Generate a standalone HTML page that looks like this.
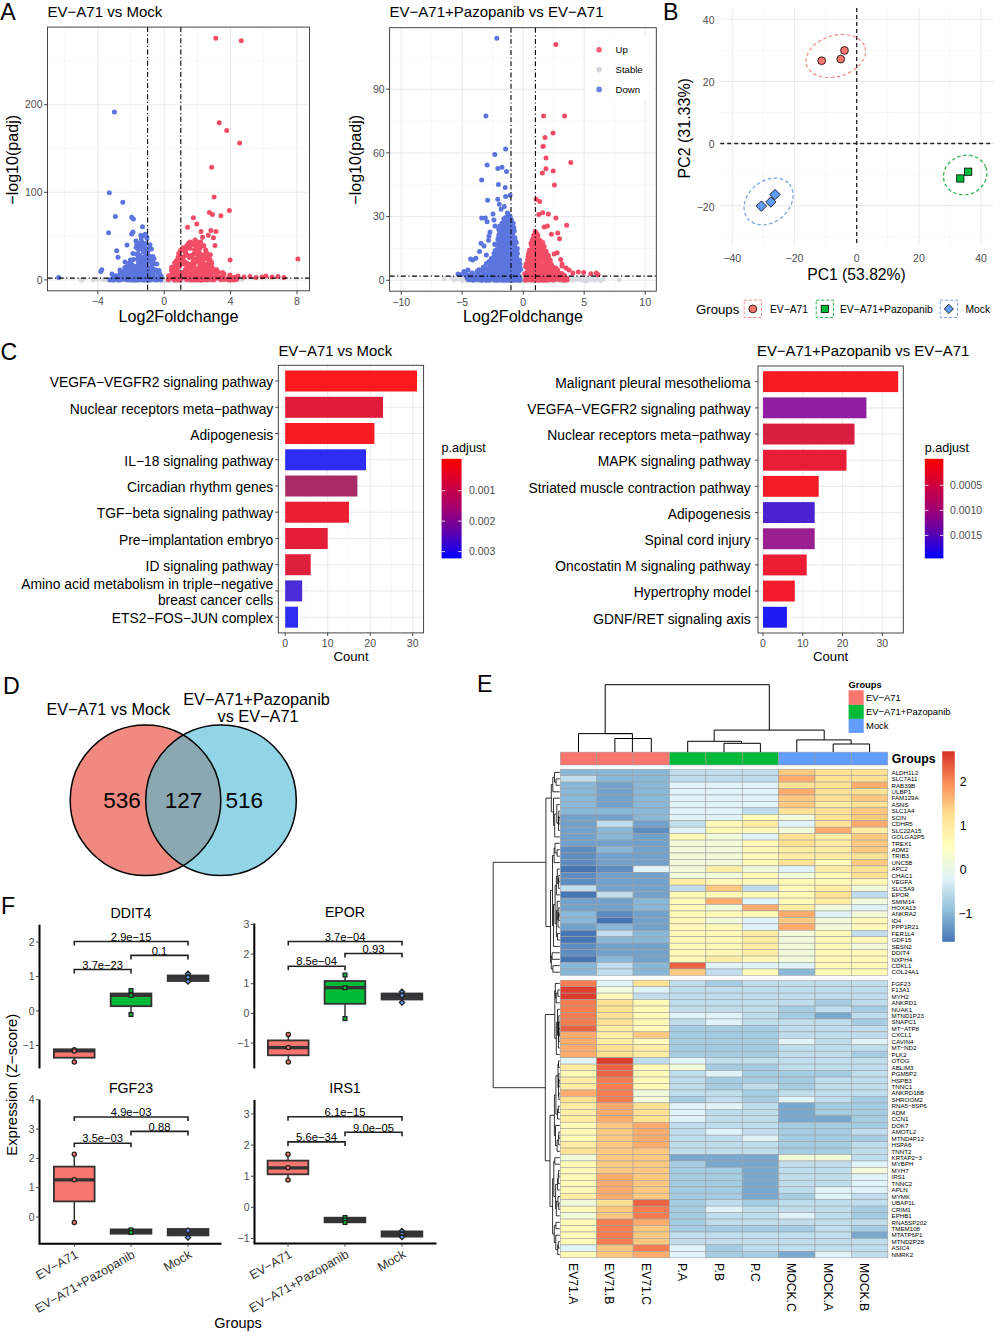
<!DOCTYPE html>
<html><head><meta charset="utf-8"><style>
html,body{margin:0;padding:0;background:#fff;}
svg{display:block;font-family:"Liberation Sans", sans-serif;}
</style></head><body>
<svg width="1002" height="1337" viewBox="0 0 1002 1337">
<rect width="1002" height="1337" fill="#fff"/>
<line x1="64.6" y1="27.1" x2="64.6" y2="290.8" stroke="#F3F3F3" stroke-width="0.6"/>
<line x1="131.0" y1="27.1" x2="131.0" y2="290.8" stroke="#F3F3F3" stroke-width="0.6"/>
<line x1="197.4" y1="27.1" x2="197.4" y2="290.8" stroke="#F3F3F3" stroke-width="0.6"/>
<line x1="263.8" y1="27.1" x2="263.8" y2="290.8" stroke="#F3F3F3" stroke-width="0.6"/>
<line x1="47.5" y1="236.1" x2="309.5" y2="236.1" stroke="#F3F3F3" stroke-width="0.6"/>
<line x1="47.5" y1="148.5" x2="309.5" y2="148.5" stroke="#F3F3F3" stroke-width="0.6"/>
<line x1="47.5" y1="60.9" x2="309.5" y2="60.9" stroke="#F3F3F3" stroke-width="0.6"/>
<line x1="97.8" y1="27.1" x2="97.8" y2="290.8" stroke="#EBEBEB" stroke-width="1.1"/>
<line x1="164.2" y1="27.1" x2="164.2" y2="290.8" stroke="#EBEBEB" stroke-width="1.1"/>
<line x1="230.6" y1="27.1" x2="230.6" y2="290.8" stroke="#EBEBEB" stroke-width="1.1"/>
<line x1="297.0" y1="27.1" x2="297.0" y2="290.8" stroke="#EBEBEB" stroke-width="1.1"/>
<line x1="47.5" y1="279.9" x2="309.5" y2="279.9" stroke="#EBEBEB" stroke-width="1.1"/>
<line x1="47.5" y1="192.3" x2="309.5" y2="192.3" stroke="#EBEBEB" stroke-width="1.1"/>
<line x1="47.5" y1="104.7" x2="309.5" y2="104.7" stroke="#EBEBEB" stroke-width="1.1"/>
<path d="M165.1 279.5h0M150.6 280.8h0M179.3 281.0h0M115.1 279.2h0M182.3 279.8h0M176.5 279.8h0M160.1 280.5h0M124.0 280.1h0M113.2 279.4h0M132.5 278.7h0M188.0 279.6h0M174.4 279.3h0M178.7 280.1h0M142.6 279.7h0M193.4 280.0h0M141.9 278.4h0M178.2 279.8h0M186.0 279.3h0M189.6 279.1h0M180.2 278.5h0M157.5 279.7h0M163.7 279.5h0M180.1 279.7h0M150.3 279.0h0M159.5 280.2h0M211.8 278.8h0M176.6 281.0h0M197.6 279.3h0M198.8 278.5h0M129.4 279.9h0M217.9 279.1h0M182.9 279.5h0M144.4 280.3h0M158.8 280.2h0M172.4 279.7h0M130.1 280.7h0M159.1 279.1h0M178.3 278.9h0M151.9 278.7h0M232.4 279.1h0M180.0 279.9h0M154.9 280.0h0M164.8 279.5h0M172.9 278.1h0M185.3 280.5h0M178.6 279.8h0M191.2 280.3h0M144.8 280.3h0M149.7 280.0h0M155.2 278.4h0M170.2 279.2h0M147.1 279.5h0M184.3 279.3h0M142.5 280.0h0M179.1 280.0h0M168.8 278.6h0M194.4 279.2h0M151.8 280.3h0M172.4 280.5h0M152.3 280.0h0M174.5 280.7h0M128.9 280.1h0M144.7 279.6h0M171.9 280.2h0M141.7 279.9h0M133.2 280.2h0M211.7 279.1h0M178.6 278.7h0M190.7 280.1h0M189.4 280.8h0M153.6 279.7h0M139.2 279.1h0M135.2 279.6h0M189.7 280.3h0M152.1 280.0h0M102.7 280.2h0M145.7 279.9h0M139.1 279.6h0M163.5 278.9h0M113.4 280.6h0M152.8 279.5h0M141.3 279.8h0M158.6 280.5h0M210.0 280.2h0M189.2 280.3h0M153.9 279.3h0M185.5 280.2h0M197.7 279.8h0M205.2 279.7h0M163.8 280.1h0M173.4 279.0h0M152.7 278.7h0M171.2 279.8h0M165.4 279.9h0M195.5 280.8h0M178.6 280.0h0M204.8 280.0h0M173.3 280.4h0M146.5 280.1h0M199.5 279.8h0M158.3 279.4h0M133.8 280.6h0M130.2 279.5h0M169.3 278.6h0M176.4 280.2h0M147.4 280.4h0M241.6 279.9h0M163.3 280.1h0M167.6 279.9h0M234.3 279.2h0M160.4 279.3h0M159.6 279.5h0M187.8 279.7h0M173.2 279.3h0M154.9 279.4h0M162.1 280.0h0M147.3 278.5h0M179.2 280.7h0M175.8 279.8h0M158.0 279.5h0M213.1 279.0h0M105.8 279.8h0M189.8 279.6h0M124.4 279.7h0M173.5 280.6h0M172.6 280.7h0M177.5 279.5h0M210.5 280.6h0M174.6 279.8h0M167.4 280.5h0M130.6 279.8h0M206.7 278.5h0M149.9 280.5h0M173.9 279.8h0M175.7 279.5h0M178.6 280.7h0M163.2 280.4h0M163.1 280.4h0M190.5 279.0h0M161.3 280.3h0M189.4 280.1h0M163.2 279.8h0M132.2 279.1h0M162.1 278.8h0M221.7 279.9h0M145.9 280.4h0M125.8 279.7h0M144.2 279.8h0M155.0 279.6h0M152.6 280.7h0M200.0 280.7h0M176.2 279.7h0M192.9 278.6h0M159.1 279.8h0M163.7 279.9h0M183.3 280.3h0M97.4 279.4h0M144.8 280.0h0M123.1 280.1h0M170.3 279.7h0M123.3 280.6h0M131.2 280.2h0M108.9 280.6h0M172.7 279.4h0M144.6 280.8h0M155.6 279.9h0M153.7 280.1h0M183.7 280.2h0M136.9 279.8h0M173.6 280.8h0M183.8 279.8h0M191.8 280.7h0M176.8 280.1h0M130.9 279.4h0M159.8 279.4h0M198.0 279.3h0M122.8 279.8h0M139.4 279.2h0M163.5 279.5h0M140.1 279.2h0M173.3 279.7h0M128.2 280.5h0M128.4 280.3h0M193.5 279.9h0M158.6 279.6h0M173.2 279.2h0M148.0 279.7h0M177.0 280.4h0M121.7 279.9h0M139.5 278.8h0M139.8 279.8h0M170.4 278.4h0M198.1 279.6h0M157.4 279.4h0M133.6 279.3h0M110.5 279.2h0M143.2 279.2h0M170.9 278.7h0M116.7 278.5h0M225.0 279.4h0M167.1 280.1h0M207.8 279.0h0M173.4 279.2h0M216.0 279.1h0M165.7 280.4h0M170.2 279.6h0M198.4 279.8h0M122.4 279.6h0M168.1 279.0h0M130.2 278.9h0M161.0 280.7h0M126.5 280.1h0M178.3 280.2h0M170.6 280.7h0M161.5 279.4h0M173.9 278.7h0M172.3 279.0h0M117.9 279.3h0M229.0 280.6h0M158.3 279.0h0M191.3 280.5h0M193.9 279.0h0M202.7 279.4h0M186.6 279.0h0M132.5 279.9h0M152.7 279.4h0M113.9 279.9h0M182.2 279.2h0M155.9 279.6h0M208.4 280.7h0M164.6 280.4h0M205.6 279.8h0M173.4 280.8h0M187.6 280.6h0M228.3 280.1h0M218.6 279.8h0M182.1 279.0h0M172.9 279.9h0M149.6 280.0h0M145.1 280.3h0M149.5 279.3h0M160.1 278.8h0M177.0 279.5h0M166.1 279.6h0M136.2 279.1h0M149.2 279.6h0M190.3 278.8h0M160.5 280.6h0M125.5 279.7h0M154.4 280.0h0M183.9 280.5h0M139.1 279.4h0M167.5 280.3h0M157.4 280.4h0M207.0 280.0h0M199.8 280.4h0M148.7 279.4h0M195.9 279.6h0M134.3 280.1h0M164.2 279.2h0M136.8 278.5h0M135.6 278.6h0M146.6 279.0h0M142.0 279.2h0M195.2 279.6h0M137.6 279.2h0M142.7 280.1h0M127.3 279.8h0M221.9 278.4h0M160.7 280.1h0M171.5 280.0h0M145.5 280.0h0M182.8 279.7h0M182.2 280.8h0M139.8 278.3h0M221.3 279.7h0M187.7 280.3h0M150.6 280.5h0M147.1 279.7h0M189.9 279.6h0M177.6 278.2h0M191.9 278.5h0M171.2 280.1h0M172.5 280.5h0M132.2 279.0h0M118.5 280.9h0M137.5 280.0h0M192.8 278.6h0M179.2 279.9h0M170.6 279.6h0M194.7 279.8h0M162.0 279.9h0M221.2 279.3h0M171.8 279.2h0M175.8 280.0h0M164.8 279.1h0M133.1 280.0h0M201.6 280.0h0M201.8 280.2h0M153.3 279.6h0M221.4 279.2h0M206.1 280.0h0M229.0 280.2h0M168.3 279.6h0M161.7 279.5h0M136.5 279.5h0M188.2 279.0h0M142.8 280.2h0M106.6 279.9h0M181.2 279.6h0M141.4 280.8h0M143.1 279.8h0M184.3 280.2h0M159.5 279.5h0M166.9 279.6h0M184.9 279.7h0M183.7 279.8h0M191.2 280.2h0M175.2 278.7h0M188.4 280.0h0M178.6 280.1h0M223.7 279.6h0M144.5 279.6h0M180.3 279.6h0M139.4 280.1h0M221.4 280.7h0M193.9 280.2h0M128.4 279.6h0M177.7 280.7h0M115.3 280.3h0M175.7 280.2h0M93.0 280.2h0M148.4 279.8h0M132.9 279.6h0M166.3 280.8h0M157.3 280.9h0M154.7 280.6h0M160.1 279.9h0M114.3 278.3h0M186.3 280.0h0M130.3 279.1h0M155.6 279.7h0M184.2 280.1h0M136.9 279.0h0M202.2 280.8h0M150.1 279.3h0M205.9 279.3h0M133.5 279.9h0M179.7 279.6h0M169.4 280.6h0M163.6 280.9h0M167.6 279.6h0M174.7 280.8h0M177.0 280.8h0M159.9 280.2h0M163.9 280.2h0M213.1 279.4h0M181.5 280.3h0M184.6 279.3h0M241.4 279.3h0M154.6 280.3h0M202.9 279.7h0M183.4 280.1h0M191.5 280.6h0M169.9 280.9h0M164.4 280.8h0M152.8 279.4h0M189.1 279.5h0M156.7 279.7h0M159.2 279.1h0M138.1 280.3h0M169.0 279.7h0M182.6 279.8h0M147.8 280.9h0M186.4 280.2h0M202.0 280.6h0M172.3 279.8h0M171.0 279.4h0M81.3 280.6h0M198.6 280.5h0M202.0 280.0h0M127.5 279.1h0M150.2 279.6h0M151.8 280.5h0M170.3 279.8h0M113.3 280.4h0M151.4 279.6h0M161.3 280.5h0M134.8 279.8h0M151.8 279.9h0M169.6 279.6h0M162.1 279.6h0M159.2 280.1h0M140.9 279.1h0M147.8 280.3h0M178.5 280.1h0M188.2 279.4h0M155.0 279.8h0M153.9 279.4h0M167.3 280.4h0M156.7 279.7h0M183.6 279.6h0M147.3 280.4h0M133.5 280.1h0M229.4 280.7h0M149.4 280.2h0M157.2 280.4h0M164.2 279.8h0M173.5 280.5h0M145.3 280.3h0M173.3 280.4h0M125.5 279.4h0M134.3 280.3h0M186.3 280.6h0M183.5 278.2h0M148.9 280.5h0M187.7 280.2h0M184.0 279.5h0M154.2 279.8h0M177.8 279.8h0M160.8 278.9h0M201.1 278.5h0M162.9 279.1h0M172.9 279.4h0M179.4 279.1h0M160.6 280.7h0M141.9 279.6h0M153.4 279.6h0M186.3 279.2h0M154.9 280.3h0M161.2 279.9h0M161.1 280.8h0M213.6 279.1h0M143.3 280.6h0M192.9 278.8h0M206.7 280.6h0M140.2 278.5h0M195.0 280.7h0M170.8 280.8h0M187.9 280.4h0M116.0 279.0h0M192.6 279.5h0M159.8 280.4h0M160.2 279.7h0M182.7 280.0h0M143.3 279.6h0M180.0 280.9h0M156.4 280.9h0M110.3 280.4h0M154.9 280.0h0M120.9 279.3h0M184.2 279.8h0M80.6 279.6h0M194.8 279.8h0M171.6 279.6h0M147.1 278.7h0M205.8 280.3h0M223.0 279.2h0M209.5 280.7h0M191.8 279.8h0M135.5 279.7h0M179.0 279.8h0M181.6 279.1h0M202.4 278.9h0M196.7 279.5h0M135.4 278.9h0M163.6 279.2h0M147.8 279.2h0M160.3 279.4h0M180.1 278.9h0M167.4 279.8h0M136.8 280.8h0M191.6 280.0h0M180.9 279.7h0M151.4 278.8h0M176.2 279.4h0M150.0 279.2h0M180.7 279.8h0M200.8 280.1h0M119.9 279.4h0M226.7 278.6h0M209.1 280.0h0M157.0 279.5h0M83.1 279.3h0M185.0 279.3h0M181.4 280.5h0M201.7 280.3h0M183.3 280.1h0M170.6 280.0h0M140.4 279.5h0M174.0 279.9h0M135.8 280.2h0M191.4 280.1h0M195.6 279.3h0M122.9 280.4h0M193.5 279.3h0M133.7 279.2h0M182.3 279.9h0M172.9 280.3h0M209.5 280.6h0" stroke="#CFD3D9" stroke-width="4.80" stroke-linecap="round" fill="none" stroke-opacity="0.8"/>
<path d="M151.6 258.2h0M136.5 278.7h0M147.0 265.1h0M142.1 263.7h0M144.5 272.5h0M128.1 275.9h0M138.4 262.5h0M141.8 266.6h0M145.3 275.9h0M152.2 278.6h0M152.9 277.1h0M157.9 277.5h0M159.1 270.6h0M143.8 279.9h0M142.9 271.6h0M113.3 279.9h0M130.7 273.3h0M137.9 254.0h0M136.9 244.6h0M146.9 238.2h0M140.1 277.0h0M124.8 267.4h0M140.9 272.9h0M132.4 273.7h0M145.5 264.3h0M133.3 279.9h0M156.5 279.8h0M147.0 256.4h0M148.6 258.4h0M151.7 269.5h0M150.2 279.7h0M152.9 276.8h0M153.1 277.5h0M123.0 274.2h0M126.5 278.0h0M147.7 268.0h0M109.9 279.8h0M152.1 266.9h0M145.1 234.2h0M127.7 269.1h0M120.9 273.2h0M158.0 272.3h0M124.8 267.5h0M147.7 251.8h0M142.5 242.6h0M131.8 278.6h0M141.7 277.3h0M116.1 275.8h0M131.4 275.0h0M137.5 248.4h0M137.2 272.7h0M125.2 278.8h0M133.5 259.4h0M137.7 259.1h0M142.5 269.2h0M139.5 271.3h0M123.5 278.8h0M152.9 274.4h0M129.8 272.7h0M142.3 243.5h0M135.5 278.1h0M149.6 278.6h0M138.8 278.8h0M142.0 247.5h0M152.0 258.1h0M139.1 272.0h0M132.0 267.8h0M134.0 279.9h0M119.6 279.5h0M137.0 266.8h0M153.3 278.1h0M135.8 279.0h0M140.0 243.5h0M139.7 274.1h0M142.1 276.4h0M116.1 279.1h0M145.9 253.4h0M133.6 271.0h0M141.5 262.5h0M137.7 279.8h0M139.9 256.9h0M132.9 271.0h0M125.2 277.6h0M146.1 260.7h0M145.0 251.8h0M145.7 235.3h0M141.3 238.6h0M123.1 276.5h0M133.9 279.9h0M146.2 250.0h0M150.0 244.7h0M153.9 277.0h0M117.6 279.8h0M150.7 279.5h0M128.1 275.9h0M143.5 252.1h0M137.9 255.5h0M151.0 273.0h0M156.5 270.2h0M141.1 279.6h0M160.8 279.7h0M136.9 278.5h0M126.5 279.7h0M139.6 255.3h0M144.2 251.1h0M121.1 278.9h0M137.5 254.7h0M123.0 276.1h0M149.8 275.3h0M123.2 274.9h0M142.7 279.8h0M135.5 279.9h0M150.5 261.5h0M120.0 273.7h0M135.9 275.8h0M143.9 256.9h0M112.7 278.5h0M125.9 276.6h0M138.2 265.8h0M125.4 278.1h0M134.3 276.8h0M156.4 279.6h0M144.8 266.6h0M130.3 267.8h0M132.0 266.2h0M132.7 278.2h0M130.4 279.7h0M142.3 273.9h0M149.9 279.1h0M145.5 278.8h0M128.2 263.6h0M143.0 270.8h0M147.5 269.9h0M118.1 279.8h0M146.6 236.8h0M127.6 271.7h0M115.9 277.4h0M139.9 259.1h0M138.6 277.9h0M156.8 264.0h0M157.6 277.7h0M125.8 267.2h0M141.1 270.4h0M150.9 276.6h0M159.5 273.0h0M141.3 241.9h0M134.0 265.9h0M156.6 277.8h0M131.1 263.4h0M133.7 267.4h0M127.1 277.9h0M137.7 279.9h0M141.6 264.1h0M129.7 274.1h0M142.7 248.4h0M138.7 244.6h0M126.9 270.3h0M133.4 269.5h0M139.6 271.5h0M144.2 259.5h0M137.6 276.6h0M134.8 277.4h0M149.7 256.3h0M152.9 256.4h0M146.6 250.2h0M137.0 242.7h0M146.4 249.4h0M120.1 279.8h0M125.0 277.5h0M138.0 254.2h0M132.0 265.0h0M160.1 275.5h0M132.9 253.4h0M138.3 256.6h0M145.3 243.6h0M116.9 278.7h0M118.3 277.9h0M148.9 256.7h0M138.2 279.9h0M135.5 278.1h0M130.4 260.0h0M144.5 279.0h0M135.4 270.3h0M125.9 279.1h0M151.4 249.1h0M148.2 278.1h0M129.2 279.8h0M150.0 276.9h0M141.4 257.9h0M118.0 277.2h0M140.4 256.9h0M141.5 258.3h0M141.9 236.3h0M139.1 271.6h0M138.9 249.4h0M130.5 279.8h0M143.4 277.7h0M143.2 245.1h0M124.5 275.6h0M120.3 279.7h0M146.8 271.3h0M150.4 279.3h0M137.9 267.6h0M154.0 269.6h0M140.2 273.5h0M154.5 279.4h0M152.1 265.5h0M122.6 278.8h0M147.9 248.7h0M141.4 274.2h0M139.0 278.0h0M146.8 273.2h0M120.3 278.2h0M135.3 279.7h0M151.2 272.1h0M147.8 272.8h0M123.0 275.9h0M155.8 279.8h0M145.4 276.4h0M126.1 271.4h0M146.0 255.1h0M142.5 262.6h0M136.1 247.3h0M127.5 277.4h0M141.3 278.6h0M147.3 275.5h0M123.8 271.9h0M129.7 279.9h0M146.3 268.2h0M136.3 267.1h0M154.0 258.7h0M160.8 277.5h0M156.7 272.5h0M144.9 270.7h0M149.9 268.1h0M136.2 253.9h0M144.7 272.7h0M141.6 269.3h0M144.7 279.7h0M137.3 277.4h0M152.8 261.9h0M145.5 276.7h0M147.0 279.9h0M127.4 271.4h0M124.6 272.2h0M142.2 242.5h0M126.8 268.6h0M161.1 276.1h0M144.5 246.8h0M139.6 267.3h0M139.0 268.2h0M134.3 279.0h0M131.3 264.0h0M140.8 275.2h0M137.9 259.0h0M143.4 263.3h0M122.5 274.4h0M149.1 279.9h0M132.3 272.5h0M129.3 279.8h0M114.4 112.0h0M109.3 192.7h0M122.8 202.2h0M115.4 216.5h0M131.7 217.2h0M133.4 218.9h0M108.6 232.8h0M142.5 226.7h0M58.7 277.6h0M101.8 269.8h0M100.8 271.5h0M116.7 250.8h0M118.0 257.3h0M140.8 235.2h0M131.7 234.0h0M133.0 231.9h0M127.0 245.0h0M136.0 241.0h0M125.0 262.0h0M120.0 270.0h0M112.0 274.0h0" stroke="#4A66DA" stroke-width="5.00" stroke-linecap="round" fill="none" stroke-opacity="0.9"/>
<path d="M192.1 278.4h0M179.0 263.7h0M178.1 275.2h0M188.6 273.3h0M202.9 262.5h0M188.7 243.4h0M211.4 262.1h0M222.5 278.0h0M206.5 252.7h0M199.2 279.3h0M181.2 278.6h0M208.6 268.0h0M169.9 278.0h0M199.1 278.7h0M209.6 262.4h0M174.4 279.8h0M186.7 245.8h0M190.4 267.6h0M191.4 279.9h0M202.5 264.3h0M193.3 261.9h0M201.1 279.8h0M204.8 279.1h0M184.8 261.8h0M188.5 276.2h0M189.1 265.7h0M230.2 277.9h0M196.3 250.2h0M230.7 279.9h0M168.3 279.8h0M183.0 247.7h0M224.5 279.6h0M198.4 256.6h0M201.7 279.9h0M173.2 273.7h0M190.1 248.2h0M233.8 279.9h0M178.8 265.3h0M199.2 252.9h0M178.7 253.4h0M205.4 268.8h0M205.8 254.1h0M208.1 263.8h0M180.3 275.9h0M204.2 274.9h0M209.9 275.3h0M193.3 269.9h0M179.0 266.9h0M177.4 278.9h0M211.6 277.9h0M233.9 279.0h0M191.5 255.6h0M207.5 279.7h0M208.2 270.1h0M174.7 277.4h0M193.9 254.0h0M206.7 271.3h0M168.6 275.8h0M220.9 279.5h0M182.3 272.8h0M172.9 272.5h0M234.4 277.3h0M194.2 264.4h0M230.5 278.3h0M175.1 262.6h0M179.0 260.2h0M174.9 278.7h0M202.0 279.3h0M211.7 263.7h0M206.5 257.5h0M201.9 268.2h0M236.7 279.6h0M194.2 245.1h0M195.5 278.6h0M195.5 249.4h0M183.6 264.1h0M177.5 279.9h0M199.5 255.1h0M179.2 255.6h0M193.9 272.9h0M179.3 276.6h0M207.4 259.0h0M196.4 243.0h0M198.8 255.9h0M193.6 274.5h0M208.4 275.3h0M198.6 279.4h0M177.7 267.6h0M176.3 260.7h0M203.9 268.8h0M202.9 264.8h0M198.0 276.0h0M205.0 258.4h0M186.8 263.0h0M187.2 270.1h0M184.9 251.7h0M216.3 275.2h0M207.3 266.8h0M199.4 279.8h0M185.2 269.8h0M211.2 263.6h0M192.9 257.8h0M174.0 278.1h0M200.1 275.1h0M175.5 265.9h0M188.6 277.9h0M175.0 279.9h0M200.4 272.4h0M182.3 256.9h0M183.5 262.9h0M178.5 274.4h0M205.3 275.9h0M201.5 254.8h0M178.9 279.3h0M193.7 266.8h0M187.5 272.7h0M201.6 271.3h0M178.1 257.3h0M191.9 275.6h0M229.0 279.9h0M178.5 279.6h0M196.1 246.5h0M193.3 242.9h0M212.4 279.8h0M193.7 273.8h0M185.7 255.2h0M214.8 271.6h0M194.9 279.8h0M176.5 263.8h0M188.4 243.5h0M200.3 272.7h0M171.5 270.1h0M198.9 274.9h0M201.1 263.2h0M195.0 239.9h0M175.4 279.8h0M206.0 274.2h0M198.9 279.5h0M179.0 273.2h0M200.7 242.1h0M195.6 253.5h0M203.2 279.8h0M190.7 278.4h0M199.1 242.8h0M203.8 245.6h0M195.6 279.9h0M178.2 278.0h0M197.5 277.8h0M192.4 255.9h0M206.2 277.6h0M190.3 272.8h0M230.3 277.8h0M183.0 258.3h0M187.3 279.0h0M198.2 279.2h0M204.3 278.1h0M199.7 260.2h0M218.8 276.8h0M194.4 262.9h0M205.1 273.2h0M205.8 250.4h0M235.3 278.5h0M197.1 243.2h0M202.4 274.4h0M190.1 242.1h0M208.2 256.9h0M174.6 266.0h0M178.2 264.8h0M232.3 278.3h0M209.2 270.3h0M186.2 277.8h0M201.8 279.0h0M200.9 276.5h0M192.5 278.5h0M184.6 249.8h0M186.7 279.6h0M177.2 263.7h0M189.4 257.5h0M236.6 279.1h0M196.4 274.6h0M223.0 277.4h0M199.1 249.9h0M197.6 260.4h0M187.6 266.6h0M200.3 247.6h0M186.6 268.0h0M174.0 274.6h0M174.1 270.7h0M231.3 279.5h0M194.6 250.1h0M208.2 275.0h0M190.0 264.3h0M186.6 254.4h0M211.3 279.0h0M201.4 257.3h0M200.9 261.6h0M175.3 276.7h0M206.9 279.2h0M198.5 278.4h0M212.2 271.7h0M212.3 278.3h0M233.7 279.5h0M200.9 277.0h0M209.3 272.9h0M172.1 272.5h0M180.4 250.5h0M197.2 271.7h0M185.7 251.2h0M207.6 267.3h0M194.1 266.1h0M173.8 279.3h0M179.3 266.8h0M231.3 278.7h0M214.0 279.8h0M172.9 278.0h0M211.9 272.0h0M202.7 278.4h0M191.2 268.6h0M177.4 271.2h0M197.9 257.7h0M204.1 258.7h0M196.3 241.2h0M229.6 275.7h0M175.5 263.5h0M187.0 272.4h0M194.0 276.3h0M187.3 254.9h0M209.4 278.7h0M193.1 276.4h0M191.2 278.8h0M174.6 262.8h0M235.9 279.0h0M211.6 278.3h0M199.8 262.2h0M222.7 272.4h0M185.8 274.7h0M180.4 259.3h0M187.1 279.4h0M186.9 267.3h0M208.5 275.4h0M217.0 272.3h0M194.2 264.0h0M198.8 268.0h0M196.4 269.8h0M209.1 269.7h0M179.9 279.9h0M193.1 261.6h0M196.2 279.4h0M191.9 244.5h0M233.1 279.8h0M192.7 279.8h0M233.7 279.6h0M212.3 268.0h0M179.2 279.9h0M194.7 259.3h0M218.0 272.0h0M205.6 249.8h0M210.2 273.4h0M181.6 262.1h0M207.7 278.9h0M193.6 274.2h0M176.9 272.0h0M195.2 272.6h0M204.4 276.6h0M222.2 276.0h0M226.1 278.9h0M185.1 249.1h0M216.8 269.7h0M222.6 275.5h0M214.7 269.8h0M193.8 278.2h0M205.9 253.3h0M210.5 271.2h0M204.3 263.8h0M199.8 279.9h0M216.3 274.4h0M211.3 276.0h0M185.4 255.4h0M236.3 279.4h0M206.2 279.4h0M192.5 264.2h0M192.8 278.2h0M214.3 279.2h0M186.7 269.1h0M190.8 275.5h0M200.1 279.7h0M196.5 260.9h0M209.9 259.5h0M191.6 271.7h0M196.2 246.4h0M231.1 278.7h0M185.6 275.7h0M218.4 278.0h0M199.0 244.3h0M206.6 279.8h0M199.7 263.6h0M194.7 277.6h0M171.6 267.3h0M188.7 247.4h0M212.8 271.8h0M215.8 38.3h0M241.3 40.7h0M219.2 122.8h0M226.7 130.6h0M239.6 142.9h0M211.7 167.3h0M214.1 197.1h0M229.4 210.4h0M209.4 212.4h0M212.4 214.5h0M220.9 215.8h0M193.4 217.8h0M196.8 224.0h0M187.6 227.3h0M297.9 258.9h0M230.1 259.9h0M201.0 231.6h0M210.9 230.6h0M216.0 231.6h0M208.3 235.2h0M202.6 237.3h0M213.5 237.8h0M215.0 245.6h0M210.4 254.7h0M238.0 276.0h0M244.0 277.0h0M250.0 276.5h0M256.0 277.5h0M262.0 277.0h0M266.0 276.0h0M272.0 277.0h0M278.0 276.5h0M284.0 277.5h0M224.0 274.0h0M230.0 275.0h0M218.0 272.0h0" stroke="#F03A55" stroke-width="5.00" stroke-linecap="round" fill="none" stroke-opacity="0.9"/>
<line x1="147.6" y1="27.1" x2="147.6" y2="290.8" stroke="#000" stroke-width="1.1" stroke-dasharray="5 2.5 1.2 2.5"/>
<line x1="180.8" y1="27.1" x2="180.8" y2="290.8" stroke="#000" stroke-width="1.1" stroke-dasharray="5 2.5 1.2 2.5"/>
<line x1="47.5" y1="278.1" x2="309.5" y2="278.1" stroke="#000" stroke-width="1.1" stroke-dasharray="5 2.5 1.2 2.5"/>
<rect x="47.5" y="27.1" width="262.0" height="263.7" fill="none" stroke="#333" stroke-width="0.9"/>
<line x1="97.8" y1="290.8" x2="97.8" y2="294.3" stroke="#333" stroke-width="0.9"/>
<text x="97.8" y="305.4" font-size="10.5" text-anchor="middle" fill="#4D4D4D">−4</text>
<line x1="164.2" y1="290.8" x2="164.2" y2="294.3" stroke="#333" stroke-width="0.9"/>
<text x="164.2" y="305.4" font-size="10.5" text-anchor="middle" fill="#4D4D4D">0</text>
<line x1="230.6" y1="290.8" x2="230.6" y2="294.3" stroke="#333" stroke-width="0.9"/>
<text x="230.6" y="305.4" font-size="10.5" text-anchor="middle" fill="#4D4D4D">4</text>
<line x1="297.0" y1="290.8" x2="297.0" y2="294.3" stroke="#333" stroke-width="0.9"/>
<text x="297.0" y="305.4" font-size="10.5" text-anchor="middle" fill="#4D4D4D">8</text>
<line x1="44.0" y1="279.9" x2="47.5" y2="279.9" stroke="#333" stroke-width="0.9"/>
<text x="42.5" y="283.6" font-size="10.5" text-anchor="end" fill="#4D4D4D">0</text>
<line x1="44.0" y1="192.3" x2="47.5" y2="192.3" stroke="#333" stroke-width="0.9"/>
<text x="42.5" y="196.0" font-size="10.5" text-anchor="end" fill="#4D4D4D">100</text>
<line x1="44.0" y1="104.7" x2="47.5" y2="104.7" stroke="#333" stroke-width="0.9"/>
<text x="42.5" y="108.4" font-size="10.5" text-anchor="end" fill="#4D4D4D">200</text>
<text x="47.6" y="16.9" font-size="15" text-anchor="start" fill="#000">EV−A71 vs Mock</text>
<text x="178.5" y="322.0" font-size="16.1" text-anchor="middle" fill="#000">Log2Foldchange</text>
<text x="0.0" y="0.0" font-size="16.1" text-anchor="middle" fill="#000" transform="translate(18.1,159.8) rotate(-90)">−log10(padj)</text>
<text x="0.3" y="19.8" font-size="23.2" text-anchor="start" fill="#000">A</text>
<line x1="431.7" y1="27.7" x2="431.7" y2="291.2" stroke="#F3F3F3" stroke-width="0.6"/>
<line x1="492.7" y1="27.7" x2="492.7" y2="291.2" stroke="#F3F3F3" stroke-width="0.6"/>
<line x1="553.7" y1="27.7" x2="553.7" y2="291.2" stroke="#F3F3F3" stroke-width="0.6"/>
<line x1="614.7" y1="27.7" x2="614.7" y2="291.2" stroke="#F3F3F3" stroke-width="0.6"/>
<line x1="389.6" y1="248.5" x2="656.3" y2="248.5" stroke="#F3F3F3" stroke-width="0.6"/>
<line x1="389.6" y1="184.8" x2="656.3" y2="184.8" stroke="#F3F3F3" stroke-width="0.6"/>
<line x1="389.6" y1="121.1" x2="656.3" y2="121.1" stroke="#F3F3F3" stroke-width="0.6"/>
<line x1="389.6" y1="57.4" x2="656.3" y2="57.4" stroke="#F3F3F3" stroke-width="0.6"/>
<line x1="401.2" y1="27.7" x2="401.2" y2="291.2" stroke="#EBEBEB" stroke-width="1.1"/>
<line x1="462.2" y1="27.7" x2="462.2" y2="291.2" stroke="#EBEBEB" stroke-width="1.1"/>
<line x1="523.2" y1="27.7" x2="523.2" y2="291.2" stroke="#EBEBEB" stroke-width="1.1"/>
<line x1="584.2" y1="27.7" x2="584.2" y2="291.2" stroke="#EBEBEB" stroke-width="1.1"/>
<line x1="645.2" y1="27.7" x2="645.2" y2="291.2" stroke="#EBEBEB" stroke-width="1.1"/>
<line x1="389.6" y1="280.3" x2="656.3" y2="280.3" stroke="#EBEBEB" stroke-width="1.1"/>
<line x1="389.6" y1="216.6" x2="656.3" y2="216.6" stroke="#EBEBEB" stroke-width="1.1"/>
<line x1="389.6" y1="152.9" x2="656.3" y2="152.9" stroke="#EBEBEB" stroke-width="1.1"/>
<line x1="389.6" y1="89.2" x2="656.3" y2="89.2" stroke="#EBEBEB" stroke-width="1.1"/>
<path d="M506.2 279.6h0M521.0 278.0h0M529.7 277.6h0M513.5 279.3h0M538.5 279.1h0M543.4 280.1h0M550.1 280.5h0M532.5 280.3h0M504.9 279.0h0M492.1 277.2h0M539.3 281.3h0M484.7 280.4h0M519.2 280.3h0M529.7 278.4h0M507.6 279.3h0M525.0 279.6h0M505.1 279.2h0M507.6 277.9h0M538.9 280.7h0M481.0 278.4h0M524.6 280.6h0M516.7 280.1h0M511.9 280.5h0M509.7 278.9h0M545.0 279.0h0M497.3 279.8h0M562.6 280.2h0M527.8 280.4h0M540.8 278.2h0M533.1 280.5h0M495.5 279.5h0M515.9 279.9h0M508.0 280.2h0M444.5 278.8h0M494.3 278.1h0M536.1 276.8h0M518.2 280.8h0M515.6 275.6h0M504.4 280.2h0M523.3 280.2h0M500.8 277.6h0M498.8 278.8h0M481.7 278.5h0M507.7 279.3h0M527.5 279.1h0M509.2 279.5h0M546.5 280.0h0M495.3 280.4h0M561.5 279.3h0M520.1 278.0h0M495.3 277.2h0M556.1 279.8h0M542.7 279.9h0M508.8 279.3h0M497.0 280.3h0M564.9 279.6h0M553.8 279.0h0M482.2 279.2h0M473.8 279.0h0M520.9 280.8h0M516.0 279.3h0M523.9 280.5h0M515.4 278.8h0M495.8 278.7h0M510.7 281.3h0M536.1 280.1h0M522.8 280.4h0M494.1 279.9h0M535.6 278.8h0M546.4 278.9h0M549.2 280.6h0M504.6 280.4h0M513.4 279.5h0M578.1 279.6h0M585.8 281.2h0M527.5 278.4h0M561.2 279.6h0M519.2 279.3h0M512.1 280.8h0M529.3 279.5h0M501.7 280.1h0M518.9 279.9h0M534.1 276.4h0M527.2 277.5h0M533.9 278.0h0M547.6 278.6h0M533.7 280.4h0M523.0 279.8h0M514.2 275.2h0M544.9 279.8h0M495.7 280.7h0M509.4 279.4h0M496.1 277.3h0M548.8 279.2h0M538.3 281.2h0M518.1 280.6h0M556.9 278.0h0M517.9 280.1h0M553.0 280.0h0M530.5 277.5h0M531.0 281.0h0M514.8 280.2h0M517.5 279.7h0M565.8 278.7h0M571.2 279.7h0M516.5 278.6h0M528.5 279.6h0M524.0 279.2h0M474.1 280.3h0M515.7 279.8h0M520.9 279.6h0M549.7 279.8h0M528.5 279.9h0M541.7 280.2h0M511.4 281.0h0M557.8 278.9h0M492.8 280.8h0M508.3 278.4h0M544.4 278.2h0M543.9 278.3h0M526.8 281.3h0M531.8 280.6h0M552.7 279.2h0M545.6 281.2h0M492.0 279.2h0M481.4 278.8h0M504.4 278.4h0M496.4 280.4h0M510.0 280.6h0M520.4 278.7h0M493.7 280.1h0M533.8 281.0h0M539.4 279.5h0M514.3 280.9h0M508.0 279.0h0M542.3 277.6h0M506.8 276.0h0M546.2 279.2h0M498.4 279.6h0M559.6 280.7h0M534.4 280.5h0M506.4 281.2h0M454.3 278.8h0M531.4 280.0h0M481.1 280.3h0M533.5 279.5h0M585.5 277.7h0M495.2 280.1h0M513.7 279.1h0M505.5 279.6h0M483.0 280.5h0M532.8 278.7h0M545.6 280.6h0M481.9 281.2h0M485.7 279.4h0M541.1 278.1h0M490.7 278.4h0M535.5 278.4h0M567.3 281.1h0M503.4 279.9h0M521.4 279.9h0M460.6 276.4h0M496.3 278.9h0M533.2 278.9h0M517.0 280.3h0M550.2 277.7h0M518.5 280.4h0M567.5 280.3h0M562.4 278.8h0M542.4 277.9h0M531.5 278.3h0M555.6 280.4h0M530.6 280.0h0M490.8 279.9h0M555.1 277.4h0M506.0 279.3h0M500.8 278.7h0M532.6 280.3h0M549.6 280.6h0M572.6 280.1h0M512.2 280.2h0M499.4 277.2h0M479.9 280.1h0M506.3 278.3h0M482.4 278.1h0M529.9 279.1h0M565.3 279.9h0M487.9 278.3h0M619.3 279.9h0M563.0 278.6h0M564.5 280.6h0M545.4 279.7h0M516.5 279.6h0M467.6 281.1h0M499.2 278.2h0M513.9 280.1h0M543.1 281.1h0M541.6 279.6h0M543.7 280.3h0M548.0 279.7h0M563.9 279.5h0M521.6 280.6h0M535.5 280.7h0M514.7 279.3h0M534.6 280.9h0M524.7 277.5h0M466.9 279.6h0M525.5 280.5h0M524.9 278.8h0M494.1 280.1h0M553.7 281.1h0M506.6 280.3h0M560.8 280.3h0M535.5 279.9h0M544.0 280.5h0M510.4 276.9h0M544.8 280.3h0M531.7 279.8h0M543.7 279.2h0M470.8 280.0h0M554.9 279.0h0M521.6 276.4h0M494.9 278.8h0M577.7 279.6h0M553.3 280.4h0M507.6 279.8h0M534.7 279.7h0M532.7 279.2h0M497.2 278.8h0M492.6 279.0h0M549.1 279.2h0M532.4 279.3h0M490.0 280.8h0M517.4 278.6h0M518.6 280.1h0M472.4 279.8h0M523.8 279.6h0M510.7 280.7h0M532.6 281.4h0M529.6 279.1h0M527.2 280.1h0M547.5 280.4h0M522.7 280.7h0M535.8 280.3h0M557.5 279.9h0M528.1 278.7h0M536.0 279.9h0M560.9 279.9h0M547.6 278.0h0M496.1 278.3h0M477.5 280.0h0M526.2 278.6h0M509.7 279.4h0M546.0 279.4h0M515.7 278.8h0M543.2 279.1h0M519.5 280.3h0M506.1 279.1h0M495.8 277.8h0M522.7 278.9h0M555.3 280.0h0M458.6 279.2h0M512.7 279.3h0M506.0 278.6h0M547.4 277.8h0M487.4 280.9h0M487.3 279.2h0M595.1 280.5h0M569.0 278.1h0M502.5 278.0h0M547.7 280.3h0M463.7 277.6h0M491.6 280.2h0M482.1 277.1h0M513.4 278.8h0M495.6 279.8h0M555.0 278.7h0M541.0 279.5h0M507.1 280.0h0M559.2 279.9h0M477.9 279.7h0M539.5 279.8h0M462.3 280.6h0M494.0 280.8h0M535.2 280.5h0M497.7 278.5h0M573.2 280.2h0M527.0 279.9h0M523.6 281.0h0M512.4 278.7h0M485.5 277.7h0M549.7 278.0h0M519.5 278.6h0M477.2 279.2h0M560.9 281.4h0M543.1 280.2h0M502.4 279.5h0M499.0 278.1h0M533.6 280.1h0M548.0 276.5h0M556.6 279.6h0M530.2 279.2h0M578.1 279.5h0M498.3 279.4h0M537.8 279.4h0M591.2 279.5h0M539.1 280.5h0M572.0 279.3h0M535.2 279.6h0M480.0 278.1h0M511.0 280.3h0M479.3 280.3h0M545.7 280.2h0M535.1 280.3h0M524.7 275.8h0M498.2 280.0h0M555.7 277.3h0M546.9 279.8h0M543.8 278.2h0M491.1 278.5h0M500.9 279.5h0M493.9 279.5h0M517.9 279.2h0M487.6 278.4h0M463.1 280.3h0M536.9 280.4h0M514.2 278.1h0M538.7 280.8h0M502.4 279.0h0M504.8 278.7h0M522.7 280.3h0M577.7 278.1h0M512.8 278.7h0M538.6 280.2h0M520.5 276.2h0M533.1 280.2h0M525.2 279.7h0M554.0 280.1h0M485.8 280.5h0M520.9 279.5h0M549.6 280.6h0M516.1 276.9h0M525.0 277.7h0M454.3 280.1h0M505.5 278.7h0M502.8 278.4h0M542.8 278.4h0M555.3 279.8h0M468.4 279.5h0M490.2 278.8h0M513.1 277.5h0M539.7 278.8h0M569.7 279.8h0M538.6 278.0h0M545.3 280.0h0M530.0 280.1h0M575.4 279.3h0M492.8 279.9h0M562.3 279.6h0M545.7 281.0h0M529.6 280.1h0M536.5 278.9h0M486.2 280.6h0M539.2 279.0h0M501.9 279.7h0M546.0 279.4h0M511.5 280.3h0M528.6 279.4h0M499.9 280.5h0M533.2 277.7h0M533.9 279.0h0M558.2 279.1h0M554.9 278.6h0M474.8 278.2h0M502.6 277.5h0M531.6 278.1h0M530.6 280.3h0M515.4 278.4h0M521.4 277.4h0M558.4 280.2h0M522.2 279.0h0M547.3 279.8h0M520.8 280.8h0M525.9 280.8h0M518.3 280.8h0M495.7 281.4h0M525.9 279.0h0M524.6 280.6h0M519.6 279.2h0M511.8 278.6h0M518.3 279.1h0M518.6 278.7h0M503.5 278.5h0M494.2 281.0h0M516.1 280.2h0M529.5 280.4h0M564.2 280.8h0M495.9 278.2h0M504.4 280.8h0M526.0 280.3h0M493.5 276.4h0M528.7 279.7h0M496.1 277.8h0M533.9 276.3h0M500.2 280.4h0M502.3 279.9h0M505.9 279.2h0M527.7 280.2h0M536.1 279.3h0M542.4 279.3h0M545.7 277.4h0M493.4 280.9h0M515.4 276.9h0M567.2 278.6h0M501.3 278.1h0M560.1 280.7h0M561.4 280.7h0M501.3 280.9h0M541.1 280.0h0M537.6 278.4h0M487.3 280.3h0M488.1 280.1h0M516.7 279.2h0M570.2 279.9h0M479.1 280.4h0M522.3 279.5h0M519.6 279.8h0M535.7 279.9h0M601.0 280.6h0M495.6 279.3h0M534.2 279.5h0M569.7 279.5h0M505.3 279.9h0M506.1 280.6h0M506.5 276.5h0M482.0 278.7h0M548.4 280.2h0M533.4 278.6h0M511.7 276.9h0M520.5 280.4h0M537.5 280.5h0M536.7 277.8h0M561.3 278.4h0M596.6 278.3h0M519.3 280.9h0M533.0 278.4h0M508.0 277.8h0M572.3 276.4h0M582.2 280.1h0M498.5 280.3h0M539.4 279.7h0M504.6 280.3h0M556.7 278.0h0M487.5 280.8h0M487.9 280.6h0M548.0 278.8h0M502.2 280.1h0M540.3 280.6h0M556.4 279.6h0M537.4 280.9h0M603.3 279.0h0M534.6 279.6h0M511.4 279.8h0M563.9 279.6h0M526.8 276.4h0M519.6 280.4h0M546.9 277.5h0M518.7 278.6h0M471.3 279.9h0M467.3 280.1h0M555.4 280.9h0M521.4 280.0h0M497.8 277.1h0M546.3 280.2h0M492.3 279.5h0M538.5 280.0h0M514.6 278.9h0M477.5 281.3h0M520.6 280.1h0M517.7 278.4h0M491.2 276.9h0M569.0 280.6h0M532.5 278.6h0M502.5 280.9h0M465.3 278.1h0M518.9 279.6h0M505.4 280.0h0M560.1 280.1h0M470.5 280.1h0M469.5 280.8h0M532.0 278.1h0M530.7 280.7h0M539.0 278.8h0M600.2 280.6h0M547.2 281.4h0M560.5 276.6h0M584.5 279.6h0M533.8 279.5h0M517.0 278.6h0M543.5 279.9h0M521.5 279.0h0M544.0 280.2h0M561.8 278.2h0M549.1 281.0h0M552.6 278.3h0M543.9 279.0h0M451.0 277.7h0M498.1 279.2h0M549.8 280.4h0M539.9 280.4h0M467.9 274.5h0M517.7 276.8h0M520.0 279.7h0M503.0 279.8h0M509.7 280.8h0M500.9 278.5h0M519.1 277.5h0M547.5 280.4h0M493.5 277.0h0M471.3 279.9h0M558.5 278.8h0M587.6 279.5h0M497.2 279.6h0M507.0 278.7h0M521.0 279.5h0M581.0 279.0h0M528.4 278.7h0M544.2 279.1h0M580.8 279.5h0M524.9 276.0h0M548.4 278.4h0M596.6 279.1h0M549.9 278.9h0M480.4 281.2h0M524.5 279.1h0M494.0 279.1h0M560.4 280.2h0M482.8 280.4h0M532.4 280.5h0M494.4 279.5h0M558.8 280.2h0M551.8 279.5h0M504.2 279.0h0M497.3 277.6h0M538.8 278.6h0M524.1 278.5h0M512.6 277.9h0M587.1 280.9h0M533.7 278.9h0M537.0 279.6h0M490.3 279.8h0M528.2 279.8h0M544.8 277.8h0M499.3 276.7h0M531.5 280.5h0M520.0 277.6h0M527.1 281.2h0M507.7 277.8h0M505.8 278.9h0M489.9 278.3h0M549.2 279.5h0M564.4 278.8h0M546.6 279.2h0M508.2 278.0h0M510.8 279.9h0M505.7 281.2h0M534.3 280.3h0M535.3 279.0h0M533.0 279.9h0M519.5 279.9h0M541.3 280.0h0M520.0 279.0h0M562.0 280.6h0M496.3 279.2h0M526.7 280.5h0M498.9 278.1h0M530.5 278.3h0M549.2 279.7h0M528.4 279.4h0M547.4 279.0h0M529.1 279.1h0M531.0 280.4h0M548.4 276.5h0M539.7 278.9h0M593.0 279.6h0M508.8 278.8h0M477.4 280.0h0M524.6 280.2h0M498.2 280.7h0M512.4 279.5h0M547.9 281.4h0M535.4 280.0h0M527.7 278.5h0M485.9 277.9h0M476.3 280.7h0M511.2 279.6h0M517.3 279.9h0M528.2 280.2h0M551.1 276.2h0M518.5 278.7h0" stroke="#CFD3D9" stroke-width="4.80" stroke-linecap="round" fill="none" stroke-opacity="0.8"/>
<path d="M499.9 225.9h0M506.0 269.3h0M514.1 269.4h0M515.8 258.6h0M501.0 233.9h0M512.8 259.9h0M508.8 222.5h0M516.3 242.4h0M506.3 249.9h0M488.6 277.9h0M489.2 280.0h0M515.6 241.8h0M491.0 279.3h0M500.5 246.6h0M513.3 265.7h0M513.2 264.3h0M502.6 273.8h0M520.3 268.4h0M520.0 280.2h0M498.5 252.4h0M516.8 273.9h0M496.3 268.2h0M502.1 237.2h0M506.0 236.3h0M488.9 270.2h0M507.4 238.1h0M507.4 268.6h0M509.8 238.9h0M500.5 237.6h0M478.4 279.4h0M500.2 248.3h0M501.5 227.8h0M501.6 271.7h0M503.9 266.8h0M508.6 220.8h0M497.2 268.6h0M492.6 260.0h0M497.4 274.8h0M512.4 244.4h0M505.3 223.0h0M518.3 269.5h0M500.3 275.2h0M508.5 215.5h0M508.1 255.5h0M480.6 270.7h0M512.5 235.1h0M502.2 225.5h0M517.5 253.6h0M501.8 266.5h0M517.9 266.2h0M511.3 225.1h0M490.6 265.4h0M492.7 266.0h0M502.2 253.5h0M505.1 278.9h0M502.2 267.4h0M494.3 258.6h0M494.7 279.9h0M500.9 265.5h0M481.9 269.8h0M499.1 279.8h0M499.3 236.2h0M508.4 215.7h0M488.2 275.8h0M486.3 280.3h0M494.0 253.4h0M509.4 255.7h0M477.2 271.3h0M512.9 238.9h0M513.7 261.3h0M483.5 273.4h0M504.8 270.0h0M496.5 263.0h0M498.5 279.7h0M506.9 273.6h0M512.6 279.9h0M501.4 235.1h0M490.7 278.5h0M516.4 259.8h0M481.8 280.3h0M499.6 233.2h0M509.3 266.0h0M502.0 273.4h0M510.2 234.1h0M496.8 272.1h0M505.1 236.9h0M502.5 241.8h0M489.0 261.5h0M513.2 223.2h0M503.3 254.2h0M509.0 254.2h0M499.6 260.4h0M468.5 279.4h0M508.8 227.8h0M497.4 280.2h0M514.3 237.6h0M498.8 272.4h0M497.7 255.4h0M499.4 270.8h0M506.4 234.1h0M509.2 222.9h0M497.9 259.3h0M506.4 271.4h0M508.6 253.3h0M514.3 231.1h0M500.7 256.2h0M499.4 278.8h0M505.3 248.2h0M509.8 260.4h0M487.3 277.3h0M494.2 256.5h0M505.5 259.9h0M512.0 279.4h0M506.7 246.8h0M507.0 257.5h0M488.7 274.6h0M504.2 260.7h0M506.6 265.8h0M500.8 278.3h0M512.9 276.3h0M481.5 276.1h0M497.8 268.8h0M514.5 245.8h0M513.4 244.1h0M490.9 265.5h0M476.9 275.9h0M507.1 237.0h0M495.9 270.3h0M501.6 266.7h0M518.9 265.2h0M504.0 257.0h0M505.5 262.7h0M499.6 255.9h0M508.9 260.1h0M502.0 231.1h0M519.9 279.1h0M510.2 263.4h0M499.4 265.1h0M504.9 250.2h0M509.1 257.1h0M500.4 278.0h0M510.4 239.4h0M509.8 270.4h0M505.7 253.8h0M519.7 269.3h0M503.7 222.4h0M504.7 278.2h0M505.7 258.9h0M508.6 227.0h0M508.3 230.0h0M500.7 228.6h0M484.4 277.4h0M516.9 262.5h0M505.3 263.1h0M492.6 278.2h0M486.4 269.0h0M494.4 258.6h0M503.7 275.2h0M499.6 255.7h0M504.4 218.9h0M513.3 263.9h0M504.1 241.9h0M497.4 266.8h0M500.3 275.7h0M509.3 276.3h0M499.0 241.7h0M468.2 279.4h0M501.7 263.0h0M507.2 223.9h0M505.2 229.3h0M515.1 253.0h0M495.8 271.5h0M492.8 266.1h0M506.2 272.9h0M505.6 256.8h0M506.7 232.2h0M507.0 233.1h0M509.4 278.3h0M504.6 256.4h0M510.8 235.1h0M470.7 274.8h0M501.9 269.7h0M510.0 224.8h0M476.1 279.5h0M486.4 263.6h0M505.3 256.3h0M500.0 277.7h0M510.1 258.5h0M499.0 244.1h0M504.8 247.4h0M473.3 280.2h0M470.4 279.6h0M516.8 275.0h0M506.7 278.8h0M518.7 268.4h0M496.6 258.3h0M479.0 269.7h0M510.2 251.2h0M499.5 270.2h0M509.6 275.5h0M505.9 220.4h0M491.3 263.2h0M512.8 266.4h0M512.5 280.3h0M498.7 229.4h0M516.1 269.6h0M501.4 275.5h0M511.6 256.2h0M494.8 244.6h0M500.3 227.7h0M507.4 263.1h0M511.9 225.2h0M509.2 240.0h0M497.9 239.8h0M517.3 248.5h0M517.9 267.0h0M508.9 225.2h0M493.9 270.6h0M506.9 242.0h0M508.9 255.9h0M511.1 278.0h0M499.6 279.8h0M501.6 252.4h0M498.5 274.3h0M512.1 243.5h0M508.3 271.4h0M500.1 242.2h0M515.0 247.0h0M507.5 213.0h0M494.7 244.3h0M500.7 251.6h0M500.0 278.8h0M511.8 242.2h0M498.7 279.1h0M506.3 254.1h0M509.7 278.7h0M504.6 275.8h0M501.8 225.4h0M475.8 276.4h0M502.0 238.6h0M501.3 238.6h0M471.4 278.7h0M503.8 227.2h0M501.3 263.1h0M496.9 256.8h0M503.9 270.2h0M477.8 275.6h0M491.8 268.3h0M519.9 280.0h0M519.0 277.3h0M499.6 251.9h0M508.7 256.6h0M506.8 273.8h0M506.8 249.8h0M512.0 238.6h0M502.6 247.2h0M468.9 279.5h0M506.6 265.8h0M503.3 263.9h0M498.4 274.7h0M508.3 265.3h0M511.3 271.2h0M513.0 226.5h0M502.0 223.2h0M509.1 261.7h0M501.3 273.5h0M497.4 260.6h0M490.1 266.2h0M512.8 233.1h0M498.9 274.9h0M515.8 269.0h0M491.4 272.8h0M499.6 266.3h0M509.1 254.6h0M507.4 279.4h0M504.1 234.2h0M500.5 280.0h0M512.0 265.5h0M499.5 273.4h0M513.7 242.2h0M503.2 242.1h0M511.6 250.1h0M499.7 274.1h0M519.5 259.9h0M508.2 213.9h0M510.5 222.5h0M513.1 255.0h0M488.0 271.6h0M506.6 277.0h0M515.7 279.2h0M507.9 241.7h0M483.8 279.1h0M478.4 270.4h0M512.2 245.4h0M502.2 272.7h0M507.9 280.1h0M495.6 261.2h0M505.8 275.3h0M490.6 273.3h0M513.7 227.5h0M504.6 224.8h0M505.8 275.6h0M491.1 276.3h0M486.4 276.5h0M502.4 265.2h0M498.2 280.1h0M520.2 280.3h0M467.2 278.1h0M506.0 225.6h0M516.6 256.1h0M500.3 279.0h0M509.0 232.7h0M504.3 257.2h0M501.8 272.7h0M495.3 273.0h0M515.8 278.9h0M512.9 259.8h0M509.2 257.8h0M506.6 279.7h0M500.9 256.3h0M512.3 265.2h0M511.5 261.5h0M512.8 229.0h0M514.3 260.8h0M487.8 279.2h0M508.5 279.8h0M503.8 218.9h0M514.5 249.2h0M496.8 277.7h0M505.0 274.7h0M493.0 259.2h0M506.6 254.6h0M511.6 235.0h0M495.9 250.6h0M517.7 260.8h0M517.4 275.9h0M511.7 266.3h0M501.7 251.0h0M513.0 251.9h0M498.7 247.9h0M504.6 279.1h0M504.5 267.6h0M473.1 274.4h0M494.0 273.2h0M520.6 269.4h0M513.7 244.2h0M504.9 244.5h0M511.2 270.4h0M510.4 242.8h0M503.8 219.3h0M518.2 275.6h0M496.0 256.2h0M512.1 273.3h0M496.1 272.2h0M483.3 267.3h0M512.5 259.6h0M503.6 275.9h0M503.7 223.7h0M510.2 216.4h0M511.1 280.1h0M508.2 260.5h0M520.0 264.1h0M506.8 273.6h0M510.3 249.0h0M509.1 247.3h0M502.6 262.0h0M503.3 247.7h0M505.0 275.4h0M508.2 270.5h0M501.0 279.8h0M518.0 268.5h0M494.9 269.1h0M496.3 253.9h0M511.1 278.1h0M514.8 238.8h0M511.3 275.9h0M509.5 276.5h0M516.9 250.2h0M512.8 223.3h0M499.7 243.3h0M512.9 232.4h0M515.4 249.0h0M500.2 252.3h0M502.0 252.6h0M508.5 233.6h0M486.7 279.4h0M495.4 261.1h0M513.6 279.4h0M504.6 260.1h0M505.5 250.5h0M505.9 241.4h0M510.9 246.8h0M510.0 226.4h0M513.6 279.2h0M512.5 276.2h0M501.4 279.7h0M508.8 272.5h0M511.8 228.8h0M517.8 280.2h0M487.5 275.3h0M515.6 241.3h0M512.8 234.5h0M519.1 271.3h0M499.2 257.6h0M506.2 231.8h0M511.6 277.2h0M505.5 244.2h0M515.6 260.5h0M511.2 243.3h0M511.4 219.8h0M515.3 242.7h0M517.3 273.7h0M501.0 236.4h0M511.2 278.9h0M502.5 225.8h0M514.1 268.6h0M505.4 220.1h0M502.7 272.8h0M511.4 236.9h0M507.3 231.4h0M507.8 214.7h0M500.4 246.6h0M506.6 278.7h0M518.6 263.2h0M497.7 248.4h0M513.8 229.4h0M466.5 276.2h0M489.7 280.1h0M516.5 266.2h0M509.3 279.4h0M508.1 253.9h0M501.7 249.7h0M498.8 235.2h0M518.2 279.8h0M503.3 228.3h0M506.6 245.6h0M508.3 273.6h0M508.7 220.1h0M504.7 221.6h0M512.1 261.1h0M503.2 267.3h0M508.3 271.0h0M492.8 270.1h0M506.1 259.4h0M519.0 277.1h0M511.4 267.2h0M478.1 274.9h0M499.9 259.4h0M506.6 222.5h0M510.9 262.6h0M481.2 280.1h0M512.7 230.8h0M507.4 238.7h0M512.6 277.3h0M513.3 239.4h0M499.5 278.9h0M506.8 238.3h0M515.9 264.5h0M515.4 269.7h0M506.2 231.6h0M507.7 266.7h0M494.3 272.4h0M505.9 280.0h0M503.8 241.1h0M503.8 280.2h0M502.8 267.9h0M504.3 278.4h0M511.8 279.9h0M491.5 273.4h0M499.9 265.9h0M508.1 236.6h0M505.1 265.4h0M505.4 244.0h0M492.5 278.8h0M511.9 242.4h0M510.4 218.5h0M504.7 272.2h0M514.4 256.7h0M491.2 277.9h0M506.6 271.4h0M502.1 273.1h0M507.6 247.1h0M505.6 258.7h0M510.6 280.3h0M495.2 250.4h0M479.0 275.5h0M520.1 279.3h0M514.9 237.8h0M484.9 266.8h0M510.5 266.2h0M507.6 240.5h0M491.4 278.6h0M513.3 239.6h0M496.6 270.6h0M499.6 241.8h0M505.0 217.7h0M514.3 241.3h0M504.8 264.6h0M494.1 263.1h0M505.7 274.3h0M503.0 232.8h0M518.3 276.1h0M501.2 226.8h0M508.9 264.0h0M490.6 278.2h0M498.2 238.2h0M513.0 273.8h0M502.4 258.8h0M505.8 246.6h0M515.1 280.1h0M498.1 278.6h0M516.9 274.3h0M468.2 275.5h0M506.8 261.4h0M511.9 247.1h0M504.7 221.3h0M504.3 250.9h0M491.6 278.4h0M492.2 258.9h0M506.6 277.1h0M505.6 149.0h0M494.8 154.4h0M487.1 165.1h0M497.8 168.4h0M502.0 167.3h0M506.5 171.4h0M481.7 179.9h0M498.4 184.5h0M505.2 187.6h0M510.1 195.3h0M505.6 196.6h0M487.6 200.2h0M497.8 199.3h0M499.3 204.3h0M504.3 206.5h0M501.1 209.2h0M493.0 214.0h0M481.7 218.1h0M485.3 218.1h0M487.1 221.7h0M493.9 219.9h0M481.0 243.3h0M484.0 246.0h0M488.5 240.2h0M479.5 251.4h0M486.3 255.0h0M491.2 258.6h0M472.7 260.0h0M475.9 258.2h0M465.1 272.0h0M461.6 274.4h0M472.3 272.9h0M481.3 270.2h0M484.0 269.3h0M477.7 271.1h0M488.5 272.0h0M496.8 38.3h0M485.9 116.0h0M470.6 258.9h0M463.9 271.5h0M458.0 274.0h0M468.0 270.0h0M490.0 232.0h0M495.0 226.0h0M489.0 236.0h0" stroke="#4A66DA" stroke-width="5.00" stroke-linecap="round" fill="none" stroke-opacity="0.9"/>
<path d="M549.0 264.2h0M557.5 277.1h0M539.2 240.7h0M543.5 275.4h0M547.5 266.6h0M543.7 258.0h0M543.9 277.3h0M542.3 279.7h0M544.3 280.2h0M528.6 274.6h0M532.8 265.3h0M542.9 269.5h0M558.3 276.7h0M530.9 261.6h0M546.1 261.6h0M542.4 271.7h0M548.5 256.2h0M528.8 278.7h0M535.8 265.6h0M537.4 279.3h0M545.5 262.1h0M537.1 257.1h0M540.6 246.7h0M527.9 264.4h0M530.3 259.8h0M531.0 268.1h0M541.2 259.5h0M525.5 280.2h0M535.5 235.4h0M537.3 275.5h0M527.8 277.1h0M533.9 279.8h0M533.5 253.3h0M535.6 271.3h0M551.4 272.8h0M524.8 273.7h0M535.9 261.8h0M539.1 262.7h0M552.8 266.9h0M548.2 265.5h0M540.5 249.2h0M542.9 275.8h0M537.7 279.2h0M536.3 253.9h0M552.5 274.2h0M539.1 270.3h0M532.3 253.2h0M527.9 277.7h0M550.9 263.9h0M552.8 268.0h0M533.8 280.0h0M537.9 235.6h0M558.8 275.8h0M538.8 277.9h0M532.4 251.2h0M535.6 251.3h0M529.2 274.2h0M535.2 239.2h0M540.9 243.8h0M543.2 259.9h0M530.2 256.5h0M541.9 247.4h0M527.9 274.5h0M544.2 246.4h0M540.8 243.4h0M553.0 272.2h0M549.0 273.3h0M564.0 278.0h0M535.6 275.4h0M533.7 235.3h0M534.4 270.7h0M542.4 243.3h0M545.6 252.1h0M544.7 272.7h0M532.2 276.2h0M544.3 272.6h0M528.4 258.6h0M540.3 279.6h0M541.6 273.5h0M534.0 250.6h0M529.9 279.5h0M551.5 268.9h0M539.5 240.0h0M543.6 253.6h0M545.0 265.0h0M541.0 279.5h0M566.8 278.2h0M529.1 254.7h0M546.5 270.2h0M554.5 279.5h0M541.2 277.5h0M542.8 277.8h0M549.3 277.3h0M540.2 270.6h0M529.3 273.0h0M534.6 264.2h0M544.2 250.0h0M540.1 275.4h0M527.9 276.3h0M541.8 268.5h0M545.0 276.1h0M532.3 248.1h0M537.7 280.1h0M543.6 267.1h0M551.8 272.6h0M530.0 278.6h0M528.4 253.8h0M557.6 270.0h0M536.8 233.6h0M526.0 264.2h0M544.6 262.9h0M525.7 276.6h0M553.2 279.9h0M546.2 273.7h0M544.8 270.6h0M555.9 268.1h0M544.5 253.5h0M558.0 273.7h0M527.6 275.4h0M539.5 268.1h0M556.0 278.4h0M532.0 275.3h0M533.1 265.1h0M546.2 251.3h0M560.9 279.1h0M552.8 277.7h0M532.8 255.6h0M556.2 272.4h0M539.1 262.1h0M527.5 260.1h0M567.1 279.7h0M531.6 259.7h0M531.3 244.9h0M532.3 266.2h0M550.9 269.5h0M536.6 254.5h0M539.2 241.9h0M530.6 277.8h0M526.2 266.3h0M540.8 278.6h0M554.6 275.8h0M533.5 267.4h0M547.0 270.0h0M545.5 252.0h0M537.5 272.8h0M528.9 279.4h0M536.4 237.9h0M564.2 277.2h0M558.4 272.5h0M545.3 270.2h0M536.2 241.7h0M534.4 279.1h0M546.6 277.5h0M528.3 278.0h0M536.9 278.4h0M527.1 272.1h0M547.7 278.5h0M531.8 255.9h0M539.7 279.2h0M534.6 246.3h0M541.1 278.3h0M537.0 241.3h0M547.1 280.0h0M559.6 279.4h0M528.6 253.4h0M526.4 280.1h0M535.1 272.3h0M533.7 271.3h0M533.9 275.8h0M532.8 255.5h0M556.9 275.8h0M528.0 278.7h0M545.9 259.3h0M539.5 259.3h0M550.6 273.6h0M543.3 274.6h0M566.5 279.6h0M536.3 271.7h0M534.6 266.5h0M535.6 263.2h0M540.4 248.3h0M550.7 265.3h0M535.4 234.1h0M561.4 278.4h0M531.8 260.6h0M539.8 266.9h0M535.8 259.8h0M529.3 265.3h0M542.8 242.5h0M535.3 248.8h0M537.0 273.8h0M531.8 253.4h0M533.7 275.7h0M534.3 279.6h0M536.4 268.4h0M537.4 268.3h0M540.7 264.8h0M531.7 270.4h0M538.6 242.3h0M525.7 266.7h0M543.5 265.0h0M536.7 270.0h0M531.0 242.9h0M533.0 252.7h0M529.4 270.7h0M537.3 248.6h0M549.0 279.8h0M548.5 263.3h0M540.0 247.0h0M551.6 265.2h0M538.3 256.0h0M544.5 256.3h0M541.9 258.3h0M539.7 270.1h0M540.6 272.0h0M533.3 277.3h0M529.4 268.7h0M545.9 265.2h0M529.5 273.3h0M547.4 268.4h0M540.1 252.7h0M552.7 270.5h0M553.8 268.4h0M527.2 279.6h0M536.0 269.4h0M528.8 267.2h0M560.0 274.1h0M540.3 279.7h0M535.1 278.3h0M528.0 256.8h0M540.0 278.3h0M550.5 263.0h0M538.6 248.8h0M555.1 268.3h0M554.4 279.8h0M540.4 275.7h0M539.5 259.5h0M542.3 268.4h0M547.0 261.8h0M539.0 245.8h0M550.2 279.6h0M552.9 278.4h0M534.8 269.0h0M539.4 252.0h0M527.5 275.5h0M534.5 261.0h0M532.8 262.5h0M532.4 252.9h0M532.7 254.0h0M529.4 269.1h0M529.3 268.0h0M546.9 254.4h0M539.7 274.4h0M535.9 253.1h0M535.6 277.6h0M535.3 240.7h0M532.9 238.8h0M534.2 268.1h0M536.4 258.3h0M527.7 270.2h0M539.2 261.4h0M547.3 278.3h0M533.5 242.0h0M543.0 276.2h0M528.3 269.3h0M530.8 274.8h0M549.1 273.9h0M555.6 277.9h0M536.5 233.7h0M538.8 278.4h0M552.6 270.9h0M534.0 249.4h0M530.5 255.6h0M538.7 260.2h0M559.0 279.6h0M528.7 278.8h0M533.5 245.9h0M538.1 268.9h0M532.3 244.7h0M547.3 260.0h0M536.5 239.0h0M535.7 268.0h0M545.7 267.4h0M550.2 260.0h0M533.5 277.9h0M550.3 272.0h0M532.6 270.7h0M531.8 250.2h0M527.6 276.1h0M534.6 264.0h0M549.5 272.0h0M555.4 276.0h0M542.1 276.8h0M529.1 279.6h0M539.7 279.9h0M534.3 280.0h0M533.0 248.6h0M527.9 269.3h0M554.7 274.1h0M543.8 264.7h0M536.7 270.1h0M564.5 277.0h0M540.3 251.9h0M537.2 250.2h0M545.6 279.4h0M540.7 279.6h0M553.9 271.2h0M530.8 279.4h0M547.8 254.9h0M547.5 259.8h0M534.6 272.4h0M540.6 268.7h0M537.9 246.0h0M562.9 278.7h0M565.7 280.1h0M539.4 270.8h0M551.5 277.1h0M547.7 265.6h0M539.1 262.8h0M564.5 275.4h0M535.0 256.0h0M528.7 261.9h0M543.5 275.9h0M548.5 277.8h0M541.9 256.2h0M563.6 280.2h0M536.3 276.8h0M538.3 255.7h0M536.4 277.6h0M538.3 264.3h0M543.1 259.9h0M529.7 278.7h0M536.9 275.5h0M539.4 278.9h0M541.1 241.5h0M539.7 265.8h0M534.3 272.1h0M557.4 276.0h0M542.3 275.6h0M531.2 279.9h0M545.2 271.2h0M539.3 242.0h0M535.2 253.3h0M534.1 279.9h0M535.6 270.1h0M536.0 265.4h0M547.9 276.6h0M538.2 277.9h0M545.8 278.8h0M538.8 240.9h0M546.7 279.9h0M540.3 275.7h0M541.6 280.1h0M541.7 275.8h0M561.8 273.4h0M541.3 254.0h0M532.6 253.5h0M534.3 267.7h0M547.9 267.4h0M547.3 277.0h0M537.0 235.1h0M551.3 273.9h0M546.4 274.0h0M546.4 259.5h0M527.9 264.2h0M556.4 278.7h0M534.0 276.4h0M563.8 279.7h0M532.2 240.4h0M551.9 270.8h0M559.2 275.1h0M540.6 252.7h0M536.2 267.2h0M539.0 262.4h0M533.8 265.0h0M529.3 250.2h0M533.9 278.4h0M539.6 276.2h0M527.1 265.9h0M536.4 272.0h0M543.3 146.3h0M546.0 158.0h0M570.8 162.5h0M546.0 168.7h0M542.4 172.9h0M553.2 170.9h0M554.4 184.9h0M536.1 199.3h0M539.7 201.4h0M538.8 214.5h0M542.7 212.8h0M548.3 214.0h0M555.9 218.1h0M566.6 225.3h0M544.2 227.1h0M547.4 225.9h0M535.2 231.6h0M551.4 234.3h0M557.7 233.0h0M559.5 238.8h0M554.1 254.1h0M557.1 252.8h0M560.7 259.5h0M562.1 263.9h0M572.9 272.9h0M578.3 272.0h0M583.7 272.6h0M590.9 273.8h0M596.3 272.9h0M598.1 274.7h0M555.8 44.5h0M543.6 116.0h0M564.6 116.0h0M553.1 133.0h0M545.0 137.4h0M542.9 146.6h0M566.0 268.0h0M569.0 270.0h0M562.0 266.0h0" stroke="#F03A55" stroke-width="5.00" stroke-linecap="round" fill="none" stroke-opacity="0.9"/>
<line x1="511.0" y1="27.7" x2="511.0" y2="291.2" stroke="#000" stroke-width="1.1" stroke-dasharray="5 2.5 1.2 2.5"/>
<line x1="535.4" y1="27.7" x2="535.4" y2="291.2" stroke="#000" stroke-width="1.1" stroke-dasharray="5 2.5 1.2 2.5"/>
<line x1="389.6" y1="276.1" x2="656.3" y2="276.1" stroke="#000" stroke-width="1.1" stroke-dasharray="5 2.5 1.2 2.5"/>
<rect x="585.0" y="36.0" width="68.0" height="64.0" fill="#fff" stroke="none" stroke-width="0"/>
<path d="M599.1 49.8h0" stroke="#F2475F" stroke-width="5.60" stroke-linecap="round" fill="none" stroke-opacity="0.85"/>
<path d="M599.1 69.6h0" stroke="#CFD3D9" stroke-width="5.60" stroke-linecap="round" fill="none" stroke-opacity="0.9"/>
<path d="M599.1 89.4h0" stroke="#4F6BDD" stroke-width="5.60" stroke-linecap="round" fill="none" stroke-opacity="0.85"/>
<text x="615.5" y="53.3" font-size="9.6" text-anchor="start" fill="#000">Up</text>
<text x="615.5" y="73.1" font-size="9.6" text-anchor="start" fill="#000">Stable</text>
<text x="615.5" y="92.9" font-size="9.6" text-anchor="start" fill="#000">Down</text>
<rect x="389.6" y="27.7" width="266.7" height="263.5" fill="none" stroke="#333" stroke-width="0.9"/>
<line x1="401.2" y1="291.2" x2="401.2" y2="294.7" stroke="#333" stroke-width="0.9"/>
<text x="401.2" y="305.8" font-size="10.5" text-anchor="middle" fill="#4D4D4D">−10</text>
<line x1="462.2" y1="291.2" x2="462.2" y2="294.7" stroke="#333" stroke-width="0.9"/>
<text x="462.2" y="305.8" font-size="10.5" text-anchor="middle" fill="#4D4D4D">−5</text>
<line x1="523.2" y1="291.2" x2="523.2" y2="294.7" stroke="#333" stroke-width="0.9"/>
<text x="523.2" y="305.8" font-size="10.5" text-anchor="middle" fill="#4D4D4D">0</text>
<line x1="584.2" y1="291.2" x2="584.2" y2="294.7" stroke="#333" stroke-width="0.9"/>
<text x="584.2" y="305.8" font-size="10.5" text-anchor="middle" fill="#4D4D4D">5</text>
<line x1="645.2" y1="291.2" x2="645.2" y2="294.7" stroke="#333" stroke-width="0.9"/>
<text x="645.2" y="305.8" font-size="10.5" text-anchor="middle" fill="#4D4D4D">10</text>
<line x1="386.1" y1="280.3" x2="389.6" y2="280.3" stroke="#333" stroke-width="0.9"/>
<text x="384.6" y="284.0" font-size="10.5" text-anchor="end" fill="#4D4D4D">0</text>
<line x1="386.1" y1="216.6" x2="389.6" y2="216.6" stroke="#333" stroke-width="0.9"/>
<text x="384.6" y="220.3" font-size="10.5" text-anchor="end" fill="#4D4D4D">30</text>
<line x1="386.1" y1="152.9" x2="389.6" y2="152.9" stroke="#333" stroke-width="0.9"/>
<text x="384.6" y="156.6" font-size="10.5" text-anchor="end" fill="#4D4D4D">60</text>
<line x1="386.1" y1="89.2" x2="389.6" y2="89.2" stroke="#333" stroke-width="0.9"/>
<text x="384.6" y="92.9" font-size="10.5" text-anchor="end" fill="#4D4D4D">90</text>
<text x="389.6" y="16.9" font-size="15" text-anchor="start" fill="#000">EV−A71+Pazopanib vs EV−A71</text>
<text x="523.0" y="322.0" font-size="16.1" text-anchor="middle" fill="#000">Log2Foldchange</text>
<text x="0.0" y="0.0" font-size="16.1" text-anchor="middle" fill="#000" transform="translate(360.8,159.8) rotate(-90)">−log10(padj)</text>
<line x1="763.4" y1="8.0" x2="763.4" y2="245.7" stroke="#F3F3F3" stroke-width="0.6"/>
<line x1="825.6" y1="8.0" x2="825.6" y2="245.7" stroke="#F3F3F3" stroke-width="0.6"/>
<line x1="887.8" y1="8.0" x2="887.8" y2="245.7" stroke="#F3F3F3" stroke-width="0.6"/>
<line x1="950.0" y1="8.0" x2="950.0" y2="245.7" stroke="#F3F3F3" stroke-width="0.6"/>
<line x1="720.2" y1="236.7" x2="993.3" y2="236.7" stroke="#F3F3F3" stroke-width="0.6"/>
<line x1="720.2" y1="174.6" x2="993.3" y2="174.6" stroke="#F3F3F3" stroke-width="0.6"/>
<line x1="720.2" y1="112.5" x2="993.3" y2="112.5" stroke="#F3F3F3" stroke-width="0.6"/>
<line x1="720.2" y1="50.3" x2="993.3" y2="50.3" stroke="#F3F3F3" stroke-width="0.6"/>
<line x1="732.3" y1="8.0" x2="732.3" y2="245.7" stroke="#EBEBEB" stroke-width="1.1"/>
<line x1="794.5" y1="8.0" x2="794.5" y2="245.7" stroke="#EBEBEB" stroke-width="1.1"/>
<line x1="856.7" y1="8.0" x2="856.7" y2="245.7" stroke="#EBEBEB" stroke-width="1.1"/>
<line x1="918.9" y1="8.0" x2="918.9" y2="245.7" stroke="#EBEBEB" stroke-width="1.1"/>
<line x1="981.1" y1="8.0" x2="981.1" y2="245.7" stroke="#EBEBEB" stroke-width="1.1"/>
<line x1="720.2" y1="205.6" x2="993.3" y2="205.6" stroke="#EBEBEB" stroke-width="1.1"/>
<line x1="720.2" y1="143.5" x2="993.3" y2="143.5" stroke="#EBEBEB" stroke-width="1.1"/>
<line x1="720.2" y1="81.4" x2="993.3" y2="81.4" stroke="#EBEBEB" stroke-width="1.1"/>
<line x1="720.2" y1="19.3" x2="993.3" y2="19.3" stroke="#EBEBEB" stroke-width="1.1"/>
<line x1="856.7" y1="8.0" x2="856.7" y2="245.7" stroke="#222" stroke-width="1.3" stroke-dasharray="4 3"/>
<line x1="720.2" y1="143.5" x2="993.3" y2="143.5" stroke="#222" stroke-width="1.3" stroke-dasharray="4 3"/>
<ellipse cx="835.8" cy="56.0" rx="30.5" ry="20.5" transform="rotate(-17 835.8 56)" fill="none" stroke="#F08A8A" stroke-width="1.2" stroke-dasharray="3.5 2.5"/>
<ellipse cx="965.2" cy="175.0" rx="22" ry="19.5" transform="rotate(-20 965.2 175)" fill="none" stroke="#2BB34A" stroke-width="1.2" stroke-dasharray="3.5 2.5"/>
<ellipse cx="768.6" cy="201.5" rx="27" ry="20.5" transform="rotate(-40 768.6 201.5)" fill="none" stroke="#7A9FE0" stroke-width="1.2" stroke-dasharray="3.5 2.5"/>
<circle cx="821.7" cy="60.7" r="3.9" fill="#F8766D" stroke="#000" stroke-width="0.8"/>
<circle cx="840.7" cy="59.1" r="3.9" fill="#F8766D" stroke="#000" stroke-width="0.8"/>
<circle cx="844.5" cy="50.4" r="3.9" fill="#F8766D" stroke="#000" stroke-width="0.8"/>
<rect x="956.6999999999999" y="174.9" width="7.2" height="7.2" fill="#00BA38" stroke="#000" stroke-width="0.8"/>
<rect x="964.6" y="168.1" width="7.2" height="7.2" fill="#00BA38" stroke="#000" stroke-width="0.8"/>
<path d="M761.4 200.9L766.6 206.1L761.4 211.29999999999998L756.1999999999999 206.1Z" fill="#619CFF" stroke="#000" stroke-width="0.8"/>
<path d="M770.9 196.8L776.1 202L770.9 207.2L765.6999999999999 202Z" fill="#619CFF" stroke="#000" stroke-width="0.8"/>
<path d="M775 189.3L780.2 194.5L775 199.7L769.8 194.5Z" fill="#619CFF" stroke="#000" stroke-width="0.8"/>
<text x="732.3" y="262.0" font-size="10.5" text-anchor="middle" fill="#4D4D4D">−40</text>
<text x="794.5" y="262.0" font-size="10.5" text-anchor="middle" fill="#4D4D4D">−20</text>
<text x="856.7" y="262.0" font-size="10.5" text-anchor="middle" fill="#4D4D4D">0</text>
<text x="918.9" y="262.0" font-size="10.5" text-anchor="middle" fill="#4D4D4D">20</text>
<text x="981.1" y="262.0" font-size="10.5" text-anchor="middle" fill="#4D4D4D">40</text>
<text x="714.5" y="210.5" font-size="10.5" text-anchor="end" fill="#4D4D4D">−20</text>
<text x="714.5" y="148.4" font-size="10.5" text-anchor="end" fill="#4D4D4D">0</text>
<text x="714.5" y="86.3" font-size="10.5" text-anchor="end" fill="#4D4D4D">20</text>
<text x="714.5" y="24.2" font-size="10.5" text-anchor="end" fill="#4D4D4D">40</text>
<text x="856.5" y="279.5" font-size="15.7" text-anchor="middle" fill="#000">PC1 (53.82%)</text>
<text x="0.0" y="0.0" font-size="16.0" text-anchor="middle" fill="#000" transform="translate(690,128.3) rotate(-90)">PC2 (31.33%)</text>
<text x="663.0" y="20.3" font-size="23.2" text-anchor="start" fill="#000">B</text>
<text x="696.0" y="314.0" font-size="13.2" text-anchor="start" fill="#000">Groups</text>
<rect x="744.2" y="300.2" width="17.3" height="17.3" fill="none" stroke="#F08A8A" stroke-width="1" stroke-dasharray="3 2"/>
<circle cx="752.8" cy="308.9" r="3.9" fill="#F8766D" stroke="#000" stroke-width="0.8"/>
<text x="770.0" y="312.8" font-size="10.3" text-anchor="start" fill="#000">EV−A71</text>
<rect x="816.2" y="300.2" width="17.3" height="17.3" fill="none" stroke="#2BB34A" stroke-width="1" stroke-dasharray="3 2"/>
<rect x="821.2" y="305.3" width="7.2" height="7.2" fill="#00BA38" stroke="#000" stroke-width="0.8"/>
<text x="840.0" y="312.8" font-size="10.3" text-anchor="start" fill="#000">EV−A71+Pazopanib</text>
<rect x="940.2" y="300.2" width="17.3" height="17.3" fill="none" stroke="#7A9FE0" stroke-width="1" stroke-dasharray="3 2"/>
<path d="M948.8 304.3L953.4 308.9L948.8 313.5L944.2 308.9Z" fill="#619CFF" stroke="#000" stroke-width="0.8"/>
<text x="965.5" y="312.8" font-size="10.3" text-anchor="start" fill="#000">Mock</text>
<line x1="306.4" y1="365.3" x2="306.4" y2="632.9" stroke="#F3F3F3" stroke-width="0.6"/>
<line x1="348.9" y1="365.3" x2="348.9" y2="632.9" stroke="#F3F3F3" stroke-width="0.6"/>
<line x1="391.4" y1="365.3" x2="391.4" y2="632.9" stroke="#F3F3F3" stroke-width="0.6"/>
<line x1="285.2" y1="365.3" x2="285.2" y2="632.9" stroke="#EBEBEB" stroke-width="1.1"/>
<line x1="327.7" y1="365.3" x2="327.7" y2="632.9" stroke="#EBEBEB" stroke-width="1.1"/>
<line x1="370.2" y1="365.3" x2="370.2" y2="632.9" stroke="#EBEBEB" stroke-width="1.1"/>
<line x1="412.7" y1="365.3" x2="412.7" y2="632.9" stroke="#EBEBEB" stroke-width="1.1"/>
<line x1="278.3" y1="381.0" x2="423.6" y2="381.0" stroke="#EBEBEB" stroke-width="1.1"/>
<line x1="278.3" y1="407.3" x2="423.6" y2="407.3" stroke="#EBEBEB" stroke-width="1.1"/>
<line x1="278.3" y1="433.5" x2="423.6" y2="433.5" stroke="#EBEBEB" stroke-width="1.1"/>
<line x1="278.3" y1="459.7" x2="423.6" y2="459.7" stroke="#EBEBEB" stroke-width="1.1"/>
<line x1="278.3" y1="486.0" x2="423.6" y2="486.0" stroke="#EBEBEB" stroke-width="1.1"/>
<line x1="278.3" y1="512.2" x2="423.6" y2="512.2" stroke="#EBEBEB" stroke-width="1.1"/>
<line x1="278.3" y1="538.5" x2="423.6" y2="538.5" stroke="#EBEBEB" stroke-width="1.1"/>
<line x1="278.3" y1="564.7" x2="423.6" y2="564.7" stroke="#EBEBEB" stroke-width="1.1"/>
<line x1="278.3" y1="590.9" x2="423.6" y2="590.9" stroke="#EBEBEB" stroke-width="1.1"/>
<line x1="278.3" y1="617.2" x2="423.6" y2="617.2" stroke="#EBEBEB" stroke-width="1.1"/>
<rect x="285.2" y="370.5" width="131.8" height="21.0" fill="#FC1A1C" stroke="none" stroke-width="0"/>
<rect x="285.2" y="396.8" width="97.8" height="21.0" fill="#E01C38" stroke="none" stroke-width="0"/>
<rect x="285.2" y="423.0" width="89.2" height="21.0" fill="#F81C22" stroke="none" stroke-width="0"/>
<rect x="285.2" y="449.3" width="80.8" height="21.0" fill="#2C2CF2" stroke="none" stroke-width="0"/>
<rect x="285.2" y="475.5" width="72.2" height="21.0" fill="#A82A66" stroke="none" stroke-width="0"/>
<rect x="285.2" y="501.7" width="63.8" height="21.0" fill="#EC1E30" stroke="none" stroke-width="0"/>
<rect x="285.2" y="528.0" width="42.5" height="21.0" fill="#E41E36" stroke="none" stroke-width="0"/>
<rect x="285.2" y="554.2" width="25.5" height="21.0" fill="#DE1F3C" stroke="none" stroke-width="0"/>
<rect x="285.2" y="580.4" width="17.0" height="21.0" fill="#4A2BD8" stroke="none" stroke-width="0"/>
<rect x="285.2" y="606.7" width="12.8" height="21.0" fill="#2E2EF2" stroke="none" stroke-width="0"/>
<rect x="278.3" y="365.3" width="145.3" height="267.6" fill="none" stroke="#333" stroke-width="0.9"/>
<line x1="285.2" y1="632.9" x2="285.2" y2="635.9" stroke="#333" stroke-width="0.9"/>
<text x="285.2" y="647.2" font-size="10.5" text-anchor="middle" fill="#4D4D4D">0</text>
<line x1="327.7" y1="632.9" x2="327.7" y2="635.9" stroke="#333" stroke-width="0.9"/>
<text x="327.7" y="647.2" font-size="10.5" text-anchor="middle" fill="#4D4D4D">10</text>
<line x1="370.2" y1="632.9" x2="370.2" y2="635.9" stroke="#333" stroke-width="0.9"/>
<text x="370.2" y="647.2" font-size="10.5" text-anchor="middle" fill="#4D4D4D">20</text>
<line x1="412.7" y1="632.9" x2="412.7" y2="635.9" stroke="#333" stroke-width="0.9"/>
<text x="412.7" y="647.2" font-size="10.5" text-anchor="middle" fill="#4D4D4D">30</text>
<line x1="275.3" y1="381.0" x2="278.3" y2="381.0" stroke="#333" stroke-width="0.9"/>
<text x="273.3" y="387.2" font-size="13.85" text-anchor="end" fill="#000">VEGFA−VEGFR2 signaling pathway</text>
<line x1="275.3" y1="407.3" x2="278.3" y2="407.3" stroke="#333" stroke-width="0.9"/>
<text x="273.3" y="413.5" font-size="13.85" text-anchor="end" fill="#000">Nuclear receptors meta−pathway</text>
<line x1="275.3" y1="433.5" x2="278.3" y2="433.5" stroke="#333" stroke-width="0.9"/>
<text x="273.3" y="439.7" font-size="13.85" text-anchor="end" fill="#000">Adipogenesis</text>
<line x1="275.3" y1="459.7" x2="278.3" y2="459.7" stroke="#333" stroke-width="0.9"/>
<text x="273.3" y="465.9" font-size="13.85" text-anchor="end" fill="#000">IL−18 signaling pathway</text>
<line x1="275.3" y1="486.0" x2="278.3" y2="486.0" stroke="#333" stroke-width="0.9"/>
<text x="273.3" y="492.2" font-size="13.85" text-anchor="end" fill="#000">Circadian rhythm genes</text>
<line x1="275.3" y1="512.2" x2="278.3" y2="512.2" stroke="#333" stroke-width="0.9"/>
<text x="273.3" y="518.4" font-size="13.85" text-anchor="end" fill="#000">TGF−beta signaling pathway</text>
<line x1="275.3" y1="538.5" x2="278.3" y2="538.5" stroke="#333" stroke-width="0.9"/>
<text x="273.3" y="544.7" font-size="13.85" text-anchor="end" fill="#000">Pre−implantation embryo</text>
<line x1="275.3" y1="564.7" x2="278.3" y2="564.7" stroke="#333" stroke-width="0.9"/>
<text x="273.3" y="570.9" font-size="13.85" text-anchor="end" fill="#000">ID signaling pathway</text>
<line x1="275.3" y1="590.9" x2="278.3" y2="590.9" stroke="#333" stroke-width="0.9"/>
<text x="273.3" y="589.3" font-size="13.85" text-anchor="end" fill="#000">Amino acid metabolism in triple−negative</text>
<text x="273.3" y="604.6" font-size="13.85" text-anchor="end" fill="#000">breast cancer cells</text>
<line x1="275.3" y1="617.2" x2="278.3" y2="617.2" stroke="#333" stroke-width="0.9"/>
<text x="273.3" y="623.4" font-size="13.85" text-anchor="end" fill="#000">ETS2−FOS−JUN complex</text>
<text x="351.0" y="660.9" font-size="13.2" text-anchor="middle" fill="#000">Count</text>
<text x="278.4" y="355.5" font-size="14.9" text-anchor="start" fill="#000">EV−A71 vs Mock</text>
<defs><linearGradient id="g278" x1="0" y1="0" x2="0" y2="1"><stop offset="0" stop-color="#FF0000"/><stop offset="0.25" stop-color="#D2003A"/><stop offset="0.5" stop-color="#A20070"/><stop offset="0.75" stop-color="#5A00B0"/><stop offset="1" stop-color="#0000FF"/></linearGradient></defs>
<rect x="441.6" y="458.8" width="20.0" height="99.6" fill="url(#g278)" stroke="none" stroke-width="0"/>
<text x="441.6" y="452.0" font-size="12.6" text-anchor="start" fill="#000">p.adjust</text>
<line x1="441.6" y1="490.7" x2="445.1" y2="490.7" stroke="#fff" stroke-width="0.8"/>
<line x1="458.1" y1="490.7" x2="461.6" y2="490.7" stroke="#fff" stroke-width="0.8"/>
<text x="469.0" y="494.3" font-size="10.5" text-anchor="start" fill="#4D4D4D">0.001</text>
<line x1="441.6" y1="521.1" x2="445.1" y2="521.1" stroke="#fff" stroke-width="0.8"/>
<line x1="458.1" y1="521.1" x2="461.6" y2="521.1" stroke="#fff" stroke-width="0.8"/>
<text x="469.0" y="524.7" font-size="10.5" text-anchor="start" fill="#4D4D4D">0.002</text>
<line x1="441.6" y1="551.6" x2="445.1" y2="551.6" stroke="#fff" stroke-width="0.8"/>
<line x1="458.1" y1="551.6" x2="461.6" y2="551.6" stroke="#fff" stroke-width="0.8"/>
<text x="469.0" y="555.2" font-size="10.5" text-anchor="start" fill="#4D4D4D">0.003</text>
<line x1="782.9" y1="366.0" x2="782.9" y2="633.0" stroke="#F3F3F3" stroke-width="0.6"/>
<line x1="822.7" y1="366.0" x2="822.7" y2="633.0" stroke="#F3F3F3" stroke-width="0.6"/>
<line x1="862.4" y1="366.0" x2="862.4" y2="633.0" stroke="#F3F3F3" stroke-width="0.6"/>
<line x1="902.2" y1="366.0" x2="902.2" y2="633.0" stroke="#F3F3F3" stroke-width="0.6"/>
<line x1="763.0" y1="366.0" x2="763.0" y2="633.0" stroke="#EBEBEB" stroke-width="1.1"/>
<line x1="802.8" y1="366.0" x2="802.8" y2="633.0" stroke="#EBEBEB" stroke-width="1.1"/>
<line x1="842.5" y1="366.0" x2="842.5" y2="633.0" stroke="#EBEBEB" stroke-width="1.1"/>
<line x1="882.3" y1="366.0" x2="882.3" y2="633.0" stroke="#EBEBEB" stroke-width="1.1"/>
<line x1="758.0" y1="381.7" x2="903.3" y2="381.7" stroke="#EBEBEB" stroke-width="1.1"/>
<line x1="758.0" y1="407.9" x2="903.3" y2="407.9" stroke="#EBEBEB" stroke-width="1.1"/>
<line x1="758.0" y1="434.1" x2="903.3" y2="434.1" stroke="#EBEBEB" stroke-width="1.1"/>
<line x1="758.0" y1="460.2" x2="903.3" y2="460.2" stroke="#EBEBEB" stroke-width="1.1"/>
<line x1="758.0" y1="486.4" x2="903.3" y2="486.4" stroke="#EBEBEB" stroke-width="1.1"/>
<line x1="758.0" y1="512.6" x2="903.3" y2="512.6" stroke="#EBEBEB" stroke-width="1.1"/>
<line x1="758.0" y1="538.8" x2="903.3" y2="538.8" stroke="#EBEBEB" stroke-width="1.1"/>
<line x1="758.0" y1="564.9" x2="903.3" y2="564.9" stroke="#EBEBEB" stroke-width="1.1"/>
<line x1="758.0" y1="591.1" x2="903.3" y2="591.1" stroke="#EBEBEB" stroke-width="1.1"/>
<line x1="758.0" y1="617.3" x2="903.3" y2="617.3" stroke="#EBEBEB" stroke-width="1.1"/>
<rect x="763.0" y="371.2" width="135.2" height="20.9" fill="#F81A22" stroke="none" stroke-width="0"/>
<rect x="763.0" y="397.4" width="103.4" height="20.9" fill="#8F1EA0" stroke="none" stroke-width="0"/>
<rect x="763.0" y="423.6" width="91.5" height="20.9" fill="#D81F40" stroke="none" stroke-width="0"/>
<rect x="763.0" y="449.8" width="83.5" height="20.9" fill="#E81D36" stroke="none" stroke-width="0"/>
<rect x="763.0" y="475.9" width="55.7" height="20.9" fill="#F51C28" stroke="none" stroke-width="0"/>
<rect x="763.0" y="502.1" width="51.7" height="20.9" fill="#4A22D0" stroke="none" stroke-width="0"/>
<rect x="763.0" y="528.3" width="51.7" height="20.9" fill="#9A1F90" stroke="none" stroke-width="0"/>
<rect x="763.0" y="554.5" width="43.7" height="20.9" fill="#EC1D32" stroke="none" stroke-width="0"/>
<rect x="763.0" y="580.6" width="31.8" height="20.9" fill="#F21C2C" stroke="none" stroke-width="0"/>
<rect x="763.0" y="606.8" width="23.9" height="20.9" fill="#1E1CF2" stroke="none" stroke-width="0"/>
<rect x="758" y="366" width="145.3" height="267.0" fill="none" stroke="#333" stroke-width="0.9"/>
<line x1="763.0" y1="633.0" x2="763.0" y2="636.0" stroke="#333" stroke-width="0.9"/>
<text x="763.0" y="647.3" font-size="10.5" text-anchor="middle" fill="#4D4D4D">0</text>
<line x1="802.8" y1="633.0" x2="802.8" y2="636.0" stroke="#333" stroke-width="0.9"/>
<text x="802.8" y="647.3" font-size="10.5" text-anchor="middle" fill="#4D4D4D">10</text>
<line x1="842.5" y1="633.0" x2="842.5" y2="636.0" stroke="#333" stroke-width="0.9"/>
<text x="842.5" y="647.3" font-size="10.5" text-anchor="middle" fill="#4D4D4D">20</text>
<line x1="882.3" y1="633.0" x2="882.3" y2="636.0" stroke="#333" stroke-width="0.9"/>
<text x="882.3" y="647.3" font-size="10.5" text-anchor="middle" fill="#4D4D4D">30</text>
<line x1="755.0" y1="381.7" x2="758.0" y2="381.7" stroke="#333" stroke-width="0.9"/>
<text x="750.8" y="387.9" font-size="13.85" text-anchor="end" fill="#000">Malignant pleural mesothelioma</text>
<line x1="755.0" y1="407.9" x2="758.0" y2="407.9" stroke="#333" stroke-width="0.9"/>
<text x="750.8" y="414.1" font-size="13.85" text-anchor="end" fill="#000">VEGFA−VEGFR2 signaling pathway</text>
<line x1="755.0" y1="434.1" x2="758.0" y2="434.1" stroke="#333" stroke-width="0.9"/>
<text x="750.8" y="440.3" font-size="13.85" text-anchor="end" fill="#000">Nuclear receptors meta−pathway</text>
<line x1="755.0" y1="460.2" x2="758.0" y2="460.2" stroke="#333" stroke-width="0.9"/>
<text x="750.8" y="466.4" font-size="13.85" text-anchor="end" fill="#000">MAPK signaling pathway</text>
<line x1="755.0" y1="486.4" x2="758.0" y2="486.4" stroke="#333" stroke-width="0.9"/>
<text x="750.8" y="492.6" font-size="13.85" text-anchor="end" fill="#000">Striated muscle contraction pathway</text>
<line x1="755.0" y1="512.6" x2="758.0" y2="512.6" stroke="#333" stroke-width="0.9"/>
<text x="750.8" y="518.8" font-size="13.85" text-anchor="end" fill="#000">Adipogenesis</text>
<line x1="755.0" y1="538.8" x2="758.0" y2="538.8" stroke="#333" stroke-width="0.9"/>
<text x="750.8" y="545.0" font-size="13.85" text-anchor="end" fill="#000">Spinal cord injury</text>
<line x1="755.0" y1="564.9" x2="758.0" y2="564.9" stroke="#333" stroke-width="0.9"/>
<text x="750.8" y="571.1" font-size="13.85" text-anchor="end" fill="#000">Oncostatin M signaling pathway</text>
<line x1="755.0" y1="591.1" x2="758.0" y2="591.1" stroke="#333" stroke-width="0.9"/>
<text x="750.8" y="597.3" font-size="13.85" text-anchor="end" fill="#000">Hypertrophy model</text>
<line x1="755.0" y1="617.3" x2="758.0" y2="617.3" stroke="#333" stroke-width="0.9"/>
<text x="750.8" y="623.5" font-size="13.85" text-anchor="end" fill="#000">GDNF/RET signaling axis</text>
<text x="830.6" y="661.0" font-size="13.2" text-anchor="middle" fill="#000">Count</text>
<text x="757.0" y="355.5" font-size="14.9" text-anchor="start" fill="#000">EV−A71+Pazopanib vs EV−A71</text>
<defs><linearGradient id="g758" x1="0" y1="0" x2="0" y2="1"><stop offset="0" stop-color="#FF0000"/><stop offset="0.25" stop-color="#D2003A"/><stop offset="0.5" stop-color="#A20070"/><stop offset="0.75" stop-color="#5A00B0"/><stop offset="1" stop-color="#0000FF"/></linearGradient></defs>
<rect x="924.8" y="458.8" width="18.6" height="99.6" fill="url(#g758)" stroke="none" stroke-width="0"/>
<text x="924.8" y="452.0" font-size="12.6" text-anchor="start" fill="#000">p.adjust</text>
<line x1="924.8" y1="485.3" x2="928.3" y2="485.3" stroke="#fff" stroke-width="0.8"/>
<line x1="939.9" y1="485.3" x2="943.4" y2="485.3" stroke="#fff" stroke-width="0.8"/>
<text x="950.0" y="488.9" font-size="10.5" text-anchor="start" fill="#4D4D4D">0.0005</text>
<line x1="924.8" y1="510.4" x2="928.3" y2="510.4" stroke="#fff" stroke-width="0.8"/>
<line x1="939.9" y1="510.4" x2="943.4" y2="510.4" stroke="#fff" stroke-width="0.8"/>
<text x="950.0" y="514.0" font-size="10.5" text-anchor="start" fill="#4D4D4D">0.0010</text>
<line x1="924.8" y1="535.4" x2="928.3" y2="535.4" stroke="#fff" stroke-width="0.8"/>
<line x1="939.9" y1="535.4" x2="943.4" y2="535.4" stroke="#fff" stroke-width="0.8"/>
<text x="950.0" y="539.0" font-size="10.5" text-anchor="start" fill="#4D4D4D">0.0015</text>
<text x="0.5" y="359.8" font-size="23.2" text-anchor="start" fill="#000">C</text>
<text x="3.0" y="694.2" font-size="23.2" text-anchor="start" fill="#000">D</text>
<circle cx="145.5" cy="800.2" r="75.3" fill="#F08A80"/>
<circle cx="221" cy="800.2" r="75.3" fill="#91D5E6"/>
<defs><clipPath id="vc"><circle cx="145.5" cy="800.2" r="75.3"/></clipPath></defs>
<circle cx="221" cy="800.2" r="75.3" fill="#8BA8B2" clip-path="url(#vc)"/>
<circle cx="145.5" cy="800.2" r="75.3" fill="none" stroke="#000" stroke-width="1.5"/>
<circle cx="221" cy="800.2" r="75.3" fill="none" stroke="#000" stroke-width="1.5"/>
<text x="122.0" y="808.0" font-size="22.5" text-anchor="middle" fill="#000">536</text>
<text x="183.5" y="808.0" font-size="22.5" text-anchor="middle" fill="#000">127</text>
<text x="244.3" y="808.0" font-size="22.5" text-anchor="middle" fill="#000">516</text>
<text x="108.3" y="715.0" font-size="16.2" text-anchor="middle" fill="#000">EV−A71 vs Mock</text>
<text x="256.5" y="704.5" font-size="16.3" text-anchor="middle" fill="#000">EV−A71+Pazopanib</text>
<text x="258.0" y="721.6" font-size="16.3" text-anchor="middle" fill="#000">vs EV−A71</text>
<text x="1.0" y="914.3" font-size="23.2" text-anchor="start" fill="#000">F</text>
<text x="131.0" y="917.7" font-size="14.2" text-anchor="middle" fill="#000">DDIT4</text>
<line x1="39.5" y1="924.7" x2="39.5" y2="1068.4" stroke="#000" stroke-width="2"/>
<line x1="36.0" y1="1045.5" x2="39.5" y2="1045.5" stroke="#333" stroke-width="0.9"/>
<text x="34.5" y="1049.1" font-size="10.5" text-anchor="end" fill="#4D4D4D">−1</text>
<line x1="36.0" y1="1011.0" x2="39.5" y2="1011.0" stroke="#333" stroke-width="0.9"/>
<text x="34.5" y="1014.6" font-size="10.5" text-anchor="end" fill="#4D4D4D">0</text>
<line x1="36.0" y1="976.5" x2="39.5" y2="976.5" stroke="#333" stroke-width="0.9"/>
<text x="34.5" y="980.1" font-size="10.5" text-anchor="end" fill="#4D4D4D">1</text>
<line x1="36.0" y1="942.0" x2="39.5" y2="942.0" stroke="#333" stroke-width="0.9"/>
<text x="34.5" y="945.6" font-size="10.5" text-anchor="end" fill="#4D4D4D">2</text>
<line x1="74.3" y1="1049.3" x2="74.3" y2="1049.3" stroke="#333" stroke-width="1.5"/>
<line x1="74.3" y1="1057.7" x2="74.3" y2="1062.0" stroke="#333" stroke-width="1.5"/>
<rect x="53.9" y="1049.3" width="40.7" height="8.4" fill="#F8766D" stroke="#333" stroke-width="1.8"/>
<line x1="53.9" y1="1050.8" x2="94.7" y2="1050.8" stroke="#333" stroke-width="3.2"/>
<circle cx="74.3" cy="1049.7" r="2.1" fill="#F8766D" stroke="#222" stroke-width="1.3"/>
<circle cx="74.3" cy="1051.0" r="2.1" fill="#F8766D" stroke="#222" stroke-width="1.3"/>
<circle cx="74.3" cy="1062.0" r="2.1" fill="#F8766D" stroke="#222" stroke-width="1.3"/>
<line x1="131.0" y1="990.6" x2="131.0" y2="993.5" stroke="#333" stroke-width="1.5"/>
<line x1="131.0" y1="1006.2" x2="131.0" y2="1014.5" stroke="#333" stroke-width="1.5"/>
<rect x="110.7" y="993.5" width="40.7" height="12.7" fill="#00BA38" stroke="#333" stroke-width="1.8"/>
<line x1="110.7" y1="995.4" x2="151.3" y2="995.4" stroke="#333" stroke-width="3.2"/>
<rect x="129.1" y="988.7" width="3.8" height="3.8" fill="#00BA38" stroke="#222" stroke-width="1.3"/>
<rect x="129.1" y="993.5" width="3.8" height="3.8" fill="#00BA38" stroke="#222" stroke-width="1.3"/>
<rect x="129.1" y="1012.6" width="3.8" height="3.8" fill="#00BA38" stroke="#222" stroke-width="1.3"/>
<line x1="188.0" y1="973.8" x2="188.0" y2="975.5" stroke="#333" stroke-width="1.5"/>
<line x1="188.0" y1="981.0" x2="188.0" y2="981.5" stroke="#333" stroke-width="1.5"/>
<rect x="167.7" y="975.5" width="40.7" height="5.5" fill="#3B3E46" stroke="#333" stroke-width="1.8"/>
<line x1="167.7" y1="977.5" x2="208.3" y2="977.5" stroke="#333" stroke-width="3.2"/>
<path d="M188 971.2L190.6 973.8L188 976.4L185.4 973.8Z" fill="#619CFF" stroke="#222" stroke-width="1.3"/>
<path d="M188 974.8L190.6 977.4L188 980.0L185.4 977.4Z" fill="#619CFF" stroke="#222" stroke-width="1.3"/>
<path d="M188 978.9L190.6 981.5L188 984.1L185.4 981.5Z" fill="#619CFF" stroke="#222" stroke-width="1.3"/>
<path d="M74.3 945.5V941.5H188.0V945.5" fill="none" stroke="#222" stroke-width="1.6"/>
<text x="131.2" y="940.7" font-size="11.2" text-anchor="middle" fill="#000">2.9e−15</text>
<path d="M131.0 959.4V955.4H188.0V959.4" fill="none" stroke="#222" stroke-width="1.6"/>
<text x="159.5" y="954.6" font-size="11.2" text-anchor="middle" fill="#000">0.1</text>
<path d="M74.3 973.5V969.5H131.0V973.5" fill="none" stroke="#222" stroke-width="1.6"/>
<text x="102.7" y="968.7" font-size="11.2" text-anchor="middle" fill="#000">3.7e−23</text>
<text x="345.0" y="916.5" font-size="14.2" text-anchor="middle" fill="#000">EPOR</text>
<line x1="254.3" y1="923.5" x2="254.3" y2="1068.4" stroke="#000" stroke-width="2"/>
<line x1="250.8" y1="1043.1" x2="254.3" y2="1043.1" stroke="#333" stroke-width="0.9"/>
<text x="249.3" y="1046.7" font-size="10.5" text-anchor="end" fill="#4D4D4D">−1</text>
<line x1="250.8" y1="1013.4" x2="254.3" y2="1013.4" stroke="#333" stroke-width="0.9"/>
<text x="249.3" y="1017.0" font-size="10.5" text-anchor="end" fill="#4D4D4D">0</text>
<line x1="250.8" y1="983.7" x2="254.3" y2="983.7" stroke="#333" stroke-width="0.9"/>
<text x="249.3" y="987.3" font-size="10.5" text-anchor="end" fill="#4D4D4D">1</text>
<line x1="250.8" y1="954.0" x2="254.3" y2="954.0" stroke="#333" stroke-width="0.9"/>
<text x="249.3" y="957.6" font-size="10.5" text-anchor="end" fill="#4D4D4D">2</text>
<line x1="250.8" y1="924.3" x2="254.3" y2="924.3" stroke="#333" stroke-width="0.9"/>
<text x="249.3" y="927.9" font-size="10.5" text-anchor="end" fill="#4D4D4D">3</text>
<line x1="288.3" y1="1034.4" x2="288.3" y2="1040.4" stroke="#333" stroke-width="1.5"/>
<line x1="288.3" y1="1055.3" x2="288.3" y2="1062.0" stroke="#333" stroke-width="1.5"/>
<rect x="267.9" y="1040.4" width="40.7" height="14.9" fill="#F8766D" stroke="#333" stroke-width="1.8"/>
<line x1="267.9" y1="1047.6" x2="308.7" y2="1047.6" stroke="#333" stroke-width="3.2"/>
<circle cx="288.3" cy="1034.4" r="2.1" fill="#F8766D" stroke="#222" stroke-width="1.3"/>
<circle cx="288.3" cy="1047.6" r="2.1" fill="#F8766D" stroke="#222" stroke-width="1.3"/>
<circle cx="288.3" cy="1062.0" r="2.1" fill="#F8766D" stroke="#222" stroke-width="1.3"/>
<line x1="345.0" y1="975.0" x2="345.0" y2="981.0" stroke="#333" stroke-width="1.5"/>
<line x1="345.0" y1="1003.8" x2="345.0" y2="1018.6" stroke="#333" stroke-width="1.5"/>
<rect x="324.6" y="981.0" width="40.7" height="22.8" fill="#00BA38" stroke="#333" stroke-width="1.8"/>
<line x1="324.6" y1="987.7" x2="365.4" y2="987.7" stroke="#333" stroke-width="3.2"/>
<rect x="343.1" y="973.1" width="3.8" height="3.8" fill="#00BA38" stroke="#222" stroke-width="1.3"/>
<rect x="343.1" y="985.8" width="3.8" height="3.8" fill="#00BA38" stroke="#222" stroke-width="1.3"/>
<rect x="343.1" y="1016.7" width="3.8" height="3.8" fill="#00BA38" stroke="#222" stroke-width="1.3"/>
<line x1="402.0" y1="991.8" x2="402.0" y2="993.5" stroke="#333" stroke-width="1.5"/>
<line x1="402.0" y1="999.5" x2="402.0" y2="1002.6" stroke="#333" stroke-width="1.5"/>
<rect x="381.6" y="993.5" width="40.7" height="6.0" fill="#3B3E46" stroke="#333" stroke-width="1.8"/>
<line x1="381.6" y1="996.0" x2="422.4" y2="996.0" stroke="#333" stroke-width="3.2"/>
<path d="M402 989.2L404.6 991.8L402 994.4L399.4 991.8Z" fill="#619CFF" stroke="#222" stroke-width="1.3"/>
<path d="M402 992.8L404.6 995.4L402 998.0L399.4 995.4Z" fill="#619CFF" stroke="#222" stroke-width="1.3"/>
<path d="M402 1000.0L404.6 1002.6L402 1005.2L399.4 1002.6Z" fill="#619CFF" stroke="#222" stroke-width="1.3"/>
<path d="M288.3 945.5V941.5H402.0V945.5" fill="none" stroke="#222" stroke-width="1.6"/>
<text x="345.1" y="940.7" font-size="11.2" text-anchor="middle" fill="#000">3.7e−04</text>
<path d="M345.0 957.5V953.5H402.0V957.5" fill="none" stroke="#222" stroke-width="1.6"/>
<text x="373.5" y="952.7" font-size="11.2" text-anchor="middle" fill="#000">0.93</text>
<path d="M288.3 970.2V966.2H345.0V970.2" fill="none" stroke="#222" stroke-width="1.6"/>
<text x="316.6" y="965.4" font-size="11.2" text-anchor="middle" fill="#000">8.5e−04</text>
<text x="131.0" y="1092.6" font-size="14.2" text-anchor="middle" fill="#000">FGF23</text>
<line x1="39.5" y1="1099.6" x2="39.5" y2="1243.3" stroke="#000" stroke-width="2"/>
<line x1="36.0" y1="1217.0" x2="39.5" y2="1217.0" stroke="#333" stroke-width="0.9"/>
<text x="34.5" y="1220.6" font-size="10.5" text-anchor="end" fill="#4D4D4D">0</text>
<line x1="36.0" y1="1187.7" x2="39.5" y2="1187.7" stroke="#333" stroke-width="0.9"/>
<text x="34.5" y="1191.3" font-size="10.5" text-anchor="end" fill="#4D4D4D">1</text>
<line x1="36.0" y1="1158.4" x2="39.5" y2="1158.4" stroke="#333" stroke-width="0.9"/>
<text x="34.5" y="1162.0" font-size="10.5" text-anchor="end" fill="#4D4D4D">2</text>
<line x1="36.0" y1="1129.1" x2="39.5" y2="1129.1" stroke="#333" stroke-width="0.9"/>
<text x="34.5" y="1132.7" font-size="10.5" text-anchor="end" fill="#4D4D4D">3</text>
<line x1="36.0" y1="1099.8" x2="39.5" y2="1099.8" stroke="#333" stroke-width="0.9"/>
<text x="34.5" y="1103.4" font-size="10.5" text-anchor="end" fill="#4D4D4D">4</text>
<line x1="74.3" y1="1154.2" x2="74.3" y2="1166.6" stroke="#333" stroke-width="1.5"/>
<line x1="74.3" y1="1201.4" x2="74.3" y2="1222.5" stroke="#333" stroke-width="1.5"/>
<rect x="53.9" y="1166.6" width="40.7" height="34.8" fill="#F8766D" stroke="#333" stroke-width="1.8"/>
<line x1="53.9" y1="1179.8" x2="94.7" y2="1179.8" stroke="#333" stroke-width="3.2"/>
<circle cx="74.3" cy="1154.2" r="2.1" fill="#F8766D" stroke="#222" stroke-width="1.3"/>
<circle cx="74.3" cy="1179.8" r="2.1" fill="#F8766D" stroke="#222" stroke-width="1.3"/>
<circle cx="74.3" cy="1222.5" r="2.1" fill="#F8766D" stroke="#222" stroke-width="1.3"/>
<line x1="131.0" y1="1229.4" x2="131.0" y2="1229.4" stroke="#333" stroke-width="1.5"/>
<line x1="131.0" y1="1233.7" x2="131.0" y2="1233.7" stroke="#333" stroke-width="1.5"/>
<rect x="110.7" y="1229.4" width="40.7" height="4.3" fill="#3B3E46" stroke="#333" stroke-width="1.8"/>
<line x1="110.7" y1="1231.5" x2="151.3" y2="1231.5" stroke="#333" stroke-width="3.2"/>
<rect x="129.1" y="1228.1" width="3.8" height="3.8" fill="#00BA38" stroke="#222" stroke-width="1.3"/>
<rect x="129.1" y="1230.6" width="3.8" height="3.8" fill="#00BA38" stroke="#222" stroke-width="1.3"/>
<line x1="188.0" y1="1229.0" x2="188.0" y2="1229.0" stroke="#333" stroke-width="1.5"/>
<line x1="188.0" y1="1235.4" x2="188.0" y2="1237.6" stroke="#333" stroke-width="1.5"/>
<rect x="167.7" y="1229.0" width="40.7" height="6.4" fill="#3B3E46" stroke="#333" stroke-width="1.8"/>
<line x1="167.7" y1="1232.0" x2="208.3" y2="1232.0" stroke="#333" stroke-width="3.2"/>
<path d="M188 1227.9L190.6 1230.5L188 1233.1L185.4 1230.5Z" fill="#619CFF" stroke="#222" stroke-width="1.3"/>
<path d="M188 1235.0L190.6 1237.6L188 1240.2L185.4 1237.6Z" fill="#619CFF" stroke="#222" stroke-width="1.3"/>
<path d="M74.3 1121.0V1117.0H188.0V1121.0" fill="none" stroke="#222" stroke-width="1.6"/>
<text x="131.2" y="1116.2" font-size="11.2" text-anchor="middle" fill="#000">4.9e−03</text>
<path d="M131.0 1135.4V1131.4H188.0V1135.4" fill="none" stroke="#222" stroke-width="1.6"/>
<text x="159.5" y="1130.6" font-size="11.2" text-anchor="middle" fill="#000">0.88</text>
<path d="M74.3 1147.2V1143.2H131.0V1147.2" fill="none" stroke="#222" stroke-width="1.6"/>
<text x="102.7" y="1142.4" font-size="11.2" text-anchor="middle" fill="#000">3.5e−03</text>
<line x1="38.5" y1="1243.8" x2="221.5" y2="1243.8" stroke="#000" stroke-width="2"/>
<line x1="74.3" y1="1243.3" x2="74.3" y2="1246.8" stroke="#333" stroke-width="0.9"/>
<text x="0.0" y="0.0" font-size="12.5" text-anchor="end" fill="#333" transform="translate(74.6,1249.3) rotate(-30) translate(0,8.8)">EV−A71</text>
<line x1="131.0" y1="1243.3" x2="131.0" y2="1246.8" stroke="#333" stroke-width="0.9"/>
<text x="0.0" y="0.0" font-size="12.5" text-anchor="end" fill="#333" transform="translate(131.3,1249.3) rotate(-30) translate(0,8.8)">EV−A71+Pazopanib</text>
<line x1="188.0" y1="1243.3" x2="188.0" y2="1246.8" stroke="#333" stroke-width="0.9"/>
<text x="0.0" y="0.0" font-size="12.5" text-anchor="end" fill="#333" transform="translate(188.3,1249.3) rotate(-30) translate(0,8.8)">Mock</text>
<text x="345.0" y="1092.9" font-size="14.2" text-anchor="middle" fill="#000">IRS1</text>
<line x1="254.5" y1="1099.9" x2="254.5" y2="1243.1" stroke="#000" stroke-width="2"/>
<line x1="251.0" y1="1238.4" x2="254.5" y2="1238.4" stroke="#333" stroke-width="0.9"/>
<text x="249.5" y="1242.0" font-size="10.5" text-anchor="end" fill="#4D4D4D">−1</text>
<line x1="251.0" y1="1207.3" x2="254.5" y2="1207.3" stroke="#333" stroke-width="0.9"/>
<text x="249.5" y="1210.9" font-size="10.5" text-anchor="end" fill="#4D4D4D">0</text>
<line x1="251.0" y1="1176.2" x2="254.5" y2="1176.2" stroke="#333" stroke-width="0.9"/>
<text x="249.5" y="1179.8" font-size="10.5" text-anchor="end" fill="#4D4D4D">1</text>
<line x1="251.0" y1="1145.1" x2="254.5" y2="1145.1" stroke="#333" stroke-width="0.9"/>
<text x="249.5" y="1148.7" font-size="10.5" text-anchor="end" fill="#4D4D4D">2</text>
<line x1="251.0" y1="1114.0" x2="254.5" y2="1114.0" stroke="#333" stroke-width="0.9"/>
<text x="249.5" y="1117.6" font-size="10.5" text-anchor="end" fill="#4D4D4D">3</text>
<line x1="288.0" y1="1154.3" x2="288.0" y2="1160.6" stroke="#333" stroke-width="1.5"/>
<line x1="288.0" y1="1174.3" x2="288.0" y2="1180.0" stroke="#333" stroke-width="1.5"/>
<rect x="267.6" y="1160.6" width="40.7" height="13.7" fill="#F8766D" stroke="#333" stroke-width="1.8"/>
<line x1="267.6" y1="1167.8" x2="308.4" y2="1167.8" stroke="#333" stroke-width="3.2"/>
<circle cx="288" cy="1154.3" r="2.1" fill="#F8766D" stroke="#222" stroke-width="1.3"/>
<circle cx="288" cy="1167.8" r="2.1" fill="#F8766D" stroke="#222" stroke-width="1.3"/>
<circle cx="288" cy="1180.0" r="2.1" fill="#F8766D" stroke="#222" stroke-width="1.3"/>
<line x1="345.0" y1="1216.5" x2="345.0" y2="1217.7" stroke="#333" stroke-width="1.5"/>
<line x1="345.0" y1="1222.3" x2="345.0" y2="1223.5" stroke="#333" stroke-width="1.5"/>
<rect x="324.6" y="1217.7" width="40.7" height="4.6" fill="#3B3E46" stroke="#333" stroke-width="1.8"/>
<line x1="324.6" y1="1220.0" x2="365.4" y2="1220.0" stroke="#333" stroke-width="3.2"/>
<rect x="343.1" y="1215.6" width="3.8" height="3.8" fill="#00BA38" stroke="#222" stroke-width="1.3"/>
<rect x="343.1" y="1218.1" width="3.8" height="3.8" fill="#00BA38" stroke="#222" stroke-width="1.3"/>
<rect x="343.1" y="1220.6" width="3.8" height="3.8" fill="#00BA38" stroke="#222" stroke-width="1.3"/>
<line x1="402.0" y1="1230.5" x2="402.0" y2="1231.4" stroke="#333" stroke-width="1.5"/>
<line x1="402.0" y1="1236.6" x2="402.0" y2="1238.0" stroke="#333" stroke-width="1.5"/>
<rect x="381.6" y="1231.4" width="40.7" height="5.2" fill="#3B3E46" stroke="#333" stroke-width="1.8"/>
<line x1="381.6" y1="1234.0" x2="422.4" y2="1234.0" stroke="#333" stroke-width="3.2"/>
<path d="M402 1228.4L404.6 1231.0L402 1233.6L399.4 1231.0Z" fill="#619CFF" stroke="#222" stroke-width="1.3"/>
<path d="M402 1231.4L404.6 1234.0L402 1236.6L399.4 1234.0Z" fill="#619CFF" stroke="#222" stroke-width="1.3"/>
<path d="M402 1234.4L404.6 1237.0L402 1239.6L399.4 1237.0Z" fill="#619CFF" stroke="#222" stroke-width="1.3"/>
<path d="M288.0 1120.7V1116.7H402.0V1120.7" fill="none" stroke="#222" stroke-width="1.6"/>
<text x="345.0" y="1115.9" font-size="11.2" text-anchor="middle" fill="#000">6.1e−15</text>
<path d="M345.0 1136.3V1132.3H402.0V1136.3" fill="none" stroke="#222" stroke-width="1.6"/>
<text x="373.5" y="1131.5" font-size="11.2" text-anchor="middle" fill="#000">9.0e−05</text>
<path d="M288.0 1145.9V1141.9H345.0V1145.9" fill="none" stroke="#222" stroke-width="1.6"/>
<text x="316.5" y="1141.1" font-size="11.2" text-anchor="middle" fill="#000">5.6e−34</text>
<line x1="253.5" y1="1243.6" x2="436.5" y2="1243.6" stroke="#000" stroke-width="2"/>
<line x1="288.0" y1="1243.1" x2="288.0" y2="1246.6" stroke="#333" stroke-width="0.9"/>
<text x="0.0" y="0.0" font-size="12.5" text-anchor="end" fill="#333" transform="translate(288.3,1249.1) rotate(-30) translate(0,8.8)">EV−A71</text>
<line x1="345.0" y1="1243.1" x2="345.0" y2="1246.6" stroke="#333" stroke-width="0.9"/>
<text x="0.0" y="0.0" font-size="12.5" text-anchor="end" fill="#333" transform="translate(345.3,1249.1) rotate(-30) translate(0,8.8)">EV−A71+Pazopanib</text>
<line x1="402.0" y1="1243.1" x2="402.0" y2="1246.6" stroke="#333" stroke-width="0.9"/>
<text x="0.0" y="0.0" font-size="12.5" text-anchor="end" fill="#333" transform="translate(402.3,1249.1) rotate(-30) translate(0,8.8)">Mock</text>
<text x="0.0" y="0.0" font-size="14.9" text-anchor="middle" fill="#000" transform="translate(17.2,1084.8) rotate(-90)">Expression (Z−score)</text>
<text x="238.1" y="1327.5" font-size="14.5" text-anchor="middle" fill="#000">Groups</text>
<text x="477.0" y="692.3" font-size="23.2" text-anchor="start" fill="#000">E</text>
<rect x="560.30" y="769.20" width="36.39" height="6.44" fill="#89B7D7" stroke="#9E9E9E" stroke-width="0.55"/>
<rect x="596.69" y="769.20" width="36.39" height="6.44" fill="#89B7D7" stroke="#9E9E9E" stroke-width="0.55"/>
<rect x="633.08" y="769.20" width="36.39" height="6.44" fill="#89B7D7" stroke="#9E9E9E" stroke-width="0.55"/>
<rect x="669.47" y="769.20" width="36.39" height="6.44" fill="#BFDDEC" stroke="#9E9E9E" stroke-width="0.55"/>
<rect x="705.86" y="769.20" width="36.39" height="6.44" fill="#BFDDEC" stroke="#9E9E9E" stroke-width="0.55"/>
<rect x="742.24" y="769.20" width="36.39" height="6.44" fill="#BFDDEC" stroke="#9E9E9E" stroke-width="0.55"/>
<rect x="778.63" y="769.20" width="36.39" height="6.44" fill="#FDC981" stroke="#9E9E9E" stroke-width="0.55"/>
<rect x="815.02" y="769.20" width="36.39" height="6.44" fill="#FEE293" stroke="#9E9E9E" stroke-width="0.55"/>
<rect x="851.41" y="769.20" width="36.39" height="6.44" fill="#FEE293" stroke="#9E9E9E" stroke-width="0.55"/>
<text x="891.5" y="774.6" font-size="6.2" text-anchor="start" fill="#000">ALDH1L2</text>
<rect x="560.30" y="775.64" width="36.39" height="6.44" fill="#BFDDEC" stroke="#9E9E9E" stroke-width="0.55"/>
<rect x="596.69" y="775.64" width="36.39" height="6.44" fill="#89B7D7" stroke="#9E9E9E" stroke-width="0.55"/>
<rect x="633.08" y="775.64" width="36.39" height="6.44" fill="#89B7D7" stroke="#9E9E9E" stroke-width="0.55"/>
<rect x="669.47" y="775.64" width="36.39" height="6.44" fill="#BFDDEC" stroke="#9E9E9E" stroke-width="0.55"/>
<rect x="705.86" y="775.64" width="36.39" height="6.44" fill="#BFDDEC" stroke="#9E9E9E" stroke-width="0.55"/>
<rect x="742.24" y="775.64" width="36.39" height="6.44" fill="#BFDDEC" stroke="#9E9E9E" stroke-width="0.55"/>
<rect x="778.63" y="775.64" width="36.39" height="6.44" fill="#FDAC6E" stroke="#9E9E9E" stroke-width="0.55"/>
<rect x="815.02" y="775.64" width="36.39" height="6.44" fill="#FEE293" stroke="#9E9E9E" stroke-width="0.55"/>
<rect x="851.41" y="775.64" width="36.39" height="6.44" fill="#FEE293" stroke="#9E9E9E" stroke-width="0.55"/>
<text x="891.5" y="781.1" font-size="6.2" text-anchor="start" fill="#000">SLC7A11</text>
<rect x="560.30" y="782.09" width="36.39" height="6.44" fill="#89B7D7" stroke="#9E9E9E" stroke-width="0.55"/>
<rect x="596.69" y="782.09" width="36.39" height="6.44" fill="#72A1CB" stroke="#9E9E9E" stroke-width="0.55"/>
<rect x="633.08" y="782.09" width="36.39" height="6.44" fill="#89B7D7" stroke="#9E9E9E" stroke-width="0.55"/>
<rect x="669.47" y="782.09" width="36.39" height="6.44" fill="#E0F3F8" stroke="#9E9E9E" stroke-width="0.55"/>
<rect x="705.86" y="782.09" width="36.39" height="6.44" fill="#E0F3F8" stroke="#9E9E9E" stroke-width="0.55"/>
<rect x="742.24" y="782.09" width="36.39" height="6.44" fill="#E0F3F8" stroke="#9E9E9E" stroke-width="0.55"/>
<rect x="778.63" y="782.09" width="36.39" height="6.44" fill="#FEE293" stroke="#9E9E9E" stroke-width="0.55"/>
<rect x="815.02" y="782.09" width="36.39" height="6.44" fill="#FEE293" stroke="#9E9E9E" stroke-width="0.55"/>
<rect x="851.41" y="782.09" width="36.39" height="6.44" fill="#FDAC6E" stroke="#9E9E9E" stroke-width="0.55"/>
<text x="891.5" y="787.5" font-size="6.2" text-anchor="start" fill="#000">RAB39B</text>
<rect x="560.30" y="788.53" width="36.39" height="6.44" fill="#89B7D7" stroke="#9E9E9E" stroke-width="0.55"/>
<rect x="596.69" y="788.53" width="36.39" height="6.44" fill="#72A1CB" stroke="#9E9E9E" stroke-width="0.55"/>
<rect x="633.08" y="788.53" width="36.39" height="6.44" fill="#89B7D7" stroke="#9E9E9E" stroke-width="0.55"/>
<rect x="669.47" y="788.53" width="36.39" height="6.44" fill="#E0F3F8" stroke="#9E9E9E" stroke-width="0.55"/>
<rect x="705.86" y="788.53" width="36.39" height="6.44" fill="#E0F3F8" stroke="#9E9E9E" stroke-width="0.55"/>
<rect x="742.24" y="788.53" width="36.39" height="6.44" fill="#E0F3F8" stroke="#9E9E9E" stroke-width="0.55"/>
<rect x="778.63" y="788.53" width="36.39" height="6.44" fill="#FDAC6E" stroke="#9E9E9E" stroke-width="0.55"/>
<rect x="815.02" y="788.53" width="36.39" height="6.44" fill="#FEE293" stroke="#9E9E9E" stroke-width="0.55"/>
<rect x="851.41" y="788.53" width="36.39" height="6.44" fill="#FEE293" stroke="#9E9E9E" stroke-width="0.55"/>
<text x="891.5" y="794.0" font-size="6.2" text-anchor="start" fill="#000">ULBP1</text>
<rect x="560.30" y="794.98" width="36.39" height="6.44" fill="#89B7D7" stroke="#9E9E9E" stroke-width="0.55"/>
<rect x="596.69" y="794.98" width="36.39" height="6.44" fill="#72A1CB" stroke="#9E9E9E" stroke-width="0.55"/>
<rect x="633.08" y="794.98" width="36.39" height="6.44" fill="#89B7D7" stroke="#9E9E9E" stroke-width="0.55"/>
<rect x="669.47" y="794.98" width="36.39" height="6.44" fill="#E0F3F8" stroke="#9E9E9E" stroke-width="0.55"/>
<rect x="705.86" y="794.98" width="36.39" height="6.44" fill="#E0F3F8" stroke="#9E9E9E" stroke-width="0.55"/>
<rect x="742.24" y="794.98" width="36.39" height="6.44" fill="#E0F3F8" stroke="#9E9E9E" stroke-width="0.55"/>
<rect x="778.63" y="794.98" width="36.39" height="6.44" fill="#FDC981" stroke="#9E9E9E" stroke-width="0.55"/>
<rect x="815.02" y="794.98" width="36.39" height="6.44" fill="#FEE293" stroke="#9E9E9E" stroke-width="0.55"/>
<rect x="851.41" y="794.98" width="36.39" height="6.44" fill="#FDC981" stroke="#9E9E9E" stroke-width="0.55"/>
<text x="891.5" y="800.4" font-size="6.2" text-anchor="start" fill="#000">FAM129A</text>
<rect x="560.30" y="801.42" width="36.39" height="6.44" fill="#89B7D7" stroke="#9E9E9E" stroke-width="0.55"/>
<rect x="596.69" y="801.42" width="36.39" height="6.44" fill="#72A1CB" stroke="#9E9E9E" stroke-width="0.55"/>
<rect x="633.08" y="801.42" width="36.39" height="6.44" fill="#89B7D7" stroke="#9E9E9E" stroke-width="0.55"/>
<rect x="669.47" y="801.42" width="36.39" height="6.44" fill="#E0F3F8" stroke="#9E9E9E" stroke-width="0.55"/>
<rect x="705.86" y="801.42" width="36.39" height="6.44" fill="#E0F3F8" stroke="#9E9E9E" stroke-width="0.55"/>
<rect x="742.24" y="801.42" width="36.39" height="6.44" fill="#E0F3F8" stroke="#9E9E9E" stroke-width="0.55"/>
<rect x="778.63" y="801.42" width="36.39" height="6.44" fill="#FDC981" stroke="#9E9E9E" stroke-width="0.55"/>
<rect x="815.02" y="801.42" width="36.39" height="6.44" fill="#FEEDA3" stroke="#9E9E9E" stroke-width="0.55"/>
<rect x="851.41" y="801.42" width="36.39" height="6.44" fill="#FEE293" stroke="#9E9E9E" stroke-width="0.55"/>
<text x="891.5" y="806.8" font-size="6.2" text-anchor="start" fill="#000">ASNS</text>
<rect x="560.30" y="807.86" width="36.39" height="6.44" fill="#89B7D7" stroke="#9E9E9E" stroke-width="0.55"/>
<rect x="596.69" y="807.86" width="36.39" height="6.44" fill="#89B7D7" stroke="#9E9E9E" stroke-width="0.55"/>
<rect x="633.08" y="807.86" width="36.39" height="6.44" fill="#89B7D7" stroke="#9E9E9E" stroke-width="0.55"/>
<rect x="669.47" y="807.86" width="36.39" height="6.44" fill="#E0F3F8" stroke="#9E9E9E" stroke-width="0.55"/>
<rect x="705.86" y="807.86" width="36.39" height="6.44" fill="#E0F3F8" stroke="#9E9E9E" stroke-width="0.55"/>
<rect x="742.24" y="807.86" width="36.39" height="6.44" fill="#BFDDEC" stroke="#9E9E9E" stroke-width="0.55"/>
<rect x="778.63" y="807.86" width="36.39" height="6.44" fill="#FEE293" stroke="#9E9E9E" stroke-width="0.55"/>
<rect x="815.02" y="807.86" width="36.39" height="6.44" fill="#FEE293" stroke="#9E9E9E" stroke-width="0.55"/>
<rect x="851.41" y="807.86" width="36.39" height="6.44" fill="#FDC981" stroke="#9E9E9E" stroke-width="0.55"/>
<text x="891.5" y="813.3" font-size="6.2" text-anchor="start" fill="#000">SLC1A4</text>
<rect x="560.30" y="814.31" width="36.39" height="6.44" fill="#72A1CB" stroke="#9E9E9E" stroke-width="0.55"/>
<rect x="596.69" y="814.31" width="36.39" height="6.44" fill="#72A1CB" stroke="#9E9E9E" stroke-width="0.55"/>
<rect x="633.08" y="814.31" width="36.39" height="6.44" fill="#89B7D7" stroke="#9E9E9E" stroke-width="0.55"/>
<rect x="669.47" y="814.31" width="36.39" height="6.44" fill="#E0F3F8" stroke="#9E9E9E" stroke-width="0.55"/>
<rect x="705.86" y="814.31" width="36.39" height="6.44" fill="#E0F3F8" stroke="#9E9E9E" stroke-width="0.55"/>
<rect x="742.24" y="814.31" width="36.39" height="6.44" fill="#FFFAB7" stroke="#9E9E9E" stroke-width="0.55"/>
<rect x="778.63" y="814.31" width="36.39" height="6.44" fill="#F1FAD9" stroke="#9E9E9E" stroke-width="0.55"/>
<rect x="815.02" y="814.31" width="36.39" height="6.44" fill="#FEE293" stroke="#9E9E9E" stroke-width="0.55"/>
<rect x="851.41" y="814.31" width="36.39" height="6.44" fill="#FDC981" stroke="#9E9E9E" stroke-width="0.55"/>
<text x="891.5" y="819.7" font-size="6.2" text-anchor="start" fill="#000">SCIN</text>
<rect x="560.30" y="820.75" width="36.39" height="6.44" fill="#72A1CB" stroke="#9E9E9E" stroke-width="0.55"/>
<rect x="596.69" y="820.75" width="36.39" height="6.44" fill="#BFDDEC" stroke="#9E9E9E" stroke-width="0.55"/>
<rect x="633.08" y="820.75" width="36.39" height="6.44" fill="#72A1CB" stroke="#9E9E9E" stroke-width="0.55"/>
<rect x="669.47" y="820.75" width="36.39" height="6.44" fill="#BFDDEC" stroke="#9E9E9E" stroke-width="0.55"/>
<rect x="705.86" y="820.75" width="36.39" height="6.44" fill="#FFFAB7" stroke="#9E9E9E" stroke-width="0.55"/>
<rect x="742.24" y="820.75" width="36.39" height="6.44" fill="#FEEDA3" stroke="#9E9E9E" stroke-width="0.55"/>
<rect x="778.63" y="820.75" width="36.39" height="6.44" fill="#E0F3F8" stroke="#9E9E9E" stroke-width="0.55"/>
<rect x="815.02" y="820.75" width="36.39" height="6.44" fill="#FEE293" stroke="#9E9E9E" stroke-width="0.55"/>
<rect x="851.41" y="820.75" width="36.39" height="6.44" fill="#FDAC6E" stroke="#9E9E9E" stroke-width="0.55"/>
<text x="891.5" y="826.2" font-size="6.2" text-anchor="start" fill="#000">CDHR5</text>
<rect x="560.30" y="827.19" width="36.39" height="6.44" fill="#72A1CB" stroke="#9E9E9E" stroke-width="0.55"/>
<rect x="596.69" y="827.19" width="36.39" height="6.44" fill="#89B7D7" stroke="#9E9E9E" stroke-width="0.55"/>
<rect x="633.08" y="827.19" width="36.39" height="6.44" fill="#5D8CC0" stroke="#9E9E9E" stroke-width="0.55"/>
<rect x="669.47" y="827.19" width="36.39" height="6.44" fill="#E0F3F8" stroke="#9E9E9E" stroke-width="0.55"/>
<rect x="705.86" y="827.19" width="36.39" height="6.44" fill="#FFFAB7" stroke="#9E9E9E" stroke-width="0.55"/>
<rect x="742.24" y="827.19" width="36.39" height="6.44" fill="#FFFAB7" stroke="#9E9E9E" stroke-width="0.55"/>
<rect x="778.63" y="827.19" width="36.39" height="6.44" fill="#F1FAD9" stroke="#9E9E9E" stroke-width="0.55"/>
<rect x="815.02" y="827.19" width="36.39" height="6.44" fill="#FDAC6E" stroke="#9E9E9E" stroke-width="0.55"/>
<rect x="851.41" y="827.19" width="36.39" height="6.44" fill="#FEEDA3" stroke="#9E9E9E" stroke-width="0.55"/>
<text x="891.5" y="832.6" font-size="6.2" text-anchor="start" fill="#000">SLC22A15</text>
<rect x="560.30" y="833.64" width="36.39" height="6.44" fill="#72A1CB" stroke="#9E9E9E" stroke-width="0.55"/>
<rect x="596.69" y="833.64" width="36.39" height="6.44" fill="#89B7D7" stroke="#9E9E9E" stroke-width="0.55"/>
<rect x="633.08" y="833.64" width="36.39" height="6.44" fill="#72A1CB" stroke="#9E9E9E" stroke-width="0.55"/>
<rect x="669.47" y="833.64" width="36.39" height="6.44" fill="#FFFAB7" stroke="#9E9E9E" stroke-width="0.55"/>
<rect x="705.86" y="833.64" width="36.39" height="6.44" fill="#F1FAD9" stroke="#9E9E9E" stroke-width="0.55"/>
<rect x="742.24" y="833.64" width="36.39" height="6.44" fill="#E0F3F8" stroke="#9E9E9E" stroke-width="0.55"/>
<rect x="778.63" y="833.64" width="36.39" height="6.44" fill="#FEE293" stroke="#9E9E9E" stroke-width="0.55"/>
<rect x="815.02" y="833.64" width="36.39" height="6.44" fill="#FEEDA3" stroke="#9E9E9E" stroke-width="0.55"/>
<rect x="851.41" y="833.64" width="36.39" height="6.44" fill="#FDC981" stroke="#9E9E9E" stroke-width="0.55"/>
<text x="891.5" y="839.1" font-size="6.2" text-anchor="start" fill="#000">GOLGA2P5</text>
<rect x="560.30" y="840.08" width="36.39" height="6.44" fill="#72A1CB" stroke="#9E9E9E" stroke-width="0.55"/>
<rect x="596.69" y="840.08" width="36.39" height="6.44" fill="#72A1CB" stroke="#9E9E9E" stroke-width="0.55"/>
<rect x="633.08" y="840.08" width="36.39" height="6.44" fill="#72A1CB" stroke="#9E9E9E" stroke-width="0.55"/>
<rect x="669.47" y="840.08" width="36.39" height="6.44" fill="#F1FAD9" stroke="#9E9E9E" stroke-width="0.55"/>
<rect x="705.86" y="840.08" width="36.39" height="6.44" fill="#F1FAD9" stroke="#9E9E9E" stroke-width="0.55"/>
<rect x="742.24" y="840.08" width="36.39" height="6.44" fill="#FFFAB7" stroke="#9E9E9E" stroke-width="0.55"/>
<rect x="778.63" y="840.08" width="36.39" height="6.44" fill="#FEE293" stroke="#9E9E9E" stroke-width="0.55"/>
<rect x="815.02" y="840.08" width="36.39" height="6.44" fill="#FEEDA3" stroke="#9E9E9E" stroke-width="0.55"/>
<rect x="851.41" y="840.08" width="36.39" height="6.44" fill="#FDC981" stroke="#9E9E9E" stroke-width="0.55"/>
<text x="891.5" y="845.5" font-size="6.2" text-anchor="start" fill="#000">TREX1</text>
<rect x="560.30" y="846.52" width="36.39" height="6.44" fill="#5D8CC0" stroke="#9E9E9E" stroke-width="0.55"/>
<rect x="596.69" y="846.52" width="36.39" height="6.44" fill="#89B7D7" stroke="#9E9E9E" stroke-width="0.55"/>
<rect x="633.08" y="846.52" width="36.39" height="6.44" fill="#72A1CB" stroke="#9E9E9E" stroke-width="0.55"/>
<rect x="669.47" y="846.52" width="36.39" height="6.44" fill="#F1FAD9" stroke="#9E9E9E" stroke-width="0.55"/>
<rect x="705.86" y="846.52" width="36.39" height="6.44" fill="#F1FAD9" stroke="#9E9E9E" stroke-width="0.55"/>
<rect x="742.24" y="846.52" width="36.39" height="6.44" fill="#FFFAB7" stroke="#9E9E9E" stroke-width="0.55"/>
<rect x="778.63" y="846.52" width="36.39" height="6.44" fill="#FEEDA3" stroke="#9E9E9E" stroke-width="0.55"/>
<rect x="815.02" y="846.52" width="36.39" height="6.44" fill="#FEEDA3" stroke="#9E9E9E" stroke-width="0.55"/>
<rect x="851.41" y="846.52" width="36.39" height="6.44" fill="#FDC981" stroke="#9E9E9E" stroke-width="0.55"/>
<text x="891.5" y="851.9" font-size="6.2" text-anchor="start" fill="#000">ADM2</text>
<rect x="560.30" y="852.97" width="36.39" height="6.44" fill="#5D8CC0" stroke="#9E9E9E" stroke-width="0.55"/>
<rect x="596.69" y="852.97" width="36.39" height="6.44" fill="#72A1CB" stroke="#9E9E9E" stroke-width="0.55"/>
<rect x="633.08" y="852.97" width="36.39" height="6.44" fill="#72A1CB" stroke="#9E9E9E" stroke-width="0.55"/>
<rect x="669.47" y="852.97" width="36.39" height="6.44" fill="#F1FAD9" stroke="#9E9E9E" stroke-width="0.55"/>
<rect x="705.86" y="852.97" width="36.39" height="6.44" fill="#F1FAD9" stroke="#9E9E9E" stroke-width="0.55"/>
<rect x="742.24" y="852.97" width="36.39" height="6.44" fill="#FFFAB7" stroke="#9E9E9E" stroke-width="0.55"/>
<rect x="778.63" y="852.97" width="36.39" height="6.44" fill="#FEEDA3" stroke="#9E9E9E" stroke-width="0.55"/>
<rect x="815.02" y="852.97" width="36.39" height="6.44" fill="#FEEDA3" stroke="#9E9E9E" stroke-width="0.55"/>
<rect x="851.41" y="852.97" width="36.39" height="6.44" fill="#FEE293" stroke="#9E9E9E" stroke-width="0.55"/>
<text x="891.5" y="858.4" font-size="6.2" text-anchor="start" fill="#000">TRIB3</text>
<rect x="560.30" y="859.41" width="36.39" height="6.44" fill="#5D8CC0" stroke="#9E9E9E" stroke-width="0.55"/>
<rect x="596.69" y="859.41" width="36.39" height="6.44" fill="#72A1CB" stroke="#9E9E9E" stroke-width="0.55"/>
<rect x="633.08" y="859.41" width="36.39" height="6.44" fill="#72A1CB" stroke="#9E9E9E" stroke-width="0.55"/>
<rect x="669.47" y="859.41" width="36.39" height="6.44" fill="#F1FAD9" stroke="#9E9E9E" stroke-width="0.55"/>
<rect x="705.86" y="859.41" width="36.39" height="6.44" fill="#F1FAD9" stroke="#9E9E9E" stroke-width="0.55"/>
<rect x="742.24" y="859.41" width="36.39" height="6.44" fill="#FFFAB7" stroke="#9E9E9E" stroke-width="0.55"/>
<rect x="778.63" y="859.41" width="36.39" height="6.44" fill="#FEE293" stroke="#9E9E9E" stroke-width="0.55"/>
<rect x="815.02" y="859.41" width="36.39" height="6.44" fill="#FFFAB7" stroke="#9E9E9E" stroke-width="0.55"/>
<rect x="851.41" y="859.41" width="36.39" height="6.44" fill="#FDC981" stroke="#9E9E9E" stroke-width="0.55"/>
<text x="891.5" y="864.8" font-size="6.2" text-anchor="start" fill="#000">UNC5B</text>
<rect x="560.30" y="865.86" width="36.39" height="6.44" fill="#4575B4" stroke="#9E9E9E" stroke-width="0.55"/>
<rect x="596.69" y="865.86" width="36.39" height="6.44" fill="#5D8CC0" stroke="#9E9E9E" stroke-width="0.55"/>
<rect x="633.08" y="865.86" width="36.39" height="6.44" fill="#E0F3F8" stroke="#9E9E9E" stroke-width="0.55"/>
<rect x="669.47" y="865.86" width="36.39" height="6.44" fill="#F1FAD9" stroke="#9E9E9E" stroke-width="0.55"/>
<rect x="705.86" y="865.86" width="36.39" height="6.44" fill="#FEEDA3" stroke="#9E9E9E" stroke-width="0.55"/>
<rect x="742.24" y="865.86" width="36.39" height="6.44" fill="#F1FAD9" stroke="#9E9E9E" stroke-width="0.55"/>
<rect x="778.63" y="865.86" width="36.39" height="6.44" fill="#E0F3F8" stroke="#9E9E9E" stroke-width="0.55"/>
<rect x="815.02" y="865.86" width="36.39" height="6.44" fill="#FEEDA3" stroke="#9E9E9E" stroke-width="0.55"/>
<rect x="851.41" y="865.86" width="36.39" height="6.44" fill="#FEE293" stroke="#9E9E9E" stroke-width="0.55"/>
<text x="891.5" y="871.3" font-size="6.2" text-anchor="start" fill="#000">APC2</text>
<rect x="560.30" y="872.30" width="36.39" height="6.44" fill="#5D8CC0" stroke="#9E9E9E" stroke-width="0.55"/>
<rect x="596.69" y="872.30" width="36.39" height="6.44" fill="#72A1CB" stroke="#9E9E9E" stroke-width="0.55"/>
<rect x="633.08" y="872.30" width="36.39" height="6.44" fill="#72A1CB" stroke="#9E9E9E" stroke-width="0.55"/>
<rect x="669.47" y="872.30" width="36.39" height="6.44" fill="#F1FAD9" stroke="#9E9E9E" stroke-width="0.55"/>
<rect x="705.86" y="872.30" width="36.39" height="6.44" fill="#F1FAD9" stroke="#9E9E9E" stroke-width="0.55"/>
<rect x="742.24" y="872.30" width="36.39" height="6.44" fill="#FFFAB7" stroke="#9E9E9E" stroke-width="0.55"/>
<rect x="778.63" y="872.30" width="36.39" height="6.44" fill="#F1FAD9" stroke="#9E9E9E" stroke-width="0.55"/>
<rect x="815.02" y="872.30" width="36.39" height="6.44" fill="#FFFAB7" stroke="#9E9E9E" stroke-width="0.55"/>
<rect x="851.41" y="872.30" width="36.39" height="6.44" fill="#FEE293" stroke="#9E9E9E" stroke-width="0.55"/>
<text x="891.5" y="877.7" font-size="6.2" text-anchor="start" fill="#000">CHAC1</text>
<rect x="560.30" y="878.74" width="36.39" height="6.44" fill="#5D8CC0" stroke="#9E9E9E" stroke-width="0.55"/>
<rect x="596.69" y="878.74" width="36.39" height="6.44" fill="#72A1CB" stroke="#9E9E9E" stroke-width="0.55"/>
<rect x="633.08" y="878.74" width="36.39" height="6.44" fill="#72A1CB" stroke="#9E9E9E" stroke-width="0.55"/>
<rect x="669.47" y="878.74" width="36.39" height="6.44" fill="#FEEDA3" stroke="#9E9E9E" stroke-width="0.55"/>
<rect x="705.86" y="878.74" width="36.39" height="6.44" fill="#FFFAB7" stroke="#9E9E9E" stroke-width="0.55"/>
<rect x="742.24" y="878.74" width="36.39" height="6.44" fill="#FFFAB7" stroke="#9E9E9E" stroke-width="0.55"/>
<rect x="778.63" y="878.74" width="36.39" height="6.44" fill="#FFFAB7" stroke="#9E9E9E" stroke-width="0.55"/>
<rect x="815.02" y="878.74" width="36.39" height="6.44" fill="#FFFAB7" stroke="#9E9E9E" stroke-width="0.55"/>
<rect x="851.41" y="878.74" width="36.39" height="6.44" fill="#FFFAB7" stroke="#9E9E9E" stroke-width="0.55"/>
<text x="891.5" y="884.2" font-size="6.2" text-anchor="start" fill="#000">VEGFA</text>
<rect x="560.30" y="885.19" width="36.39" height="6.44" fill="#BFDDEC" stroke="#9E9E9E" stroke-width="0.55"/>
<rect x="596.69" y="885.19" width="36.39" height="6.44" fill="#72A1CB" stroke="#9E9E9E" stroke-width="0.55"/>
<rect x="633.08" y="885.19" width="36.39" height="6.44" fill="#72A1CB" stroke="#9E9E9E" stroke-width="0.55"/>
<rect x="669.47" y="885.19" width="36.39" height="6.44" fill="#BFDDEC" stroke="#9E9E9E" stroke-width="0.55"/>
<rect x="705.86" y="885.19" width="36.39" height="6.44" fill="#FDC981" stroke="#9E9E9E" stroke-width="0.55"/>
<rect x="742.24" y="885.19" width="36.39" height="6.44" fill="#BFDDEC" stroke="#9E9E9E" stroke-width="0.55"/>
<rect x="778.63" y="885.19" width="36.39" height="6.44" fill="#FFFAB7" stroke="#9E9E9E" stroke-width="0.55"/>
<rect x="815.02" y="885.19" width="36.39" height="6.44" fill="#FEEDA3" stroke="#9E9E9E" stroke-width="0.55"/>
<rect x="851.41" y="885.19" width="36.39" height="6.44" fill="#F1FAD9" stroke="#9E9E9E" stroke-width="0.55"/>
<text x="891.5" y="890.6" font-size="6.2" text-anchor="start" fill="#000">SLC5A9</text>
<rect x="560.30" y="891.63" width="36.39" height="6.44" fill="#4575B4" stroke="#9E9E9E" stroke-width="0.55"/>
<rect x="596.69" y="891.63" width="36.39" height="6.44" fill="#BFDDEC" stroke="#9E9E9E" stroke-width="0.55"/>
<rect x="633.08" y="891.63" width="36.39" height="6.44" fill="#72A1CB" stroke="#9E9E9E" stroke-width="0.55"/>
<rect x="669.47" y="891.63" width="36.39" height="6.44" fill="#FFFAB7" stroke="#9E9E9E" stroke-width="0.55"/>
<rect x="705.86" y="891.63" width="36.39" height="6.44" fill="#FFFAB7" stroke="#9E9E9E" stroke-width="0.55"/>
<rect x="742.24" y="891.63" width="36.39" height="6.44" fill="#FFFAB7" stroke="#9E9E9E" stroke-width="0.55"/>
<rect x="778.63" y="891.63" width="36.39" height="6.44" fill="#FFFAB7" stroke="#9E9E9E" stroke-width="0.55"/>
<rect x="815.02" y="891.63" width="36.39" height="6.44" fill="#FEE293" stroke="#9E9E9E" stroke-width="0.55"/>
<rect x="851.41" y="891.63" width="36.39" height="6.44" fill="#BFDDEC" stroke="#9E9E9E" stroke-width="0.55"/>
<text x="891.5" y="897.1" font-size="6.2" text-anchor="start" fill="#000">EPOR</text>
<rect x="560.30" y="898.08" width="36.39" height="6.44" fill="#72A1CB" stroke="#9E9E9E" stroke-width="0.55"/>
<rect x="596.69" y="898.08" width="36.39" height="6.44" fill="#72A1CB" stroke="#9E9E9E" stroke-width="0.55"/>
<rect x="633.08" y="898.08" width="36.39" height="6.44" fill="#89B7D7" stroke="#9E9E9E" stroke-width="0.55"/>
<rect x="669.47" y="898.08" width="36.39" height="6.44" fill="#FFFAB7" stroke="#9E9E9E" stroke-width="0.55"/>
<rect x="705.86" y="898.08" width="36.39" height="6.44" fill="#FDAC6E" stroke="#9E9E9E" stroke-width="0.55"/>
<rect x="742.24" y="898.08" width="36.39" height="6.44" fill="#E0F3F8" stroke="#9E9E9E" stroke-width="0.55"/>
<rect x="778.63" y="898.08" width="36.39" height="6.44" fill="#FFFAB7" stroke="#9E9E9E" stroke-width="0.55"/>
<rect x="815.02" y="898.08" width="36.39" height="6.44" fill="#FEEDA3" stroke="#9E9E9E" stroke-width="0.55"/>
<rect x="851.41" y="898.08" width="36.39" height="6.44" fill="#F1FAD9" stroke="#9E9E9E" stroke-width="0.55"/>
<text x="891.5" y="903.5" font-size="6.2" text-anchor="start" fill="#000">SMIM14</text>
<rect x="560.30" y="904.52" width="36.39" height="6.44" fill="#72A1CB" stroke="#9E9E9E" stroke-width="0.55"/>
<rect x="596.69" y="904.52" width="36.39" height="6.44" fill="#72A1CB" stroke="#9E9E9E" stroke-width="0.55"/>
<rect x="633.08" y="904.52" width="36.39" height="6.44" fill="#89B7D7" stroke="#9E9E9E" stroke-width="0.55"/>
<rect x="669.47" y="904.52" width="36.39" height="6.44" fill="#FFFAB7" stroke="#9E9E9E" stroke-width="0.55"/>
<rect x="705.86" y="904.52" width="36.39" height="6.44" fill="#F1FAD9" stroke="#9E9E9E" stroke-width="0.55"/>
<rect x="742.24" y="904.52" width="36.39" height="6.44" fill="#FDAC6E" stroke="#9E9E9E" stroke-width="0.55"/>
<rect x="778.63" y="904.52" width="36.39" height="6.44" fill="#FEEDA3" stroke="#9E9E9E" stroke-width="0.55"/>
<rect x="815.02" y="904.52" width="36.39" height="6.44" fill="#F1FAD9" stroke="#9E9E9E" stroke-width="0.55"/>
<rect x="851.41" y="904.52" width="36.39" height="6.44" fill="#E0F3F8" stroke="#9E9E9E" stroke-width="0.55"/>
<text x="891.5" y="909.9" font-size="6.2" text-anchor="start" fill="#000">HOXA13</text>
<rect x="560.30" y="910.96" width="36.39" height="6.44" fill="#89B7D7" stroke="#9E9E9E" stroke-width="0.55"/>
<rect x="596.69" y="910.96" width="36.39" height="6.44" fill="#5D8CC0" stroke="#9E9E9E" stroke-width="0.55"/>
<rect x="633.08" y="910.96" width="36.39" height="6.44" fill="#72A1CB" stroke="#9E9E9E" stroke-width="0.55"/>
<rect x="669.47" y="910.96" width="36.39" height="6.44" fill="#FFFAB7" stroke="#9E9E9E" stroke-width="0.55"/>
<rect x="705.86" y="910.96" width="36.39" height="6.44" fill="#FFFAB7" stroke="#9E9E9E" stroke-width="0.55"/>
<rect x="742.24" y="910.96" width="36.39" height="6.44" fill="#FFFAB7" stroke="#9E9E9E" stroke-width="0.55"/>
<rect x="778.63" y="910.96" width="36.39" height="6.44" fill="#FDAC6E" stroke="#9E9E9E" stroke-width="0.55"/>
<rect x="815.02" y="910.96" width="36.39" height="6.44" fill="#E0F3F8" stroke="#9E9E9E" stroke-width="0.55"/>
<rect x="851.41" y="910.96" width="36.39" height="6.44" fill="#F1FAD9" stroke="#9E9E9E" stroke-width="0.55"/>
<text x="891.5" y="916.4" font-size="6.2" text-anchor="start" fill="#000">ANKRA2</text>
<rect x="560.30" y="917.41" width="36.39" height="6.44" fill="#89B7D7" stroke="#9E9E9E" stroke-width="0.55"/>
<rect x="596.69" y="917.41" width="36.39" height="6.44" fill="#4575B4" stroke="#9E9E9E" stroke-width="0.55"/>
<rect x="633.08" y="917.41" width="36.39" height="6.44" fill="#72A1CB" stroke="#9E9E9E" stroke-width="0.55"/>
<rect x="669.47" y="917.41" width="36.39" height="6.44" fill="#FFFAB7" stroke="#9E9E9E" stroke-width="0.55"/>
<rect x="705.86" y="917.41" width="36.39" height="6.44" fill="#F1FAD9" stroke="#9E9E9E" stroke-width="0.55"/>
<rect x="742.24" y="917.41" width="36.39" height="6.44" fill="#E0F3F8" stroke="#9E9E9E" stroke-width="0.55"/>
<rect x="778.63" y="917.41" width="36.39" height="6.44" fill="#FDC981" stroke="#9E9E9E" stroke-width="0.55"/>
<rect x="815.02" y="917.41" width="36.39" height="6.44" fill="#F1FAD9" stroke="#9E9E9E" stroke-width="0.55"/>
<rect x="851.41" y="917.41" width="36.39" height="6.44" fill="#FFFAB7" stroke="#9E9E9E" stroke-width="0.55"/>
<text x="891.5" y="922.8" font-size="6.2" text-anchor="start" fill="#000">ID4</text>
<rect x="560.30" y="923.85" width="36.39" height="6.44" fill="#72A1CB" stroke="#9E9E9E" stroke-width="0.55"/>
<rect x="596.69" y="923.85" width="36.39" height="6.44" fill="#89B7D7" stroke="#9E9E9E" stroke-width="0.55"/>
<rect x="633.08" y="923.85" width="36.39" height="6.44" fill="#72A1CB" stroke="#9E9E9E" stroke-width="0.55"/>
<rect x="669.47" y="923.85" width="36.39" height="6.44" fill="#FFFAB7" stroke="#9E9E9E" stroke-width="0.55"/>
<rect x="705.86" y="923.85" width="36.39" height="6.44" fill="#FFFAB7" stroke="#9E9E9E" stroke-width="0.55"/>
<rect x="742.24" y="923.85" width="36.39" height="6.44" fill="#E0F3F8" stroke="#9E9E9E" stroke-width="0.55"/>
<rect x="778.63" y="923.85" width="36.39" height="6.44" fill="#FDAC6E" stroke="#9E9E9E" stroke-width="0.55"/>
<rect x="815.02" y="923.85" width="36.39" height="6.44" fill="#F1FAD9" stroke="#9E9E9E" stroke-width="0.55"/>
<rect x="851.41" y="923.85" width="36.39" height="6.44" fill="#FFFAB7" stroke="#9E9E9E" stroke-width="0.55"/>
<text x="891.5" y="929.3" font-size="6.2" text-anchor="start" fill="#000">PPP1R21</text>
<rect x="560.30" y="930.29" width="36.39" height="6.44" fill="#4575B4" stroke="#9E9E9E" stroke-width="0.55"/>
<rect x="596.69" y="930.29" width="36.39" height="6.44" fill="#BFDDEC" stroke="#9E9E9E" stroke-width="0.55"/>
<rect x="633.08" y="930.29" width="36.39" height="6.44" fill="#89B7D7" stroke="#9E9E9E" stroke-width="0.55"/>
<rect x="669.47" y="930.29" width="36.39" height="6.44" fill="#FFFAB7" stroke="#9E9E9E" stroke-width="0.55"/>
<rect x="705.86" y="930.29" width="36.39" height="6.44" fill="#FFFAB7" stroke="#9E9E9E" stroke-width="0.55"/>
<rect x="742.24" y="930.29" width="36.39" height="6.44" fill="#FEEDA3" stroke="#9E9E9E" stroke-width="0.55"/>
<rect x="778.63" y="930.29" width="36.39" height="6.44" fill="#F1FAD9" stroke="#9E9E9E" stroke-width="0.55"/>
<rect x="815.02" y="930.29" width="36.39" height="6.44" fill="#FFFAB7" stroke="#9E9E9E" stroke-width="0.55"/>
<rect x="851.41" y="930.29" width="36.39" height="6.44" fill="#BFDDEC" stroke="#9E9E9E" stroke-width="0.55"/>
<text x="891.5" y="935.7" font-size="6.2" text-anchor="start" fill="#000">FER1L4</text>
<rect x="560.30" y="936.74" width="36.39" height="6.44" fill="#4575B4" stroke="#9E9E9E" stroke-width="0.55"/>
<rect x="596.69" y="936.74" width="36.39" height="6.44" fill="#89B7D7" stroke="#9E9E9E" stroke-width="0.55"/>
<rect x="633.08" y="936.74" width="36.39" height="6.44" fill="#89B7D7" stroke="#9E9E9E" stroke-width="0.55"/>
<rect x="669.47" y="936.74" width="36.39" height="6.44" fill="#FFFAB7" stroke="#9E9E9E" stroke-width="0.55"/>
<rect x="705.86" y="936.74" width="36.39" height="6.44" fill="#FFFAB7" stroke="#9E9E9E" stroke-width="0.55"/>
<rect x="742.24" y="936.74" width="36.39" height="6.44" fill="#FEEDA3" stroke="#9E9E9E" stroke-width="0.55"/>
<rect x="778.63" y="936.74" width="36.39" height="6.44" fill="#F1FAD9" stroke="#9E9E9E" stroke-width="0.55"/>
<rect x="815.02" y="936.74" width="36.39" height="6.44" fill="#FFFAB7" stroke="#9E9E9E" stroke-width="0.55"/>
<rect x="851.41" y="936.74" width="36.39" height="6.44" fill="#FFFAB7" stroke="#9E9E9E" stroke-width="0.55"/>
<text x="891.5" y="942.2" font-size="6.2" text-anchor="start" fill="#000">GDF15</text>
<rect x="560.30" y="943.18" width="36.39" height="6.44" fill="#5D8CC0" stroke="#9E9E9E" stroke-width="0.55"/>
<rect x="596.69" y="943.18" width="36.39" height="6.44" fill="#72A1CB" stroke="#9E9E9E" stroke-width="0.55"/>
<rect x="633.08" y="943.18" width="36.39" height="6.44" fill="#72A1CB" stroke="#9E9E9E" stroke-width="0.55"/>
<rect x="669.47" y="943.18" width="36.39" height="6.44" fill="#FFFAB7" stroke="#9E9E9E" stroke-width="0.55"/>
<rect x="705.86" y="943.18" width="36.39" height="6.44" fill="#FFFAB7" stroke="#9E9E9E" stroke-width="0.55"/>
<rect x="742.24" y="943.18" width="36.39" height="6.44" fill="#FEEDA3" stroke="#9E9E9E" stroke-width="0.55"/>
<rect x="778.63" y="943.18" width="36.39" height="6.44" fill="#F1FAD9" stroke="#9E9E9E" stroke-width="0.55"/>
<rect x="815.02" y="943.18" width="36.39" height="6.44" fill="#FFFAB7" stroke="#9E9E9E" stroke-width="0.55"/>
<rect x="851.41" y="943.18" width="36.39" height="6.44" fill="#F1FAD9" stroke="#9E9E9E" stroke-width="0.55"/>
<text x="891.5" y="948.6" font-size="6.2" text-anchor="start" fill="#000">SESN2</text>
<rect x="560.30" y="949.62" width="36.39" height="6.44" fill="#5D8CC0" stroke="#9E9E9E" stroke-width="0.55"/>
<rect x="596.69" y="949.62" width="36.39" height="6.44" fill="#72A1CB" stroke="#9E9E9E" stroke-width="0.55"/>
<rect x="633.08" y="949.62" width="36.39" height="6.44" fill="#72A1CB" stroke="#9E9E9E" stroke-width="0.55"/>
<rect x="669.47" y="949.62" width="36.39" height="6.44" fill="#FFFAB7" stroke="#9E9E9E" stroke-width="0.55"/>
<rect x="705.86" y="949.62" width="36.39" height="6.44" fill="#FFFAB7" stroke="#9E9E9E" stroke-width="0.55"/>
<rect x="742.24" y="949.62" width="36.39" height="6.44" fill="#FEEDA3" stroke="#9E9E9E" stroke-width="0.55"/>
<rect x="778.63" y="949.62" width="36.39" height="6.44" fill="#F1FAD9" stroke="#9E9E9E" stroke-width="0.55"/>
<rect x="815.02" y="949.62" width="36.39" height="6.44" fill="#FFFAB7" stroke="#9E9E9E" stroke-width="0.55"/>
<rect x="851.41" y="949.62" width="36.39" height="6.44" fill="#FFFAB7" stroke="#9E9E9E" stroke-width="0.55"/>
<text x="891.5" y="955.0" font-size="6.2" text-anchor="start" fill="#000">DDIT4</text>
<rect x="560.30" y="956.07" width="36.39" height="6.44" fill="#4575B4" stroke="#9E9E9E" stroke-width="0.55"/>
<rect x="596.69" y="956.07" width="36.39" height="6.44" fill="#89B7D7" stroke="#9E9E9E" stroke-width="0.55"/>
<rect x="633.08" y="956.07" width="36.39" height="6.44" fill="#72A1CB" stroke="#9E9E9E" stroke-width="0.55"/>
<rect x="669.47" y="956.07" width="36.39" height="6.44" fill="#FFFAB7" stroke="#9E9E9E" stroke-width="0.55"/>
<rect x="705.86" y="956.07" width="36.39" height="6.44" fill="#FEEDA3" stroke="#9E9E9E" stroke-width="0.55"/>
<rect x="742.24" y="956.07" width="36.39" height="6.44" fill="#FFFAB7" stroke="#9E9E9E" stroke-width="0.55"/>
<rect x="778.63" y="956.07" width="36.39" height="6.44" fill="#F1FAD9" stroke="#9E9E9E" stroke-width="0.55"/>
<rect x="815.02" y="956.07" width="36.39" height="6.44" fill="#FFFAB7" stroke="#9E9E9E" stroke-width="0.55"/>
<rect x="851.41" y="956.07" width="36.39" height="6.44" fill="#FFFAB7" stroke="#9E9E9E" stroke-width="0.55"/>
<text x="891.5" y="961.5" font-size="6.2" text-anchor="start" fill="#000">NXPH4</text>
<rect x="560.30" y="962.51" width="36.39" height="6.44" fill="#89B7D7" stroke="#9E9E9E" stroke-width="0.55"/>
<rect x="596.69" y="962.51" width="36.39" height="6.44" fill="#BFDDEC" stroke="#9E9E9E" stroke-width="0.55"/>
<rect x="633.08" y="962.51" width="36.39" height="6.44" fill="#89B7D7" stroke="#9E9E9E" stroke-width="0.55"/>
<rect x="669.47" y="962.51" width="36.39" height="6.44" fill="#EB6343" stroke="#9E9E9E" stroke-width="0.55"/>
<rect x="705.86" y="962.51" width="36.39" height="6.44" fill="#E0F3F8" stroke="#9E9E9E" stroke-width="0.55"/>
<rect x="742.24" y="962.51" width="36.39" height="6.44" fill="#E0F3F8" stroke="#9E9E9E" stroke-width="0.55"/>
<rect x="778.63" y="962.51" width="36.39" height="6.44" fill="#E0F3F8" stroke="#9E9E9E" stroke-width="0.55"/>
<rect x="815.02" y="962.51" width="36.39" height="6.44" fill="#FFFAB7" stroke="#9E9E9E" stroke-width="0.55"/>
<rect x="851.41" y="962.51" width="36.39" height="6.44" fill="#FFFAB7" stroke="#9E9E9E" stroke-width="0.55"/>
<text x="891.5" y="967.9" font-size="6.2" text-anchor="start" fill="#000">CDKL1</text>
<rect x="560.30" y="968.96" width="36.39" height="6.44" fill="#89B7D7" stroke="#9E9E9E" stroke-width="0.55"/>
<rect x="596.69" y="968.96" width="36.39" height="6.44" fill="#BFDDEC" stroke="#9E9E9E" stroke-width="0.55"/>
<rect x="633.08" y="968.96" width="36.39" height="6.44" fill="#89B7D7" stroke="#9E9E9E" stroke-width="0.55"/>
<rect x="669.47" y="968.96" width="36.39" height="6.44" fill="#FDC981" stroke="#9E9E9E" stroke-width="0.55"/>
<rect x="705.86" y="968.96" width="36.39" height="6.44" fill="#BFDDEC" stroke="#9E9E9E" stroke-width="0.55"/>
<rect x="742.24" y="968.96" width="36.39" height="6.44" fill="#FFFAB7" stroke="#9E9E9E" stroke-width="0.55"/>
<rect x="778.63" y="968.96" width="36.39" height="6.44" fill="#89B7D7" stroke="#9E9E9E" stroke-width="0.55"/>
<rect x="815.02" y="968.96" width="36.39" height="6.44" fill="#FFFAB7" stroke="#9E9E9E" stroke-width="0.55"/>
<rect x="851.41" y="968.96" width="36.39" height="6.44" fill="#FFFAB7" stroke="#9E9E9E" stroke-width="0.55"/>
<text x="891.5" y="974.4" font-size="6.2" text-anchor="start" fill="#000">COL24A1</text>
<rect x="560.30" y="980.20" width="36.39" height="6.46" fill="#F67D50" stroke="#9E9E9E" stroke-width="0.55"/>
<rect x="596.69" y="980.20" width="36.39" height="6.46" fill="#E0F3F8" stroke="#9E9E9E" stroke-width="0.55"/>
<rect x="633.08" y="980.20" width="36.39" height="6.46" fill="#FEE293" stroke="#9E9E9E" stroke-width="0.55"/>
<rect x="669.47" y="980.20" width="36.39" height="6.46" fill="#BFDDEC" stroke="#9E9E9E" stroke-width="0.55"/>
<rect x="705.86" y="980.20" width="36.39" height="6.46" fill="#A4CCE2" stroke="#9E9E9E" stroke-width="0.55"/>
<rect x="742.24" y="980.20" width="36.39" height="6.46" fill="#BFDDEC" stroke="#9E9E9E" stroke-width="0.55"/>
<rect x="778.63" y="980.20" width="36.39" height="6.46" fill="#BFDDEC" stroke="#9E9E9E" stroke-width="0.55"/>
<rect x="815.02" y="980.20" width="36.39" height="6.46" fill="#BFDDEC" stroke="#9E9E9E" stroke-width="0.55"/>
<rect x="851.41" y="980.20" width="36.39" height="6.46" fill="#BFDDEC" stroke="#9E9E9E" stroke-width="0.55"/>
<text x="891.5" y="985.6" font-size="6.2" text-anchor="start" fill="#000">FGF23</text>
<rect x="560.30" y="986.66" width="36.39" height="6.46" fill="#DC3D2E" stroke="#9E9E9E" stroke-width="0.55"/>
<rect x="596.69" y="986.66" width="36.39" height="6.46" fill="#F1FAD9" stroke="#9E9E9E" stroke-width="0.55"/>
<rect x="633.08" y="986.66" width="36.39" height="6.46" fill="#E0F3F8" stroke="#9E9E9E" stroke-width="0.55"/>
<rect x="669.47" y="986.66" width="36.39" height="6.46" fill="#BFDDEC" stroke="#9E9E9E" stroke-width="0.55"/>
<rect x="705.86" y="986.66" width="36.39" height="6.46" fill="#BFDDEC" stroke="#9E9E9E" stroke-width="0.55"/>
<rect x="742.24" y="986.66" width="36.39" height="6.46" fill="#BFDDEC" stroke="#9E9E9E" stroke-width="0.55"/>
<rect x="778.63" y="986.66" width="36.39" height="6.46" fill="#BFDDEC" stroke="#9E9E9E" stroke-width="0.55"/>
<rect x="815.02" y="986.66" width="36.39" height="6.46" fill="#BFDDEC" stroke="#9E9E9E" stroke-width="0.55"/>
<rect x="851.41" y="986.66" width="36.39" height="6.46" fill="#BFDDEC" stroke="#9E9E9E" stroke-width="0.55"/>
<text x="891.5" y="992.1" font-size="6.2" text-anchor="start" fill="#000">F13A1</text>
<rect x="560.30" y="993.11" width="36.39" height="6.46" fill="#DC3D2E" stroke="#9E9E9E" stroke-width="0.55"/>
<rect x="596.69" y="993.11" width="36.39" height="6.46" fill="#FFFAB7" stroke="#9E9E9E" stroke-width="0.55"/>
<rect x="633.08" y="993.11" width="36.39" height="6.46" fill="#BFDDEC" stroke="#9E9E9E" stroke-width="0.55"/>
<rect x="669.47" y="993.11" width="36.39" height="6.46" fill="#BFDDEC" stroke="#9E9E9E" stroke-width="0.55"/>
<rect x="705.86" y="993.11" width="36.39" height="6.46" fill="#BFDDEC" stroke="#9E9E9E" stroke-width="0.55"/>
<rect x="742.24" y="993.11" width="36.39" height="6.46" fill="#BFDDEC" stroke="#9E9E9E" stroke-width="0.55"/>
<rect x="778.63" y="993.11" width="36.39" height="6.46" fill="#BFDDEC" stroke="#9E9E9E" stroke-width="0.55"/>
<rect x="815.02" y="993.11" width="36.39" height="6.46" fill="#BFDDEC" stroke="#9E9E9E" stroke-width="0.55"/>
<rect x="851.41" y="993.11" width="36.39" height="6.46" fill="#BFDDEC" stroke="#9E9E9E" stroke-width="0.55"/>
<text x="891.5" y="998.5" font-size="6.2" text-anchor="start" fill="#000">MYH2</text>
<rect x="560.30" y="999.57" width="36.39" height="6.46" fill="#F67D50" stroke="#9E9E9E" stroke-width="0.55"/>
<rect x="596.69" y="999.57" width="36.39" height="6.46" fill="#FEE293" stroke="#9E9E9E" stroke-width="0.55"/>
<rect x="633.08" y="999.57" width="36.39" height="6.46" fill="#FFFAB7" stroke="#9E9E9E" stroke-width="0.55"/>
<rect x="669.47" y="999.57" width="36.39" height="6.46" fill="#BFDDEC" stroke="#9E9E9E" stroke-width="0.55"/>
<rect x="705.86" y="999.57" width="36.39" height="6.46" fill="#BFDDEC" stroke="#9E9E9E" stroke-width="0.55"/>
<rect x="742.24" y="999.57" width="36.39" height="6.46" fill="#BFDDEC" stroke="#9E9E9E" stroke-width="0.55"/>
<rect x="778.63" y="999.57" width="36.39" height="6.46" fill="#BFDDEC" stroke="#9E9E9E" stroke-width="0.55"/>
<rect x="815.02" y="999.57" width="36.39" height="6.46" fill="#A4CCE2" stroke="#9E9E9E" stroke-width="0.55"/>
<rect x="851.41" y="999.57" width="36.39" height="6.46" fill="#BFDDEC" stroke="#9E9E9E" stroke-width="0.55"/>
<text x="891.5" y="1005.0" font-size="6.2" text-anchor="start" fill="#000">ANKRD1</text>
<rect x="560.30" y="1006.02" width="36.39" height="6.46" fill="#F67D50" stroke="#9E9E9E" stroke-width="0.55"/>
<rect x="596.69" y="1006.02" width="36.39" height="6.46" fill="#FEE293" stroke="#9E9E9E" stroke-width="0.55"/>
<rect x="633.08" y="1006.02" width="36.39" height="6.46" fill="#FFFAB7" stroke="#9E9E9E" stroke-width="0.55"/>
<rect x="669.47" y="1006.02" width="36.39" height="6.46" fill="#BFDDEC" stroke="#9E9E9E" stroke-width="0.55"/>
<rect x="705.86" y="1006.02" width="36.39" height="6.46" fill="#BFDDEC" stroke="#9E9E9E" stroke-width="0.55"/>
<rect x="742.24" y="1006.02" width="36.39" height="6.46" fill="#BFDDEC" stroke="#9E9E9E" stroke-width="0.55"/>
<rect x="778.63" y="1006.02" width="36.39" height="6.46" fill="#A4CCE2" stroke="#9E9E9E" stroke-width="0.55"/>
<rect x="815.02" y="1006.02" width="36.39" height="6.46" fill="#BFDDEC" stroke="#9E9E9E" stroke-width="0.55"/>
<rect x="851.41" y="1006.02" width="36.39" height="6.46" fill="#A4CCE2" stroke="#9E9E9E" stroke-width="0.55"/>
<text x="891.5" y="1011.5" font-size="6.2" text-anchor="start" fill="#000">NUAK1</text>
<rect x="560.30" y="1012.48" width="36.39" height="6.46" fill="#F67D50" stroke="#9E9E9E" stroke-width="0.55"/>
<rect x="596.69" y="1012.48" width="36.39" height="6.46" fill="#FEE293" stroke="#9E9E9E" stroke-width="0.55"/>
<rect x="633.08" y="1012.48" width="36.39" height="6.46" fill="#FFFAB7" stroke="#9E9E9E" stroke-width="0.55"/>
<rect x="669.47" y="1012.48" width="36.39" height="6.46" fill="#E0F3F8" stroke="#9E9E9E" stroke-width="0.55"/>
<rect x="705.86" y="1012.48" width="36.39" height="6.46" fill="#E0F3F8" stroke="#9E9E9E" stroke-width="0.55"/>
<rect x="742.24" y="1012.48" width="36.39" height="6.46" fill="#BFDDEC" stroke="#9E9E9E" stroke-width="0.55"/>
<rect x="778.63" y="1012.48" width="36.39" height="6.46" fill="#A4CCE2" stroke="#9E9E9E" stroke-width="0.55"/>
<rect x="815.02" y="1012.48" width="36.39" height="6.46" fill="#79A8CF" stroke="#9E9E9E" stroke-width="0.55"/>
<rect x="851.41" y="1012.48" width="36.39" height="6.46" fill="#BFDDEC" stroke="#9E9E9E" stroke-width="0.55"/>
<text x="891.5" y="1017.9" font-size="6.2" text-anchor="start" fill="#000">MTND1P23</text>
<rect x="560.30" y="1018.93" width="36.39" height="6.46" fill="#F67D50" stroke="#9E9E9E" stroke-width="0.55"/>
<rect x="596.69" y="1018.93" width="36.39" height="6.46" fill="#FEE293" stroke="#9E9E9E" stroke-width="0.55"/>
<rect x="633.08" y="1018.93" width="36.39" height="6.46" fill="#FFFAB7" stroke="#9E9E9E" stroke-width="0.55"/>
<rect x="669.47" y="1018.93" width="36.39" height="6.46" fill="#BFDDEC" stroke="#9E9E9E" stroke-width="0.55"/>
<rect x="705.86" y="1018.93" width="36.39" height="6.46" fill="#E0F3F8" stroke="#9E9E9E" stroke-width="0.55"/>
<rect x="742.24" y="1018.93" width="36.39" height="6.46" fill="#BFDDEC" stroke="#9E9E9E" stroke-width="0.55"/>
<rect x="778.63" y="1018.93" width="36.39" height="6.46" fill="#BFDDEC" stroke="#9E9E9E" stroke-width="0.55"/>
<rect x="815.02" y="1018.93" width="36.39" height="6.46" fill="#BFDDEC" stroke="#9E9E9E" stroke-width="0.55"/>
<rect x="851.41" y="1018.93" width="36.39" height="6.46" fill="#A4CCE2" stroke="#9E9E9E" stroke-width="0.55"/>
<text x="891.5" y="1024.4" font-size="6.2" text-anchor="start" fill="#000">SNAPC1</text>
<rect x="560.30" y="1025.39" width="36.39" height="6.46" fill="#EB6343" stroke="#9E9E9E" stroke-width="0.55"/>
<rect x="596.69" y="1025.39" width="36.39" height="6.46" fill="#FEEDA3" stroke="#9E9E9E" stroke-width="0.55"/>
<rect x="633.08" y="1025.39" width="36.39" height="6.46" fill="#FFFAB7" stroke="#9E9E9E" stroke-width="0.55"/>
<rect x="669.47" y="1025.39" width="36.39" height="6.46" fill="#A4CCE2" stroke="#9E9E9E" stroke-width="0.55"/>
<rect x="705.86" y="1025.39" width="36.39" height="6.46" fill="#A4CCE2" stroke="#9E9E9E" stroke-width="0.55"/>
<rect x="742.24" y="1025.39" width="36.39" height="6.46" fill="#A4CCE2" stroke="#9E9E9E" stroke-width="0.55"/>
<rect x="778.63" y="1025.39" width="36.39" height="6.46" fill="#BFDDEC" stroke="#9E9E9E" stroke-width="0.55"/>
<rect x="815.02" y="1025.39" width="36.39" height="6.46" fill="#BFDDEC" stroke="#9E9E9E" stroke-width="0.55"/>
<rect x="851.41" y="1025.39" width="36.39" height="6.46" fill="#BFDDEC" stroke="#9E9E9E" stroke-width="0.55"/>
<text x="891.5" y="1030.8" font-size="6.2" text-anchor="start" fill="#000">MT−ATP8</text>
<rect x="560.30" y="1031.85" width="36.39" height="6.46" fill="#FDAC6E" stroke="#9E9E9E" stroke-width="0.55"/>
<rect x="596.69" y="1031.85" width="36.39" height="6.46" fill="#FEEDA3" stroke="#9E9E9E" stroke-width="0.55"/>
<rect x="633.08" y="1031.85" width="36.39" height="6.46" fill="#FDC981" stroke="#9E9E9E" stroke-width="0.55"/>
<rect x="669.47" y="1031.85" width="36.39" height="6.46" fill="#A4CCE2" stroke="#9E9E9E" stroke-width="0.55"/>
<rect x="705.86" y="1031.85" width="36.39" height="6.46" fill="#A4CCE2" stroke="#9E9E9E" stroke-width="0.55"/>
<rect x="742.24" y="1031.85" width="36.39" height="6.46" fill="#A4CCE2" stroke="#9E9E9E" stroke-width="0.55"/>
<rect x="778.63" y="1031.85" width="36.39" height="6.46" fill="#BFDDEC" stroke="#9E9E9E" stroke-width="0.55"/>
<rect x="815.02" y="1031.85" width="36.39" height="6.46" fill="#BFDDEC" stroke="#9E9E9E" stroke-width="0.55"/>
<rect x="851.41" y="1031.85" width="36.39" height="6.46" fill="#BFDDEC" stroke="#9E9E9E" stroke-width="0.55"/>
<text x="891.5" y="1037.3" font-size="6.2" text-anchor="start" fill="#000">CXCL1</text>
<rect x="560.30" y="1038.30" width="36.39" height="6.46" fill="#FDAC6E" stroke="#9E9E9E" stroke-width="0.55"/>
<rect x="596.69" y="1038.30" width="36.39" height="6.46" fill="#FEEDA3" stroke="#9E9E9E" stroke-width="0.55"/>
<rect x="633.08" y="1038.30" width="36.39" height="6.46" fill="#FFFAB7" stroke="#9E9E9E" stroke-width="0.55"/>
<rect x="669.47" y="1038.30" width="36.39" height="6.46" fill="#A4CCE2" stroke="#9E9E9E" stroke-width="0.55"/>
<rect x="705.86" y="1038.30" width="36.39" height="6.46" fill="#A4CCE2" stroke="#9E9E9E" stroke-width="0.55"/>
<rect x="742.24" y="1038.30" width="36.39" height="6.46" fill="#A4CCE2" stroke="#9E9E9E" stroke-width="0.55"/>
<rect x="778.63" y="1038.30" width="36.39" height="6.46" fill="#E0F3F8" stroke="#9E9E9E" stroke-width="0.55"/>
<rect x="815.02" y="1038.30" width="36.39" height="6.46" fill="#BFDDEC" stroke="#9E9E9E" stroke-width="0.55"/>
<rect x="851.41" y="1038.30" width="36.39" height="6.46" fill="#E0F3F8" stroke="#9E9E9E" stroke-width="0.55"/>
<text x="891.5" y="1043.7" font-size="6.2" text-anchor="start" fill="#000">CAVIN4</text>
<rect x="560.30" y="1044.76" width="36.39" height="6.46" fill="#FDAC6E" stroke="#9E9E9E" stroke-width="0.55"/>
<rect x="596.69" y="1044.76" width="36.39" height="6.46" fill="#FEE293" stroke="#9E9E9E" stroke-width="0.55"/>
<rect x="633.08" y="1044.76" width="36.39" height="6.46" fill="#FEEDA3" stroke="#9E9E9E" stroke-width="0.55"/>
<rect x="669.47" y="1044.76" width="36.39" height="6.46" fill="#A4CCE2" stroke="#9E9E9E" stroke-width="0.55"/>
<rect x="705.86" y="1044.76" width="36.39" height="6.46" fill="#A4CCE2" stroke="#9E9E9E" stroke-width="0.55"/>
<rect x="742.24" y="1044.76" width="36.39" height="6.46" fill="#A4CCE2" stroke="#9E9E9E" stroke-width="0.55"/>
<rect x="778.63" y="1044.76" width="36.39" height="6.46" fill="#BFDDEC" stroke="#9E9E9E" stroke-width="0.55"/>
<rect x="815.02" y="1044.76" width="36.39" height="6.46" fill="#BFDDEC" stroke="#9E9E9E" stroke-width="0.55"/>
<rect x="851.41" y="1044.76" width="36.39" height="6.46" fill="#BFDDEC" stroke="#9E9E9E" stroke-width="0.55"/>
<text x="891.5" y="1050.2" font-size="6.2" text-anchor="start" fill="#000">MT−ND2</text>
<rect x="560.30" y="1051.21" width="36.39" height="6.46" fill="#FDAC6E" stroke="#9E9E9E" stroke-width="0.55"/>
<rect x="596.69" y="1051.21" width="36.39" height="6.46" fill="#FEE293" stroke="#9E9E9E" stroke-width="0.55"/>
<rect x="633.08" y="1051.21" width="36.39" height="6.46" fill="#FEEDA3" stroke="#9E9E9E" stroke-width="0.55"/>
<rect x="669.47" y="1051.21" width="36.39" height="6.46" fill="#A4CCE2" stroke="#9E9E9E" stroke-width="0.55"/>
<rect x="705.86" y="1051.21" width="36.39" height="6.46" fill="#A4CCE2" stroke="#9E9E9E" stroke-width="0.55"/>
<rect x="742.24" y="1051.21" width="36.39" height="6.46" fill="#A4CCE2" stroke="#9E9E9E" stroke-width="0.55"/>
<rect x="778.63" y="1051.21" width="36.39" height="6.46" fill="#BFDDEC" stroke="#9E9E9E" stroke-width="0.55"/>
<rect x="815.02" y="1051.21" width="36.39" height="6.46" fill="#BFDDEC" stroke="#9E9E9E" stroke-width="0.55"/>
<rect x="851.41" y="1051.21" width="36.39" height="6.46" fill="#A4CCE2" stroke="#9E9E9E" stroke-width="0.55"/>
<text x="891.5" y="1056.6" font-size="6.2" text-anchor="start" fill="#000">PLK2</text>
<rect x="560.30" y="1057.67" width="36.39" height="6.46" fill="#E0F3F8" stroke="#9E9E9E" stroke-width="0.55"/>
<rect x="596.69" y="1057.67" width="36.39" height="6.46" fill="#DC3D2E" stroke="#9E9E9E" stroke-width="0.55"/>
<rect x="633.08" y="1057.67" width="36.39" height="6.46" fill="#BFDDEC" stroke="#9E9E9E" stroke-width="0.55"/>
<rect x="669.47" y="1057.67" width="36.39" height="6.46" fill="#E0F3F8" stroke="#9E9E9E" stroke-width="0.55"/>
<rect x="705.86" y="1057.67" width="36.39" height="6.46" fill="#BFDDEC" stroke="#9E9E9E" stroke-width="0.55"/>
<rect x="742.24" y="1057.67" width="36.39" height="6.46" fill="#BFDDEC" stroke="#9E9E9E" stroke-width="0.55"/>
<rect x="778.63" y="1057.67" width="36.39" height="6.46" fill="#BFDDEC" stroke="#9E9E9E" stroke-width="0.55"/>
<rect x="815.02" y="1057.67" width="36.39" height="6.46" fill="#BFDDEC" stroke="#9E9E9E" stroke-width="0.55"/>
<rect x="851.41" y="1057.67" width="36.39" height="6.46" fill="#BFDDEC" stroke="#9E9E9E" stroke-width="0.55"/>
<text x="891.5" y="1063.1" font-size="6.2" text-anchor="start" fill="#000">OTOG</text>
<rect x="560.30" y="1064.13" width="36.39" height="6.46" fill="#FEEDA3" stroke="#9E9E9E" stroke-width="0.55"/>
<rect x="596.69" y="1064.13" width="36.39" height="6.46" fill="#EB6343" stroke="#9E9E9E" stroke-width="0.55"/>
<rect x="633.08" y="1064.13" width="36.39" height="6.46" fill="#FFFAB7" stroke="#9E9E9E" stroke-width="0.55"/>
<rect x="669.47" y="1064.13" width="36.39" height="6.46" fill="#F1FAD9" stroke="#9E9E9E" stroke-width="0.55"/>
<rect x="705.86" y="1064.13" width="36.39" height="6.46" fill="#A4CCE2" stroke="#9E9E9E" stroke-width="0.55"/>
<rect x="742.24" y="1064.13" width="36.39" height="6.46" fill="#A4CCE2" stroke="#9E9E9E" stroke-width="0.55"/>
<rect x="778.63" y="1064.13" width="36.39" height="6.46" fill="#BFDDEC" stroke="#9E9E9E" stroke-width="0.55"/>
<rect x="815.02" y="1064.13" width="36.39" height="6.46" fill="#BFDDEC" stroke="#9E9E9E" stroke-width="0.55"/>
<rect x="851.41" y="1064.13" width="36.39" height="6.46" fill="#BFDDEC" stroke="#9E9E9E" stroke-width="0.55"/>
<text x="891.5" y="1069.6" font-size="6.2" text-anchor="start" fill="#000">ABLIM3</text>
<rect x="560.30" y="1070.58" width="36.39" height="6.46" fill="#FFFAB7" stroke="#9E9E9E" stroke-width="0.55"/>
<rect x="596.69" y="1070.58" width="36.39" height="6.46" fill="#EB6343" stroke="#9E9E9E" stroke-width="0.55"/>
<rect x="633.08" y="1070.58" width="36.39" height="6.46" fill="#FFFAB7" stroke="#9E9E9E" stroke-width="0.55"/>
<rect x="669.47" y="1070.58" width="36.39" height="6.46" fill="#BFDDEC" stroke="#9E9E9E" stroke-width="0.55"/>
<rect x="705.86" y="1070.58" width="36.39" height="6.46" fill="#E0F3F8" stroke="#9E9E9E" stroke-width="0.55"/>
<rect x="742.24" y="1070.58" width="36.39" height="6.46" fill="#A4CCE2" stroke="#9E9E9E" stroke-width="0.55"/>
<rect x="778.63" y="1070.58" width="36.39" height="6.46" fill="#A4CCE2" stroke="#9E9E9E" stroke-width="0.55"/>
<rect x="815.02" y="1070.58" width="36.39" height="6.46" fill="#A4CCE2" stroke="#9E9E9E" stroke-width="0.55"/>
<rect x="851.41" y="1070.58" width="36.39" height="6.46" fill="#BFDDEC" stroke="#9E9E9E" stroke-width="0.55"/>
<text x="891.5" y="1076.0" font-size="6.2" text-anchor="start" fill="#000">PGM5P2</text>
<rect x="560.30" y="1077.04" width="36.39" height="6.46" fill="#FEEDA3" stroke="#9E9E9E" stroke-width="0.55"/>
<rect x="596.69" y="1077.04" width="36.39" height="6.46" fill="#F67D50" stroke="#9E9E9E" stroke-width="0.55"/>
<rect x="633.08" y="1077.04" width="36.39" height="6.46" fill="#FFFAB7" stroke="#9E9E9E" stroke-width="0.55"/>
<rect x="669.47" y="1077.04" width="36.39" height="6.46" fill="#BFDDEC" stroke="#9E9E9E" stroke-width="0.55"/>
<rect x="705.86" y="1077.04" width="36.39" height="6.46" fill="#A4CCE2" stroke="#9E9E9E" stroke-width="0.55"/>
<rect x="742.24" y="1077.04" width="36.39" height="6.46" fill="#A4CCE2" stroke="#9E9E9E" stroke-width="0.55"/>
<rect x="778.63" y="1077.04" width="36.39" height="6.46" fill="#A4CCE2" stroke="#9E9E9E" stroke-width="0.55"/>
<rect x="815.02" y="1077.04" width="36.39" height="6.46" fill="#BFDDEC" stroke="#9E9E9E" stroke-width="0.55"/>
<rect x="851.41" y="1077.04" width="36.39" height="6.46" fill="#BFDDEC" stroke="#9E9E9E" stroke-width="0.55"/>
<text x="891.5" y="1082.5" font-size="6.2" text-anchor="start" fill="#000">HSPB3</text>
<rect x="560.30" y="1083.49" width="36.39" height="6.46" fill="#FEEDA3" stroke="#9E9E9E" stroke-width="0.55"/>
<rect x="596.69" y="1083.49" width="36.39" height="6.46" fill="#F67D50" stroke="#9E9E9E" stroke-width="0.55"/>
<rect x="633.08" y="1083.49" width="36.39" height="6.46" fill="#FFFAB7" stroke="#9E9E9E" stroke-width="0.55"/>
<rect x="669.47" y="1083.49" width="36.39" height="6.46" fill="#BFDDEC" stroke="#9E9E9E" stroke-width="0.55"/>
<rect x="705.86" y="1083.49" width="36.39" height="6.46" fill="#A4CCE2" stroke="#9E9E9E" stroke-width="0.55"/>
<rect x="742.24" y="1083.49" width="36.39" height="6.46" fill="#BFDDEC" stroke="#9E9E9E" stroke-width="0.55"/>
<rect x="778.63" y="1083.49" width="36.39" height="6.46" fill="#A4CCE2" stroke="#9E9E9E" stroke-width="0.55"/>
<rect x="815.02" y="1083.49" width="36.39" height="6.46" fill="#BFDDEC" stroke="#9E9E9E" stroke-width="0.55"/>
<rect x="851.41" y="1083.49" width="36.39" height="6.46" fill="#BFDDEC" stroke="#9E9E9E" stroke-width="0.55"/>
<text x="891.5" y="1088.9" font-size="6.2" text-anchor="start" fill="#000">TNNC1</text>
<rect x="560.30" y="1089.95" width="36.39" height="6.46" fill="#FDAC6E" stroke="#9E9E9E" stroke-width="0.55"/>
<rect x="596.69" y="1089.95" width="36.39" height="6.46" fill="#F67D50" stroke="#9E9E9E" stroke-width="0.55"/>
<rect x="633.08" y="1089.95" width="36.39" height="6.46" fill="#F1FAD9" stroke="#9E9E9E" stroke-width="0.55"/>
<rect x="669.47" y="1089.95" width="36.39" height="6.46" fill="#BFDDEC" stroke="#9E9E9E" stroke-width="0.55"/>
<rect x="705.86" y="1089.95" width="36.39" height="6.46" fill="#BFDDEC" stroke="#9E9E9E" stroke-width="0.55"/>
<rect x="742.24" y="1089.95" width="36.39" height="6.46" fill="#A4CCE2" stroke="#9E9E9E" stroke-width="0.55"/>
<rect x="778.63" y="1089.95" width="36.39" height="6.46" fill="#BFDDEC" stroke="#9E9E9E" stroke-width="0.55"/>
<rect x="815.02" y="1089.95" width="36.39" height="6.46" fill="#BFDDEC" stroke="#9E9E9E" stroke-width="0.55"/>
<rect x="851.41" y="1089.95" width="36.39" height="6.46" fill="#BFDDEC" stroke="#9E9E9E" stroke-width="0.55"/>
<text x="891.5" y="1095.4" font-size="6.2" text-anchor="start" fill="#000">ANKRD18B</text>
<rect x="560.30" y="1096.40" width="36.39" height="6.46" fill="#FEE293" stroke="#9E9E9E" stroke-width="0.55"/>
<rect x="596.69" y="1096.40" width="36.39" height="6.46" fill="#F67D50" stroke="#9E9E9E" stroke-width="0.55"/>
<rect x="633.08" y="1096.40" width="36.39" height="6.46" fill="#F1FAD9" stroke="#9E9E9E" stroke-width="0.55"/>
<rect x="669.47" y="1096.40" width="36.39" height="6.46" fill="#A4CCE2" stroke="#9E9E9E" stroke-width="0.55"/>
<rect x="705.86" y="1096.40" width="36.39" height="6.46" fill="#BFDDEC" stroke="#9E9E9E" stroke-width="0.55"/>
<rect x="742.24" y="1096.40" width="36.39" height="6.46" fill="#A4CCE2" stroke="#9E9E9E" stroke-width="0.55"/>
<rect x="778.63" y="1096.40" width="36.39" height="6.46" fill="#E0F3F8" stroke="#9E9E9E" stroke-width="0.55"/>
<rect x="815.02" y="1096.40" width="36.39" height="6.46" fill="#BFDDEC" stroke="#9E9E9E" stroke-width="0.55"/>
<rect x="851.41" y="1096.40" width="36.39" height="6.46" fill="#A4CCE2" stroke="#9E9E9E" stroke-width="0.55"/>
<text x="891.5" y="1101.8" font-size="6.2" text-anchor="start" fill="#000">SHROOM2</text>
<rect x="560.30" y="1102.86" width="36.39" height="6.46" fill="#FEEDA3" stroke="#9E9E9E" stroke-width="0.55"/>
<rect x="596.69" y="1102.86" width="36.39" height="6.46" fill="#FDAC6E" stroke="#9E9E9E" stroke-width="0.55"/>
<rect x="633.08" y="1102.86" width="36.39" height="6.46" fill="#FEE293" stroke="#9E9E9E" stroke-width="0.55"/>
<rect x="669.47" y="1102.86" width="36.39" height="6.46" fill="#E0F3F8" stroke="#9E9E9E" stroke-width="0.55"/>
<rect x="705.86" y="1102.86" width="36.39" height="6.46" fill="#E0F3F8" stroke="#9E9E9E" stroke-width="0.55"/>
<rect x="742.24" y="1102.86" width="36.39" height="6.46" fill="#BFDDEC" stroke="#9E9E9E" stroke-width="0.55"/>
<rect x="778.63" y="1102.86" width="36.39" height="6.46" fill="#79A8CF" stroke="#9E9E9E" stroke-width="0.55"/>
<rect x="815.02" y="1102.86" width="36.39" height="6.46" fill="#A4CCE2" stroke="#9E9E9E" stroke-width="0.55"/>
<rect x="851.41" y="1102.86" width="36.39" height="6.46" fill="#A4CCE2" stroke="#9E9E9E" stroke-width="0.55"/>
<text x="891.5" y="1108.3" font-size="6.2" text-anchor="start" fill="#000">RNA5−8SP6</text>
<rect x="560.30" y="1109.32" width="36.39" height="6.46" fill="#FEEDA3" stroke="#9E9E9E" stroke-width="0.55"/>
<rect x="596.69" y="1109.32" width="36.39" height="6.46" fill="#FDAC6E" stroke="#9E9E9E" stroke-width="0.55"/>
<rect x="633.08" y="1109.32" width="36.39" height="6.46" fill="#FEE293" stroke="#9E9E9E" stroke-width="0.55"/>
<rect x="669.47" y="1109.32" width="36.39" height="6.46" fill="#E0F3F8" stroke="#9E9E9E" stroke-width="0.55"/>
<rect x="705.86" y="1109.32" width="36.39" height="6.46" fill="#BFDDEC" stroke="#9E9E9E" stroke-width="0.55"/>
<rect x="742.24" y="1109.32" width="36.39" height="6.46" fill="#BFDDEC" stroke="#9E9E9E" stroke-width="0.55"/>
<rect x="778.63" y="1109.32" width="36.39" height="6.46" fill="#79A8CF" stroke="#9E9E9E" stroke-width="0.55"/>
<rect x="815.02" y="1109.32" width="36.39" height="6.46" fill="#A4CCE2" stroke="#9E9E9E" stroke-width="0.55"/>
<rect x="851.41" y="1109.32" width="36.39" height="6.46" fill="#A4CCE2" stroke="#9E9E9E" stroke-width="0.55"/>
<text x="891.5" y="1114.7" font-size="6.2" text-anchor="start" fill="#000">ADM</text>
<rect x="560.30" y="1115.77" width="36.39" height="6.46" fill="#FEEDA3" stroke="#9E9E9E" stroke-width="0.55"/>
<rect x="596.69" y="1115.77" width="36.39" height="6.46" fill="#FDAC6E" stroke="#9E9E9E" stroke-width="0.55"/>
<rect x="633.08" y="1115.77" width="36.39" height="6.46" fill="#FEE293" stroke="#9E9E9E" stroke-width="0.55"/>
<rect x="669.47" y="1115.77" width="36.39" height="6.46" fill="#E0F3F8" stroke="#9E9E9E" stroke-width="0.55"/>
<rect x="705.86" y="1115.77" width="36.39" height="6.46" fill="#BFDDEC" stroke="#9E9E9E" stroke-width="0.55"/>
<rect x="742.24" y="1115.77" width="36.39" height="6.46" fill="#BFDDEC" stroke="#9E9E9E" stroke-width="0.55"/>
<rect x="778.63" y="1115.77" width="36.39" height="6.46" fill="#79A8CF" stroke="#9E9E9E" stroke-width="0.55"/>
<rect x="815.02" y="1115.77" width="36.39" height="6.46" fill="#79A8CF" stroke="#9E9E9E" stroke-width="0.55"/>
<rect x="851.41" y="1115.77" width="36.39" height="6.46" fill="#A4CCE2" stroke="#9E9E9E" stroke-width="0.55"/>
<text x="891.5" y="1121.2" font-size="6.2" text-anchor="start" fill="#000">CCN1</text>
<rect x="560.30" y="1122.23" width="36.39" height="6.46" fill="#FFFAB7" stroke="#9E9E9E" stroke-width="0.55"/>
<rect x="596.69" y="1122.23" width="36.39" height="6.46" fill="#FDC981" stroke="#9E9E9E" stroke-width="0.55"/>
<rect x="633.08" y="1122.23" width="36.39" height="6.46" fill="#FDAC6E" stroke="#9E9E9E" stroke-width="0.55"/>
<rect x="669.47" y="1122.23" width="36.39" height="6.46" fill="#BFDDEC" stroke="#9E9E9E" stroke-width="0.55"/>
<rect x="705.86" y="1122.23" width="36.39" height="6.46" fill="#BFDDEC" stroke="#9E9E9E" stroke-width="0.55"/>
<rect x="742.24" y="1122.23" width="36.39" height="6.46" fill="#BFDDEC" stroke="#9E9E9E" stroke-width="0.55"/>
<rect x="778.63" y="1122.23" width="36.39" height="6.46" fill="#A4CCE2" stroke="#9E9E9E" stroke-width="0.55"/>
<rect x="815.02" y="1122.23" width="36.39" height="6.46" fill="#A4CCE2" stroke="#9E9E9E" stroke-width="0.55"/>
<rect x="851.41" y="1122.23" width="36.39" height="6.46" fill="#A4CCE2" stroke="#9E9E9E" stroke-width="0.55"/>
<text x="891.5" y="1127.7" font-size="6.2" text-anchor="start" fill="#000">DOK7</text>
<rect x="560.30" y="1128.68" width="36.39" height="6.46" fill="#FFFAB7" stroke="#9E9E9E" stroke-width="0.55"/>
<rect x="596.69" y="1128.68" width="36.39" height="6.46" fill="#FDC981" stroke="#9E9E9E" stroke-width="0.55"/>
<rect x="633.08" y="1128.68" width="36.39" height="6.46" fill="#FDAC6E" stroke="#9E9E9E" stroke-width="0.55"/>
<rect x="669.47" y="1128.68" width="36.39" height="6.46" fill="#BFDDEC" stroke="#9E9E9E" stroke-width="0.55"/>
<rect x="705.86" y="1128.68" width="36.39" height="6.46" fill="#E0F3F8" stroke="#9E9E9E" stroke-width="0.55"/>
<rect x="742.24" y="1128.68" width="36.39" height="6.46" fill="#BFDDEC" stroke="#9E9E9E" stroke-width="0.55"/>
<rect x="778.63" y="1128.68" width="36.39" height="6.46" fill="#A4CCE2" stroke="#9E9E9E" stroke-width="0.55"/>
<rect x="815.02" y="1128.68" width="36.39" height="6.46" fill="#A4CCE2" stroke="#9E9E9E" stroke-width="0.55"/>
<rect x="851.41" y="1128.68" width="36.39" height="6.46" fill="#BFDDEC" stroke="#9E9E9E" stroke-width="0.55"/>
<text x="891.5" y="1134.1" font-size="6.2" text-anchor="start" fill="#000">AMOTL2</text>
<rect x="560.30" y="1135.14" width="36.39" height="6.46" fill="#FFFAB7" stroke="#9E9E9E" stroke-width="0.55"/>
<rect x="596.69" y="1135.14" width="36.39" height="6.46" fill="#FDC981" stroke="#9E9E9E" stroke-width="0.55"/>
<rect x="633.08" y="1135.14" width="36.39" height="6.46" fill="#FDAC6E" stroke="#9E9E9E" stroke-width="0.55"/>
<rect x="669.47" y="1135.14" width="36.39" height="6.46" fill="#BFDDEC" stroke="#9E9E9E" stroke-width="0.55"/>
<rect x="705.86" y="1135.14" width="36.39" height="6.46" fill="#BFDDEC" stroke="#9E9E9E" stroke-width="0.55"/>
<rect x="742.24" y="1135.14" width="36.39" height="6.46" fill="#E0F3F8" stroke="#9E9E9E" stroke-width="0.55"/>
<rect x="778.63" y="1135.14" width="36.39" height="6.46" fill="#A4CCE2" stroke="#9E9E9E" stroke-width="0.55"/>
<rect x="815.02" y="1135.14" width="36.39" height="6.46" fill="#A4CCE2" stroke="#9E9E9E" stroke-width="0.55"/>
<rect x="851.41" y="1135.14" width="36.39" height="6.46" fill="#A4CCE2" stroke="#9E9E9E" stroke-width="0.55"/>
<text x="891.5" y="1140.6" font-size="6.2" text-anchor="start" fill="#000">MTND4P12</text>
<rect x="560.30" y="1141.60" width="36.39" height="6.46" fill="#FEEDA3" stroke="#9E9E9E" stroke-width="0.55"/>
<rect x="596.69" y="1141.60" width="36.39" height="6.46" fill="#FDC981" stroke="#9E9E9E" stroke-width="0.55"/>
<rect x="633.08" y="1141.60" width="36.39" height="6.46" fill="#FDAC6E" stroke="#9E9E9E" stroke-width="0.55"/>
<rect x="669.47" y="1141.60" width="36.39" height="6.46" fill="#BFDDEC" stroke="#9E9E9E" stroke-width="0.55"/>
<rect x="705.86" y="1141.60" width="36.39" height="6.46" fill="#BFDDEC" stroke="#9E9E9E" stroke-width="0.55"/>
<rect x="742.24" y="1141.60" width="36.39" height="6.46" fill="#BFDDEC" stroke="#9E9E9E" stroke-width="0.55"/>
<rect x="778.63" y="1141.60" width="36.39" height="6.46" fill="#A4CCE2" stroke="#9E9E9E" stroke-width="0.55"/>
<rect x="815.02" y="1141.60" width="36.39" height="6.46" fill="#A4CCE2" stroke="#9E9E9E" stroke-width="0.55"/>
<rect x="851.41" y="1141.60" width="36.39" height="6.46" fill="#BFDDEC" stroke="#9E9E9E" stroke-width="0.55"/>
<text x="891.5" y="1147.0" font-size="6.2" text-anchor="start" fill="#000">HSPA6</text>
<rect x="560.30" y="1148.05" width="36.39" height="6.46" fill="#FEE293" stroke="#9E9E9E" stroke-width="0.55"/>
<rect x="596.69" y="1148.05" width="36.39" height="6.46" fill="#FDC981" stroke="#9E9E9E" stroke-width="0.55"/>
<rect x="633.08" y="1148.05" width="36.39" height="6.46" fill="#FDC981" stroke="#9E9E9E" stroke-width="0.55"/>
<rect x="669.47" y="1148.05" width="36.39" height="6.46" fill="#BFDDEC" stroke="#9E9E9E" stroke-width="0.55"/>
<rect x="705.86" y="1148.05" width="36.39" height="6.46" fill="#BFDDEC" stroke="#9E9E9E" stroke-width="0.55"/>
<rect x="742.24" y="1148.05" width="36.39" height="6.46" fill="#BFDDEC" stroke="#9E9E9E" stroke-width="0.55"/>
<rect x="778.63" y="1148.05" width="36.39" height="6.46" fill="#A4CCE2" stroke="#9E9E9E" stroke-width="0.55"/>
<rect x="815.02" y="1148.05" width="36.39" height="6.46" fill="#A4CCE2" stroke="#9E9E9E" stroke-width="0.55"/>
<rect x="851.41" y="1148.05" width="36.39" height="6.46" fill="#BFDDEC" stroke="#9E9E9E" stroke-width="0.55"/>
<text x="891.5" y="1153.5" font-size="6.2" text-anchor="start" fill="#000">TNNT2</text>
<rect x="560.30" y="1154.51" width="36.39" height="6.46" fill="#F1FAD9" stroke="#9E9E9E" stroke-width="0.55"/>
<rect x="596.69" y="1154.51" width="36.39" height="6.46" fill="#FDC981" stroke="#9E9E9E" stroke-width="0.55"/>
<rect x="633.08" y="1154.51" width="36.39" height="6.46" fill="#FDC981" stroke="#9E9E9E" stroke-width="0.55"/>
<rect x="669.47" y="1154.51" width="36.39" height="6.46" fill="#79A8CF" stroke="#9E9E9E" stroke-width="0.55"/>
<rect x="705.86" y="1154.51" width="36.39" height="6.46" fill="#79A8CF" stroke="#9E9E9E" stroke-width="0.55"/>
<rect x="742.24" y="1154.51" width="36.39" height="6.46" fill="#79A8CF" stroke="#9E9E9E" stroke-width="0.55"/>
<rect x="778.63" y="1154.51" width="36.39" height="6.46" fill="#F1FAD9" stroke="#9E9E9E" stroke-width="0.55"/>
<rect x="815.02" y="1154.51" width="36.39" height="6.46" fill="#F1FAD9" stroke="#9E9E9E" stroke-width="0.55"/>
<rect x="851.41" y="1154.51" width="36.39" height="6.46" fill="#BFDDEC" stroke="#9E9E9E" stroke-width="0.55"/>
<text x="891.5" y="1159.9" font-size="6.2" text-anchor="start" fill="#000">KRTAP2−3</text>
<rect x="560.30" y="1160.96" width="36.39" height="6.46" fill="#FFFAB7" stroke="#9E9E9E" stroke-width="0.55"/>
<rect x="596.69" y="1160.96" width="36.39" height="6.46" fill="#FDC981" stroke="#9E9E9E" stroke-width="0.55"/>
<rect x="633.08" y="1160.96" width="36.39" height="6.46" fill="#FDC981" stroke="#9E9E9E" stroke-width="0.55"/>
<rect x="669.47" y="1160.96" width="36.39" height="6.46" fill="#A4CCE2" stroke="#9E9E9E" stroke-width="0.55"/>
<rect x="705.86" y="1160.96" width="36.39" height="6.46" fill="#79A8CF" stroke="#9E9E9E" stroke-width="0.55"/>
<rect x="742.24" y="1160.96" width="36.39" height="6.46" fill="#79A8CF" stroke="#9E9E9E" stroke-width="0.55"/>
<rect x="778.63" y="1160.96" width="36.39" height="6.46" fill="#BFDDEC" stroke="#9E9E9E" stroke-width="0.55"/>
<rect x="815.02" y="1160.96" width="36.39" height="6.46" fill="#BFDDEC" stroke="#9E9E9E" stroke-width="0.55"/>
<rect x="851.41" y="1160.96" width="36.39" height="6.46" fill="#E0F3F8" stroke="#9E9E9E" stroke-width="0.55"/>
<text x="891.5" y="1166.4" font-size="6.2" text-anchor="start" fill="#000">MYBPH</text>
<rect x="560.30" y="1167.42" width="36.39" height="6.46" fill="#FFFAB7" stroke="#9E9E9E" stroke-width="0.55"/>
<rect x="596.69" y="1167.42" width="36.39" height="6.46" fill="#FDC981" stroke="#9E9E9E" stroke-width="0.55"/>
<rect x="633.08" y="1167.42" width="36.39" height="6.46" fill="#FDC981" stroke="#9E9E9E" stroke-width="0.55"/>
<rect x="669.47" y="1167.42" width="36.39" height="6.46" fill="#A4CCE2" stroke="#9E9E9E" stroke-width="0.55"/>
<rect x="705.86" y="1167.42" width="36.39" height="6.46" fill="#A4CCE2" stroke="#9E9E9E" stroke-width="0.55"/>
<rect x="742.24" y="1167.42" width="36.39" height="6.46" fill="#79A8CF" stroke="#9E9E9E" stroke-width="0.55"/>
<rect x="778.63" y="1167.42" width="36.39" height="6.46" fill="#BFDDEC" stroke="#9E9E9E" stroke-width="0.55"/>
<rect x="815.02" y="1167.42" width="36.39" height="6.46" fill="#BFDDEC" stroke="#9E9E9E" stroke-width="0.55"/>
<rect x="851.41" y="1167.42" width="36.39" height="6.46" fill="#F1FAD9" stroke="#9E9E9E" stroke-width="0.55"/>
<text x="891.5" y="1172.8" font-size="6.2" text-anchor="start" fill="#000">MYH7</text>
<rect x="560.30" y="1173.87" width="36.39" height="6.46" fill="#FFFAB7" stroke="#9E9E9E" stroke-width="0.55"/>
<rect x="596.69" y="1173.87" width="36.39" height="6.46" fill="#FDAC6E" stroke="#9E9E9E" stroke-width="0.55"/>
<rect x="633.08" y="1173.87" width="36.39" height="6.46" fill="#FDC981" stroke="#9E9E9E" stroke-width="0.55"/>
<rect x="669.47" y="1173.87" width="36.39" height="6.46" fill="#A4CCE2" stroke="#9E9E9E" stroke-width="0.55"/>
<rect x="705.86" y="1173.87" width="36.39" height="6.46" fill="#A4CCE2" stroke="#9E9E9E" stroke-width="0.55"/>
<rect x="742.24" y="1173.87" width="36.39" height="6.46" fill="#79A8CF" stroke="#9E9E9E" stroke-width="0.55"/>
<rect x="778.63" y="1173.87" width="36.39" height="6.46" fill="#BFDDEC" stroke="#9E9E9E" stroke-width="0.55"/>
<rect x="815.02" y="1173.87" width="36.39" height="6.46" fill="#BFDDEC" stroke="#9E9E9E" stroke-width="0.55"/>
<rect x="851.41" y="1173.87" width="36.39" height="6.46" fill="#E0F3F8" stroke="#9E9E9E" stroke-width="0.55"/>
<text x="891.5" y="1179.3" font-size="6.2" text-anchor="start" fill="#000">IRS1</text>
<rect x="560.30" y="1180.33" width="36.39" height="6.46" fill="#FFFAB7" stroke="#9E9E9E" stroke-width="0.55"/>
<rect x="596.69" y="1180.33" width="36.39" height="6.46" fill="#FDAC6E" stroke="#9E9E9E" stroke-width="0.55"/>
<rect x="633.08" y="1180.33" width="36.39" height="6.46" fill="#FDC981" stroke="#9E9E9E" stroke-width="0.55"/>
<rect x="669.47" y="1180.33" width="36.39" height="6.46" fill="#A4CCE2" stroke="#9E9E9E" stroke-width="0.55"/>
<rect x="705.86" y="1180.33" width="36.39" height="6.46" fill="#A4CCE2" stroke="#9E9E9E" stroke-width="0.55"/>
<rect x="742.24" y="1180.33" width="36.39" height="6.46" fill="#79A8CF" stroke="#9E9E9E" stroke-width="0.55"/>
<rect x="778.63" y="1180.33" width="36.39" height="6.46" fill="#BFDDEC" stroke="#9E9E9E" stroke-width="0.55"/>
<rect x="815.02" y="1180.33" width="36.39" height="6.46" fill="#BFDDEC" stroke="#9E9E9E" stroke-width="0.55"/>
<rect x="851.41" y="1180.33" width="36.39" height="6.46" fill="#E0F3F8" stroke="#9E9E9E" stroke-width="0.55"/>
<text x="891.5" y="1185.8" font-size="6.2" text-anchor="start" fill="#000">TNNC2</text>
<rect x="560.30" y="1186.79" width="36.39" height="6.46" fill="#FFFAB7" stroke="#9E9E9E" stroke-width="0.55"/>
<rect x="596.69" y="1186.79" width="36.39" height="6.46" fill="#FDAC6E" stroke="#9E9E9E" stroke-width="0.55"/>
<rect x="633.08" y="1186.79" width="36.39" height="6.46" fill="#FDC981" stroke="#9E9E9E" stroke-width="0.55"/>
<rect x="669.47" y="1186.79" width="36.39" height="6.46" fill="#A4CCE2" stroke="#9E9E9E" stroke-width="0.55"/>
<rect x="705.86" y="1186.79" width="36.39" height="6.46" fill="#A4CCE2" stroke="#9E9E9E" stroke-width="0.55"/>
<rect x="742.24" y="1186.79" width="36.39" height="6.46" fill="#79A8CF" stroke="#9E9E9E" stroke-width="0.55"/>
<rect x="778.63" y="1186.79" width="36.39" height="6.46" fill="#BFDDEC" stroke="#9E9E9E" stroke-width="0.55"/>
<rect x="815.02" y="1186.79" width="36.39" height="6.46" fill="#E0F3F8" stroke="#9E9E9E" stroke-width="0.55"/>
<rect x="851.41" y="1186.79" width="36.39" height="6.46" fill="#E0F3F8" stroke="#9E9E9E" stroke-width="0.55"/>
<text x="891.5" y="1192.2" font-size="6.2" text-anchor="start" fill="#000">APLN</text>
<rect x="560.30" y="1193.24" width="36.39" height="6.46" fill="#FEEDA3" stroke="#9E9E9E" stroke-width="0.55"/>
<rect x="596.69" y="1193.24" width="36.39" height="6.46" fill="#FDAC6E" stroke="#9E9E9E" stroke-width="0.55"/>
<rect x="633.08" y="1193.24" width="36.39" height="6.46" fill="#FDC981" stroke="#9E9E9E" stroke-width="0.55"/>
<rect x="669.47" y="1193.24" width="36.39" height="6.46" fill="#A4CCE2" stroke="#9E9E9E" stroke-width="0.55"/>
<rect x="705.86" y="1193.24" width="36.39" height="6.46" fill="#A4CCE2" stroke="#9E9E9E" stroke-width="0.55"/>
<rect x="742.24" y="1193.24" width="36.39" height="6.46" fill="#79A8CF" stroke="#9E9E9E" stroke-width="0.55"/>
<rect x="778.63" y="1193.24" width="36.39" height="6.46" fill="#A4CCE2" stroke="#9E9E9E" stroke-width="0.55"/>
<rect x="815.02" y="1193.24" width="36.39" height="6.46" fill="#E0F3F8" stroke="#9E9E9E" stroke-width="0.55"/>
<rect x="851.41" y="1193.24" width="36.39" height="6.46" fill="#BFDDEC" stroke="#9E9E9E" stroke-width="0.55"/>
<text x="891.5" y="1198.7" font-size="6.2" text-anchor="start" fill="#000">MYMK</text>
<rect x="560.30" y="1199.70" width="36.39" height="6.46" fill="#F1FAD9" stroke="#9E9E9E" stroke-width="0.55"/>
<rect x="596.69" y="1199.70" width="36.39" height="6.46" fill="#FEE293" stroke="#9E9E9E" stroke-width="0.55"/>
<rect x="633.08" y="1199.70" width="36.39" height="6.46" fill="#EB6343" stroke="#9E9E9E" stroke-width="0.55"/>
<rect x="669.47" y="1199.70" width="36.39" height="6.46" fill="#A4CCE2" stroke="#9E9E9E" stroke-width="0.55"/>
<rect x="705.86" y="1199.70" width="36.39" height="6.46" fill="#BFDDEC" stroke="#9E9E9E" stroke-width="0.55"/>
<rect x="742.24" y="1199.70" width="36.39" height="6.46" fill="#A4CCE2" stroke="#9E9E9E" stroke-width="0.55"/>
<rect x="778.63" y="1199.70" width="36.39" height="6.46" fill="#BFDDEC" stroke="#9E9E9E" stroke-width="0.55"/>
<rect x="815.02" y="1199.70" width="36.39" height="6.46" fill="#BFDDEC" stroke="#9E9E9E" stroke-width="0.55"/>
<rect x="851.41" y="1199.70" width="36.39" height="6.46" fill="#BFDDEC" stroke="#9E9E9E" stroke-width="0.55"/>
<text x="891.5" y="1205.1" font-size="6.2" text-anchor="start" fill="#000">UBAP1L</text>
<rect x="560.30" y="1206.15" width="36.39" height="6.46" fill="#FFFAB7" stroke="#9E9E9E" stroke-width="0.55"/>
<rect x="596.69" y="1206.15" width="36.39" height="6.46" fill="#FDC981" stroke="#9E9E9E" stroke-width="0.55"/>
<rect x="633.08" y="1206.15" width="36.39" height="6.46" fill="#F67D50" stroke="#9E9E9E" stroke-width="0.55"/>
<rect x="669.47" y="1206.15" width="36.39" height="6.46" fill="#A4CCE2" stroke="#9E9E9E" stroke-width="0.55"/>
<rect x="705.86" y="1206.15" width="36.39" height="6.46" fill="#E0F3F8" stroke="#9E9E9E" stroke-width="0.55"/>
<rect x="742.24" y="1206.15" width="36.39" height="6.46" fill="#BFDDEC" stroke="#9E9E9E" stroke-width="0.55"/>
<rect x="778.63" y="1206.15" width="36.39" height="6.46" fill="#BFDDEC" stroke="#9E9E9E" stroke-width="0.55"/>
<rect x="815.02" y="1206.15" width="36.39" height="6.46" fill="#BFDDEC" stroke="#9E9E9E" stroke-width="0.55"/>
<rect x="851.41" y="1206.15" width="36.39" height="6.46" fill="#A4CCE2" stroke="#9E9E9E" stroke-width="0.55"/>
<text x="891.5" y="1211.6" font-size="6.2" text-anchor="start" fill="#000">CRIM1</text>
<rect x="560.30" y="1212.61" width="36.39" height="6.46" fill="#F1FAD9" stroke="#9E9E9E" stroke-width="0.55"/>
<rect x="596.69" y="1212.61" width="36.39" height="6.46" fill="#FDC981" stroke="#9E9E9E" stroke-width="0.55"/>
<rect x="633.08" y="1212.61" width="36.39" height="6.46" fill="#F67D50" stroke="#9E9E9E" stroke-width="0.55"/>
<rect x="669.47" y="1212.61" width="36.39" height="6.46" fill="#A4CCE2" stroke="#9E9E9E" stroke-width="0.55"/>
<rect x="705.86" y="1212.61" width="36.39" height="6.46" fill="#BFDDEC" stroke="#9E9E9E" stroke-width="0.55"/>
<rect x="742.24" y="1212.61" width="36.39" height="6.46" fill="#BFDDEC" stroke="#9E9E9E" stroke-width="0.55"/>
<rect x="778.63" y="1212.61" width="36.39" height="6.46" fill="#E0F3F8" stroke="#9E9E9E" stroke-width="0.55"/>
<rect x="815.02" y="1212.61" width="36.39" height="6.46" fill="#BFDDEC" stroke="#9E9E9E" stroke-width="0.55"/>
<rect x="851.41" y="1212.61" width="36.39" height="6.46" fill="#A4CCE2" stroke="#9E9E9E" stroke-width="0.55"/>
<text x="891.5" y="1218.0" font-size="6.2" text-anchor="start" fill="#000">EPHB1</text>
<rect x="560.30" y="1219.07" width="36.39" height="6.46" fill="#FFFAB7" stroke="#9E9E9E" stroke-width="0.55"/>
<rect x="596.69" y="1219.07" width="36.39" height="6.46" fill="#F67D50" stroke="#9E9E9E" stroke-width="0.55"/>
<rect x="633.08" y="1219.07" width="36.39" height="6.46" fill="#FDAC6E" stroke="#9E9E9E" stroke-width="0.55"/>
<rect x="669.47" y="1219.07" width="36.39" height="6.46" fill="#A4CCE2" stroke="#9E9E9E" stroke-width="0.55"/>
<rect x="705.86" y="1219.07" width="36.39" height="6.46" fill="#BFDDEC" stroke="#9E9E9E" stroke-width="0.55"/>
<rect x="742.24" y="1219.07" width="36.39" height="6.46" fill="#BFDDEC" stroke="#9E9E9E" stroke-width="0.55"/>
<rect x="778.63" y="1219.07" width="36.39" height="6.46" fill="#BFDDEC" stroke="#9E9E9E" stroke-width="0.55"/>
<rect x="815.02" y="1219.07" width="36.39" height="6.46" fill="#BFDDEC" stroke="#9E9E9E" stroke-width="0.55"/>
<rect x="851.41" y="1219.07" width="36.39" height="6.46" fill="#BFDDEC" stroke="#9E9E9E" stroke-width="0.55"/>
<text x="891.5" y="1224.5" font-size="6.2" text-anchor="start" fill="#000">RNA5SP202</text>
<rect x="560.30" y="1225.52" width="36.39" height="6.46" fill="#FFFAB7" stroke="#9E9E9E" stroke-width="0.55"/>
<rect x="596.69" y="1225.52" width="36.39" height="6.46" fill="#F67D50" stroke="#9E9E9E" stroke-width="0.55"/>
<rect x="633.08" y="1225.52" width="36.39" height="6.46" fill="#FDC981" stroke="#9E9E9E" stroke-width="0.55"/>
<rect x="669.47" y="1225.52" width="36.39" height="6.46" fill="#A4CCE2" stroke="#9E9E9E" stroke-width="0.55"/>
<rect x="705.86" y="1225.52" width="36.39" height="6.46" fill="#A4CCE2" stroke="#9E9E9E" stroke-width="0.55"/>
<rect x="742.24" y="1225.52" width="36.39" height="6.46" fill="#A4CCE2" stroke="#9E9E9E" stroke-width="0.55"/>
<rect x="778.63" y="1225.52" width="36.39" height="6.46" fill="#A4CCE2" stroke="#9E9E9E" stroke-width="0.55"/>
<rect x="815.02" y="1225.52" width="36.39" height="6.46" fill="#BFDDEC" stroke="#9E9E9E" stroke-width="0.55"/>
<rect x="851.41" y="1225.52" width="36.39" height="6.46" fill="#A4CCE2" stroke="#9E9E9E" stroke-width="0.55"/>
<text x="891.5" y="1230.9" font-size="6.2" text-anchor="start" fill="#000">TMEM108</text>
<rect x="560.30" y="1231.98" width="36.39" height="6.46" fill="#FFFAB7" stroke="#9E9E9E" stroke-width="0.55"/>
<rect x="596.69" y="1231.98" width="36.39" height="6.46" fill="#F67D50" stroke="#9E9E9E" stroke-width="0.55"/>
<rect x="633.08" y="1231.98" width="36.39" height="6.46" fill="#FDC981" stroke="#9E9E9E" stroke-width="0.55"/>
<rect x="669.47" y="1231.98" width="36.39" height="6.46" fill="#BFDDEC" stroke="#9E9E9E" stroke-width="0.55"/>
<rect x="705.86" y="1231.98" width="36.39" height="6.46" fill="#BFDDEC" stroke="#9E9E9E" stroke-width="0.55"/>
<rect x="742.24" y="1231.98" width="36.39" height="6.46" fill="#BFDDEC" stroke="#9E9E9E" stroke-width="0.55"/>
<rect x="778.63" y="1231.98" width="36.39" height="6.46" fill="#BFDDEC" stroke="#9E9E9E" stroke-width="0.55"/>
<rect x="815.02" y="1231.98" width="36.39" height="6.46" fill="#BFDDEC" stroke="#9E9E9E" stroke-width="0.55"/>
<rect x="851.41" y="1231.98" width="36.39" height="6.46" fill="#79A8CF" stroke="#9E9E9E" stroke-width="0.55"/>
<text x="891.5" y="1237.4" font-size="6.2" text-anchor="start" fill="#000">MTATP6P1</text>
<rect x="560.30" y="1238.43" width="36.39" height="6.46" fill="#FFFAB7" stroke="#9E9E9E" stroke-width="0.55"/>
<rect x="596.69" y="1238.43" width="36.39" height="6.46" fill="#F67D50" stroke="#9E9E9E" stroke-width="0.55"/>
<rect x="633.08" y="1238.43" width="36.39" height="6.46" fill="#FDC981" stroke="#9E9E9E" stroke-width="0.55"/>
<rect x="669.47" y="1238.43" width="36.39" height="6.46" fill="#BFDDEC" stroke="#9E9E9E" stroke-width="0.55"/>
<rect x="705.86" y="1238.43" width="36.39" height="6.46" fill="#BFDDEC" stroke="#9E9E9E" stroke-width="0.55"/>
<rect x="742.24" y="1238.43" width="36.39" height="6.46" fill="#BFDDEC" stroke="#9E9E9E" stroke-width="0.55"/>
<rect x="778.63" y="1238.43" width="36.39" height="6.46" fill="#BFDDEC" stroke="#9E9E9E" stroke-width="0.55"/>
<rect x="815.02" y="1238.43" width="36.39" height="6.46" fill="#BFDDEC" stroke="#9E9E9E" stroke-width="0.55"/>
<rect x="851.41" y="1238.43" width="36.39" height="6.46" fill="#BFDDEC" stroke="#9E9E9E" stroke-width="0.55"/>
<text x="891.5" y="1243.9" font-size="6.2" text-anchor="start" fill="#000">MTND2P28</text>
<rect x="560.30" y="1244.89" width="36.39" height="6.46" fill="#E0F3F8" stroke="#9E9E9E" stroke-width="0.55"/>
<rect x="596.69" y="1244.89" width="36.39" height="6.46" fill="#FDC981" stroke="#9E9E9E" stroke-width="0.55"/>
<rect x="633.08" y="1244.89" width="36.39" height="6.46" fill="#F67D50" stroke="#9E9E9E" stroke-width="0.55"/>
<rect x="669.47" y="1244.89" width="36.39" height="6.46" fill="#E0F3F8" stroke="#9E9E9E" stroke-width="0.55"/>
<rect x="705.86" y="1244.89" width="36.39" height="6.46" fill="#A4CCE2" stroke="#9E9E9E" stroke-width="0.55"/>
<rect x="742.24" y="1244.89" width="36.39" height="6.46" fill="#BFDDEC" stroke="#9E9E9E" stroke-width="0.55"/>
<rect x="778.63" y="1244.89" width="36.39" height="6.46" fill="#BFDDEC" stroke="#9E9E9E" stroke-width="0.55"/>
<rect x="815.02" y="1244.89" width="36.39" height="6.46" fill="#BFDDEC" stroke="#9E9E9E" stroke-width="0.55"/>
<rect x="851.41" y="1244.89" width="36.39" height="6.46" fill="#BFDDEC" stroke="#9E9E9E" stroke-width="0.55"/>
<text x="891.5" y="1250.3" font-size="6.2" text-anchor="start" fill="#000">ASIC4</text>
<rect x="560.30" y="1251.34" width="36.39" height="6.46" fill="#FFFAB7" stroke="#9E9E9E" stroke-width="0.55"/>
<rect x="596.69" y="1251.34" width="36.39" height="6.46" fill="#FDC981" stroke="#9E9E9E" stroke-width="0.55"/>
<rect x="633.08" y="1251.34" width="36.39" height="6.46" fill="#FDAC6E" stroke="#9E9E9E" stroke-width="0.55"/>
<rect x="669.47" y="1251.34" width="36.39" height="6.46" fill="#E0F3F8" stroke="#9E9E9E" stroke-width="0.55"/>
<rect x="705.86" y="1251.34" width="36.39" height="6.46" fill="#A4CCE2" stroke="#9E9E9E" stroke-width="0.55"/>
<rect x="742.24" y="1251.34" width="36.39" height="6.46" fill="#A4CCE2" stroke="#9E9E9E" stroke-width="0.55"/>
<rect x="778.63" y="1251.34" width="36.39" height="6.46" fill="#79A8CF" stroke="#9E9E9E" stroke-width="0.55"/>
<rect x="815.02" y="1251.34" width="36.39" height="6.46" fill="#E0F3F8" stroke="#9E9E9E" stroke-width="0.55"/>
<rect x="851.41" y="1251.34" width="36.39" height="6.46" fill="#BFDDEC" stroke="#9E9E9E" stroke-width="0.55"/>
<text x="891.5" y="1256.8" font-size="6.2" text-anchor="start" fill="#000">NMRK2</text>
<rect x="560.3" y="752.1" width="36.4" height="12.9" fill="#F8766D" stroke="#9E9E9E" stroke-width="0.55"/>
<rect x="596.7" y="752.1" width="36.4" height="12.9" fill="#F8766D" stroke="#9E9E9E" stroke-width="0.55"/>
<rect x="633.1" y="752.1" width="36.4" height="12.9" fill="#F8766D" stroke="#9E9E9E" stroke-width="0.55"/>
<rect x="669.5" y="752.1" width="36.4" height="12.9" fill="#00BA38" stroke="#9E9E9E" stroke-width="0.55"/>
<rect x="705.9" y="752.1" width="36.4" height="12.9" fill="#00BA38" stroke="#9E9E9E" stroke-width="0.55"/>
<rect x="742.2" y="752.1" width="36.4" height="12.9" fill="#00BA38" stroke="#9E9E9E" stroke-width="0.55"/>
<rect x="778.6" y="752.1" width="36.4" height="12.9" fill="#619CFF" stroke="#9E9E9E" stroke-width="0.55"/>
<rect x="815.0" y="752.1" width="36.4" height="12.9" fill="#619CFF" stroke="#9E9E9E" stroke-width="0.55"/>
<rect x="851.4" y="752.1" width="36.4" height="12.9" fill="#619CFF" stroke="#9E9E9E" stroke-width="0.55"/>
<text x="891.8" y="763.4" font-size="12.3" text-anchor="start" fill="#000" font-weight="bold">Groups</text>
<path d="M578.5 752V733.6H632.4V752M614.9 752V738.5H651.3V752M632.4 733.6H605.2" fill="none" stroke="#000" stroke-width="1"/>
<path d="M605.2 733.6V684.7H769.3V730.1" fill="none" stroke="#000" stroke-width="1"/>
<path d="M714.2 730.1H824.2M714.2 730.1V741.3H687.7V752M714.2 741.3H741.4V743.3H724.0V752M741.4 743.3H760.4V752" fill="none" stroke="#000" stroke-width="1"/>
<path d="M824.2 730.1V739.9H796.8V752M824.2 739.9H851.1V744H833.2V752M851.1 744H869.6V752" fill="none" stroke="#000" stroke-width="1"/>
<path d="M554.5 772.4H559.8M556.1 778.9H559.8M556.1 785.3H559.8M556.1 778.9V785.3M554.5 782.1H556.1M554.5 772.4V782.1M552.8 777.3H554.5M552.8 791.8H559.8M552.8 777.3V791.8M551.3 784.5H552.8M553.5 798.2H559.8M556.8 804.6H559.8M558.8 811.1H559.8M558.8 817.5H559.8M558.8 824.0H559.8M558.8 817.5V824.0M558.8 820.8H558.8M558.8 811.1V820.8M558.5 815.9H558.8M558.5 830.4H559.8M558.5 815.9V830.4M556.8 823.2H558.5M556.8 804.6V823.2M554.7 813.9H556.8M554.7 836.9H559.8M554.7 813.9V836.9M553.5 825.4H554.7M553.5 798.2V825.4M551.3 811.8H553.5M551.3 784.5V811.8M545.9 798.1H551.3M555.0 843.3H559.8M557.1 849.7H559.8M557.1 856.2H559.8M557.1 849.7V856.2M555.0 853.0H557.1M555.0 843.3V853.0M554.1 848.1H555.0M554.1 862.6H559.8M554.1 848.1V862.6M552.5 855.4H554.1M557.3 869.1H559.8M558.8 875.5H559.8M558.8 882.0H559.8M558.8 875.5V882.0M558.6 878.7H558.8M558.6 888.4H559.8M558.6 878.7V888.4M557.3 883.6H558.6M557.3 869.1V883.6M556.4 876.3H557.3M556.4 894.9H559.8M556.4 876.3V894.9M555.1 885.6H556.4M557.2 901.3H559.8M558.8 907.7H559.8M558.8 914.2H559.8M558.8 920.6H559.8M558.8 914.2V920.6M558.8 917.4H558.8M558.8 907.7V917.4M558.0 912.6H558.8M558.0 927.1H559.8M558.0 912.6V927.1M557.2 919.8H558.0M557.2 901.3V919.8M556.4 910.6H557.2M557.5 933.5H559.8M557.5 940.0H559.8M557.5 933.5V940.0M556.4 936.7H557.5M556.4 910.6V936.7M555.1 923.6H556.4M555.1 885.6V923.6M553.5 904.6H555.1M553.5 946.4H559.8M553.5 904.6V946.4M552.5 925.5H553.5M552.5 855.4V925.5M550.5 890.4H552.5M552.1 952.8H559.8M552.1 959.3H559.8M552.1 952.8V959.3M551.3 956.1H552.1M552.9 965.7H559.8M552.9 972.2H559.8M552.9 965.7V972.2M551.3 969.0H552.9M551.3 956.1V969.0M550.5 962.5H551.3M550.5 890.4V962.5M545.9 926.5H550.5M545.9 798.1V926.5M555.3 983.4H559.8M557.9 989.9H559.8M557.9 996.3H559.8M557.9 989.9V996.3M556.2 993.1H557.9M556.2 1002.8H559.8M556.2 993.1V1002.8M555.3 998.0H556.2M555.3 983.4V998.0M554.8 990.7H555.3M557.5 1009.3H559.8M558.8 1015.7H559.8M558.8 1022.2H559.8M558.8 1028.6H559.8M558.8 1035.1H559.8M558.8 1028.6V1035.1M558.8 1031.8H558.8M558.8 1041.5H559.8M558.8 1031.8V1041.5M558.8 1036.7H558.8M558.8 1022.2V1036.7M558.8 1029.4H558.8M558.8 1015.7V1029.4M558.4 1022.6H558.8M558.4 1048.0H559.8M558.4 1022.6V1048.0M557.5 1035.3H558.4M557.5 1009.3V1035.3M556.3 1022.3H557.5M556.3 1054.4H559.8M556.3 1022.3V1054.4M554.8 1038.4H556.3M554.8 990.7V1038.4M558.5 1060.9H559.8M558.5 1067.4H559.8M558.5 1060.9V1067.4M558.0 1064.1H558.5M558.8 1073.8H559.8M558.8 1080.3H559.8M558.8 1086.7H559.8M558.8 1080.3V1086.7M558.8 1083.5H558.8M558.8 1073.8V1083.5M558.5 1078.7H558.8M558.8 1093.2H559.8M558.8 1099.6H559.8M558.8 1093.2V1099.6M558.5 1096.4H558.8M558.5 1078.7V1096.4M558.0 1087.5H558.5M558.0 1064.1V1087.5M555.9 1075.8H558.0M558.3 1106.1H559.8M558.3 1112.5H559.8M558.3 1106.1V1112.5M557.5 1109.3H558.3M557.5 1119.0H559.8M557.5 1109.3V1119.0M555.9 1114.2H557.5M555.9 1075.8V1114.2M554.4 1095.0H555.9M555.5 1125.5H559.8M558.8 1131.9H559.8M558.8 1138.4H559.8M558.8 1131.9V1138.4M558.6 1135.1H558.8M558.6 1144.8H559.8M558.6 1135.1V1144.8M557.1 1140.0H558.6M557.1 1151.3H559.8M557.1 1140.0V1151.3M555.5 1145.6H557.1M555.5 1125.5V1145.6M554.4 1135.5H555.5M554.4 1095.0V1135.5M554.8 1157.7H559.8M554.8 1164.2H559.8M554.8 1157.7V1164.2M553.8 1161.0H554.8M558.7 1170.6H559.8M558.7 1177.1H559.8M558.7 1170.6V1177.1M558.2 1173.9H558.7M558.2 1183.6H559.8M558.2 1173.9V1183.6M557.5 1178.7H558.2M557.5 1190.0H559.8M557.5 1178.7V1190.0M555.6 1184.4H557.5M558.0 1196.5H559.8M558.8 1202.9H559.8M558.8 1209.4H559.8M558.8 1202.9V1209.4M558.0 1206.2H558.8M558.0 1196.5V1206.2M556.3 1201.3H558.0M556.3 1215.8H559.8M556.3 1201.3V1215.8M555.6 1208.6H556.3M555.6 1184.4V1208.6M553.8 1196.5H555.6M553.8 1161.0V1196.5M552.6 1178.7H553.8M555.9 1222.3H559.8M555.9 1228.7H559.8M555.9 1222.3V1228.7M554.3 1225.5H555.9M555.8 1235.2H559.8M558.3 1241.7H559.8M558.3 1248.1H559.8M558.3 1241.7V1248.1M557.7 1244.9H558.3M557.7 1254.6H559.8M557.7 1244.9V1254.6M555.8 1249.7H557.7M555.8 1235.2V1249.7M554.3 1242.5H555.8M554.3 1225.5V1242.5M552.6 1234.0H554.3M552.6 1178.7V1234.0M550 1115.3H554.4M550 1206.4H552.6M550 1115.3V1206.4M545.3 1014.5H554.8M545.3 1160.8H550M545.3 1014.5V1160.8M493.2 862.3H545.9M493.2 1087.7H545.3M493.2 862.3V1087.7" fill="none" stroke="#000" stroke-width="0.8"/>
<text x="848.6" y="687.6" font-size="9.3" text-anchor="start" fill="#000" font-weight="bold">Groups</text>
<rect x="848.6" y="690.3" width="15.1" height="14.6" fill="#F8766D" stroke="none" stroke-width="0"/>
<rect x="848.6" y="704.9" width="15.1" height="14.0" fill="#00BA38" stroke="none" stroke-width="0"/>
<rect x="848.6" y="718.9" width="15.1" height="14.0" fill="#619CFF" stroke="none" stroke-width="0"/>
<text x="866.1" y="700.9" font-size="9.4" text-anchor="start" fill="#000">EV−A71</text>
<text x="866.1" y="715.2" font-size="9.4" text-anchor="start" fill="#000">EV−A71+Pazopanib</text>
<text x="866.1" y="729.2" font-size="9.4" text-anchor="start" fill="#000">Mock</text>
<defs><linearGradient id="hm" x1="0" y1="1" x2="0" y2="0"><stop offset="0.000" stop-color="#4575B4"/><stop offset="0.167" stop-color="#91BFDB"/><stop offset="0.333" stop-color="#E0F3F8"/><stop offset="0.500" stop-color="#FFFFBF"/><stop offset="0.667" stop-color="#FEE090"/><stop offset="0.833" stop-color="#FC8D59"/><stop offset="1.000" stop-color="#D73027"/></linearGradient></defs>
<rect x="942.2" y="751.3" width="12.6" height="190.5" fill="url(#hm)" stroke="none" stroke-width="0"/>
<text x="959.8" y="786.3" font-size="12.2" text-anchor="start" fill="#000">2</text>
<text x="959.8" y="830.0" font-size="12.2" text-anchor="start" fill="#000">1</text>
<text x="959.8" y="873.8" font-size="12.2" text-anchor="start" fill="#000">0</text>
<text x="958.5" y="917.6" font-size="12.2" text-anchor="start" fill="#000">−1</text>
<text x="0.0" y="0.0" font-size="12.2" text-anchor="start" fill="#000" transform="translate(569.0,1263) rotate(90)">EV71.A</text>
<text x="0.0" y="0.0" font-size="12.2" text-anchor="start" fill="#000" transform="translate(605.4,1263) rotate(90)">EV71.B</text>
<text x="0.0" y="0.0" font-size="12.2" text-anchor="start" fill="#000" transform="translate(641.8,1263) rotate(90)">EV71.C</text>
<text x="0.0" y="0.0" font-size="12.2" text-anchor="start" fill="#000" transform="translate(678.2,1263) rotate(90)">P.A</text>
<text x="0.0" y="0.0" font-size="12.2" text-anchor="start" fill="#000" transform="translate(714.5,1263) rotate(90)">P.B</text>
<text x="0.0" y="0.0" font-size="12.2" text-anchor="start" fill="#000" transform="translate(750.9,1263) rotate(90)">P.C</text>
<text x="0.0" y="0.0" font-size="12.2" text-anchor="start" fill="#000" transform="translate(787.3,1263) rotate(90)">MOCK.C</text>
<text x="0.0" y="0.0" font-size="12.2" text-anchor="start" fill="#000" transform="translate(823.7,1263) rotate(90)">MOCK.A</text>
<text x="0.0" y="0.0" font-size="12.2" text-anchor="start" fill="#000" transform="translate(860.1,1263) rotate(90)">MOCK.B</text>
</svg></body></html>
